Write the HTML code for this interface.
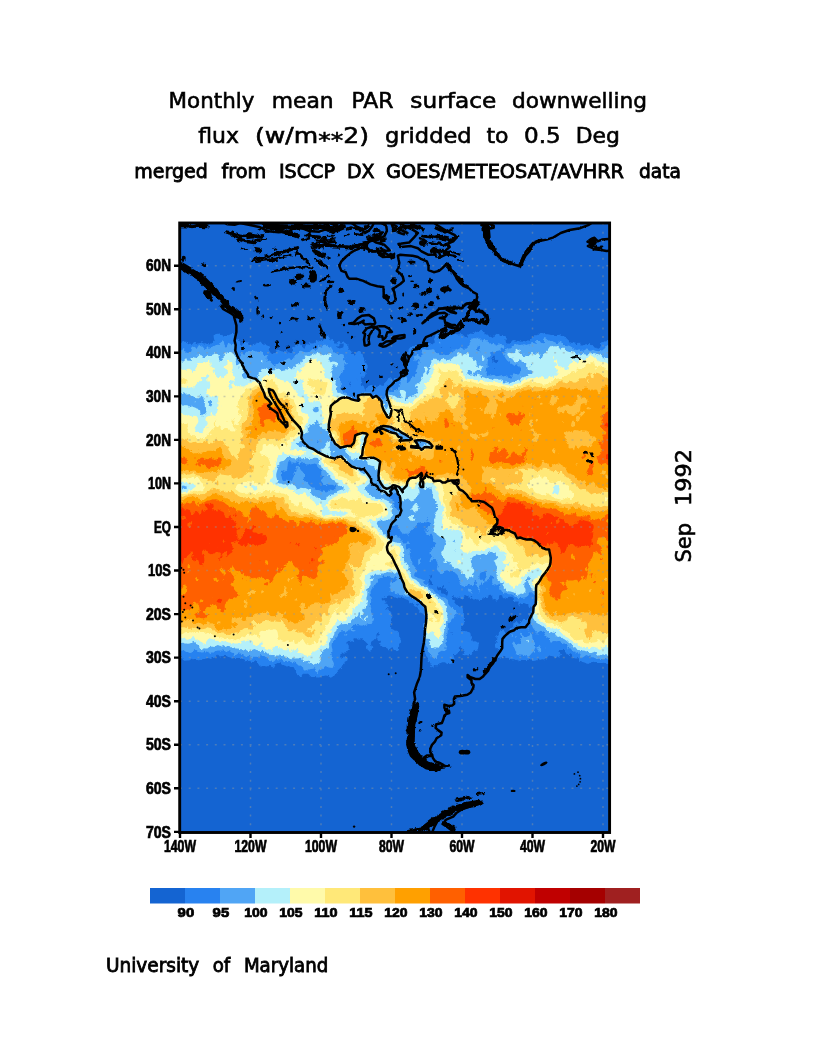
<!DOCTYPE html>
<html><head><meta charset="utf-8"><title>Monthly mean PAR surface downwelling flux</title>
<style>
html,body{margin:0;padding:0;background:#fff}
svg{display:block}
text{font-family:"Liberation Sans",sans-serif;fill:#000}
.t1 text{font-family:"DejaVu Sans","Liberation Sans",sans-serif;stroke:#000;stroke-width:.6px}
.t2 text{font-family:"DejaVu Sans","Liberation Sans",sans-serif;stroke:#000;stroke-width:.85px}
.ax text{font-weight:bold;stroke:#000;stroke-width:.7px}
</style></head><body>
<svg width="816" height="1056" viewBox="0 0 816 1056">
<rect width="816" height="1056" fill="#fff"/>
<g class="t1">
<text x="168.6" y="108.2" font-size="22" textLength="85.8" lengthAdjust="spacingAndGlyphs">Monthly</text>
<text x="271.8" y="108.2" font-size="22" textLength="61.9" lengthAdjust="spacingAndGlyphs">mean</text>
<text x="351.5" y="108.2" font-size="22" textLength="42.0" lengthAdjust="spacingAndGlyphs">PAR</text>
<text x="410.3" y="108.2" font-size="22" textLength="86.0" lengthAdjust="spacingAndGlyphs">surface</text>
<text x="512.0" y="108.2" font-size="22" textLength="135.0" lengthAdjust="spacingAndGlyphs">downwelling</text>
<text x="198.3" y="143.4" font-size="22" textLength="40.7" lengthAdjust="spacingAndGlyphs">flux</text>
<text x="255.0" y="143.4" font-size="22" textLength="114.0" lengthAdjust="spacingAndGlyphs">(w/m<tspan dy="4.5">**</tspan><tspan dy="-4.5">2)</tspan></text>
<text x="385.0" y="143.4" font-size="22" textLength="86.7" lengthAdjust="spacingAndGlyphs">gridded</text>
<text x="486.4" y="143.4" font-size="22" textLength="22.1" lengthAdjust="spacingAndGlyphs">to</text>
<text x="524.0" y="143.4" font-size="22" textLength="36.7" lengthAdjust="spacingAndGlyphs">0.5</text>
<text x="575.7" y="143.4" font-size="22" textLength="44.2" lengthAdjust="spacingAndGlyphs">Deg</text>
<g transform="translate(690.9,562.6) rotate(-90)">
<text x="0.0" y="0.0" font-size="22" textLength="39.6" lengthAdjust="spacingAndGlyphs">Sep</text>
<text x="56.5" y="0.0" font-size="22" textLength="57.0" lengthAdjust="spacingAndGlyphs">1992</text>
</g></g>
<g class="t2">
<text x="134.3" y="177.5" font-size="19.2" textLength="73.5" lengthAdjust="spacingAndGlyphs">merged</text>
<text x="221.5" y="177.5" font-size="19.2" textLength="44.8" lengthAdjust="spacingAndGlyphs">from</text>
<text x="278.9" y="177.5" font-size="19.2" textLength="56.1" lengthAdjust="spacingAndGlyphs">ISCCP</text>
<text x="346.9" y="177.5" font-size="19.2" textLength="27.6" lengthAdjust="spacingAndGlyphs">DX</text>
<text x="386.0" y="177.5" font-size="19.2" textLength="238.0" lengthAdjust="spacingAndGlyphs">GOES/METEOSAT/AVHRR</text>
<text x="639.0" y="177.5" font-size="19.2" textLength="42.0" lengthAdjust="spacingAndGlyphs">data</text>
<text x="105.9" y="972.0" font-size="19.6" textLength="93.4" lengthAdjust="spacingAndGlyphs">University</text>
<text x="212.7" y="972.0" font-size="19.6" textLength="17.5" lengthAdjust="spacingAndGlyphs">of</text>
<text x="243.9" y="972.0" font-size="19.6" textLength="84.5" lengthAdjust="spacingAndGlyphs">Maryland</text>
</g>
<filter id="rough" x="-5%" y="-5%" width="110%" height="110%"><feTurbulence type="fractalNoise" baseFrequency="0.22" numOctaves="2" seed="3" result="n"/><feDisplacementMap in="SourceGraphic" in2="n" scale="4.5" xChannelSelector="R" yChannelSelector="G"/></filter>
<filter id="rough2" x="-5%" y="-5%" width="110%" height="110%"><feTurbulence type="fractalNoise" baseFrequency="0.35" numOctaves="2" seed="8" result="n"/><feDisplacementMap in="SourceGraphic" in2="n" scale="3.5" xChannelSelector="R" yChannelSelector="G"/></filter>
<filter id="rough3" x="-5%" y="-5%" width="110%" height="110%"><feTurbulence type="fractalNoise" baseFrequency="0.45" numOctaves="1" seed="11" result="n"/><feDisplacementMap in="SourceGraphic" in2="n" scale="2.2" xChannelSelector="R" yChannelSelector="G"/></filter>
<clipPath id="c"><rect x="180" y="223" width="429.6" height="609.5"/></clipPath>
<g clip-path="url(#c)">
<rect x="180" y="223" width="430" height="610" fill="#1464d2"/>
<g filter="url(#rough2)"><path fill="#2882f0" d="M440.7 329.9L441.7 329.2L443.5 329.5L444.3 329.9L443.5 330.6L442.9 332.1L441.7 333.1L440.7 334.3L441 336.5L441.7 337.6L443.5 338L444.7 336.5L445.3 335.6L446.7 334.3L447 333.8L448 334.3L448.8 334.8L450.5 334.6L451.3 334.3L452.3 333.9L454.1 333.9L455.8 333.9L456.6 334.3L457.6 334.6L459.4 334.3L459.5 334.3L461.1 333.9L462.2 334.3L462.9 334.6L464.3 336.5L464.6 337.2L466.4 337.7L468 336.5L468.2 335.7L468.6 334.3L469.9 333.5L471.7 333.7L473.5 334.1L475.2 332.8L476.8 332.1L477 332L478.7 331.3L480.5 331L482.3 330.8L484 332.1L484.5 332.1L484.5 334.3L485.8 334.7L487.6 334.4L489.2 336.5L489.3 336.5L491.1 337L492.8 338.1L493.9 336.5L494.6 335.5L496.1 334.3L496.4 333.9L498.1 333.4L499.3 334.3L499.9 335.9L501.7 336L503.4 335L505.2 335.7L505.8 336.5L505.7 338.6L505.6 340.8L506.1 343L506.9 343.6L508.7 343.7L510.2 343L510.5 342.9L512 340.8L512.2 340.4L514 340L515.8 340.5L517.2 340.8L517.5 340.9L519.3 341.1L521 341.4L522.8 341.8L524.6 341.4L526.3 341.3L528 340.8L528.1 340.7L529.9 339.5L530.5 338.6L531.6 337.3L533.4 337L533.9 336.5L535.1 335.3L536.9 335.2L538.7 334.7L539.1 334.3L540.4 333L542.2 333.1L544 333.6L545.7 334.1L547.5 334.2L547.8 334.3L549.2 334.4L551 335.1L552.8 335.3L554.5 335.5L556.3 336.3L558.1 335L559.8 334.5L561.6 335.6L563.3 336.4L563.5 336.5L565.1 336.7L566.9 338.6L566.9 338.7L568.6 340.2L569 340.8L570.4 342.4L572 343L572.2 343.1L572.3 343L573.9 341.8L574.9 343L575.7 344L577.4 344.2L578.5 343L579.2 342.7L579.9 343L581 345.2L581 345.2L582.7 345.6L583.3 345.2L584.5 344.5L586.3 344.3L588 344L589.8 344.2L591.5 345L591.7 345.2L593.3 346L594.5 347.4L595.1 347.7L596.8 348.3L598.6 348.8L600.2 347.4L600.4 346.7L600.8 345.2L601.5 343L602.1 342.2L603.9 341.3L605.6 341.6L607.4 341L609.2 341.1L610.9 341.3L612.7 341.9L612.7 343L612.7 345.2L612.7 347.4L612.7 349.5L612.7 351.7L612.7 353.9L612.7 356.1L612.7 358.2L612.7 360.4L612.7 362.6L612.7 364.8L612.7 367L612.7 369.1L612.7 371.3L612.7 373.5L612.7 375.7L612.7 377.8L612.7 380L612.7 382.2L612.7 384.4L612.7 386.6L612.7 388.7L612.7 390.9L612.7 393.1L612.7 395.3L612.7 397.4L612.7 399.6L612.7 401.8L612.7 404L612.7 406.1L612.7 408.3L612.7 410.5L612.7 412.7L612.7 414.9L612.7 417L612.7 419.2L612.7 421.4L612.7 423.6L612.7 425.7L612.7 427.9L612.7 430.1L612.7 432.3L612.7 434.5L612.7 436.6L612.7 438.8L612.7 441L612.7 443.2L612.7 445.3L612.7 447.5L612.7 449.7L612.7 451.9L612.7 454.1L612.7 456.2L612.7 458.4L612.7 460.6L612.7 462.8L612.7 464.9L612.7 467.1L612.7 469.3L612.7 471.5L612.7 473.7L612.7 475.8L612.7 478L612.7 480.2L612.7 482.4L612.7 484.5L612.7 486.7L612.7 488.9L612.7 491.1L612.7 493.2L612.7 495.4L612.7 497.6L612.7 499.8L612.7 502L612.7 504.1L612.7 506.3L612.7 508.5L612.7 510.7L612.7 512.8L612.7 515L612.7 517.2L612.7 519.4L612.7 521.6L612.7 523.7L612.7 525.9L612.7 528.1L612.7 530.3L612.7 532.4L612.7 534.6L612.7 536.8L612.7 539L612.7 541.2L612.7 543.3L612.7 545.5L612.7 547.7L612.7 549.9L612.7 552L612.7 554.2L612.7 556.4L612.7 558.6L612.7 560.8L612.7 562.9L612.7 565.1L612.7 567.3L612.7 569.5L612.7 571.6L612.7 573.8L612.7 576L612.7 578.2L612.7 580.3L612.7 582.5L612.7 584.7L612.7 586.9L612.7 589.1L612.7 591.2L612.7 593.4L612.7 595.6L612.7 597.8L612.7 599.9L612.7 602.1L612.7 604.3L612.7 606.5L612.7 608.7L612.7 610.8L612.7 613L612.7 615.2L612.7 617.4L612.7 619.5L612.7 621.7L612.7 623.9L612.7 626.1L612.7 628.3L612.7 630.4L612.7 632.6L612.7 634.8L612.7 637L612.7 639.1L612.7 641.3L612.7 643.5L612.7 645.7L612.7 647.9L612.7 650L612.7 652.2L612.7 654.4L612.7 656.6L612.7 658.7L612.7 660.4L611.4 660.9L610.9 661.3L609.7 663.1L609.2 663.8L607.4 664.1L605.6 663.6L604.6 663.1L603.9 662.8L602.2 663.1L602.1 663.1L601.7 663.1L600.4 663L598.6 663L596.8 662.1L595.1 662.2L593.3 661.8L591.5 662L590.7 663.1L589.8 663.7L588 663.7L586.3 663.4L585.8 663.1L584.5 662.5L582.7 662L581 661.5L579.7 660.9L579.2 660.6L578 658.7L577.4 658.1L575.7 658.5L573.9 658.1L572.2 656.6L572 656.6L572 654.4L570.4 653.2L569 654.4L568.6 655L566.9 654.4L566.9 654.4L565.5 652.2L565.1 651.9L563.9 650L563.3 648.9L561.6 648.9L559.8 649.9L559.3 650L558.1 651.5L557.9 652.2L558.1 652.3L559.8 653.1L560.9 654.4L559.8 656.3L559.4 656.6L558.1 657.4L556.3 657.5L554.5 657.3L553.7 656.6L552.8 656.2L551 656.1L549.2 655.6L548 656.6L547.5 656.9L545.7 658.2L545 658.7L544 659.6L542.2 659.2L540.4 659.7L538.7 659.5L536.9 660.1L535.1 660.7L533.4 660.9L531.6 659.2L529.9 659.4L528.1 659.8L526.3 659.9L524.6 660L522.8 659.8L521.3 660.9L521 661.3L520.5 660.9L519.3 660.5L517.5 659.7L515.8 660.1L514 659.2L512.2 659.2L510.5 658.9L509.2 658.7L508.7 658.7L506.9 657.6L505.2 656.6L503.4 656.9L501.7 657.6L499.9 657.4L498.1 657.3L497.8 656.6L497.3 654.4L498.1 653.1L498.9 652.2L498.5 650L498.1 649.7L496.5 647.9L496.4 647.6L495.8 645.7L495.6 643.5L496.4 642.7L497.1 641.3L497.2 639.1L496.4 637.4L496.1 637L496.4 636.6L497.9 634.8L498.1 634.5L499.6 632.6L499.9 631.2L500.2 630.4L501.7 629.5L503.4 630.4L503.4 630.4L505.2 632.3L505.4 632.6L506.9 633.6L508.7 633.4L509.3 632.6L509.1 630.4L510.2 628.3L510.5 628.1L510.8 628.3L512.2 629.4L513.6 628.3L513.3 626.1L513.4 623.9L514 623.3L515.8 622L517.5 622.3L519 623.9L519.3 624.1L519.4 623.9L521 622.2L521.5 621.7L522.8 619.9L524.6 620.1L526.3 619.9L526.6 619.5L528.1 618L528.8 617.4L529.9 616.2L530 615.2L530.6 613L531.6 611.1L531.7 610.8L532.3 608.7L531.7 606.5L531.6 606.1L531.1 606.5L529.9 606.9L528.4 606.5L528.4 604.3L528.1 604.1L526.3 603.9L524.6 603.3L522.8 603.1L521 603.4L520.4 604.3L519.3 606L518.1 604.3L518.7 602.1L517.5 601.6L515.8 601.5L514.2 599.9L514 599.8L512.3 597.8L512.2 597.7L510.5 596.8L508.7 597L506.9 596.9L505.3 597.8L505.2 598L503.4 598.3L502.8 597.8L502.1 595.6L501.7 595.3L499.9 595.1L499.2 595.6L498.9 597.8L498.1 599.7L497.8 599.9L496.4 600.6L494.6 600.1L494.5 599.9L492.8 598.8L492.2 597.8L492.3 595.6L491.1 594.4L489.5 595.6L489.3 595.8L487.6 596.9L485.8 597.1L484 597.3L483.1 597.8L482.3 598.4L480.6 599.9L480.5 600L479.7 599.9L478.7 599.8L477 599.2L475.4 599.9L475.2 600L474.9 599.9L473.5 599.6L471.7 598.2L471.3 597.8L469.9 596.3L468.2 596.6L467.3 595.6L466.4 595.2L464.6 595.3L464.1 595.6L463.7 597.8L462.9 599.7L461.1 598.1L460.8 597.8L459.4 596.5L457.6 597.5L456.8 597.8L455.8 598.2L455.1 597.8L454.1 597L452.5 595.6L452.3 595.4L452.2 595.6L451.7 597.8L452.3 599.2L452.8 599.9L454.1 602L454.1 602.1L455.8 604.3L455.8 604.3L457.6 605.5L458 606.5L459.4 607.2L460.4 606.5L461.1 605.9L462.4 606.5L462.8 608.7L462.9 609.6L463.2 610.8L463.9 613L464.1 615.2L464 617.4L463.8 619.5L464.2 621.7L464 623.9L462.9 625.8L462.4 626.1L461.1 627.6L461 628.3L461.1 628.8L462.1 630.4L462.9 631.2L464.6 630.9L466.4 631.6L468.2 631.9L469.9 632.4L470.2 632.6L470.7 634.8L470.8 637L471.7 638.5L472.1 639.1L472.7 641.3L473.5 641.6L474.9 641.3L475.2 641.2L475.4 641.3L477 642L478.6 643.5L478.6 645.7L478.1 647.9L478 650L477 650.9L475.4 650L475.2 649.6L474.6 650L473.5 650.5L473 652.2L471.7 653.9L470.9 654.4L469.9 655.1L468.2 655.4L466.4 655L464.6 655.2L462.9 655.5L462.6 654.4L462.9 653.2L464.6 653.5L465 652.2L464.6 651.6L462.9 650L462.9 650L461.9 647.9L461.1 646.1L459.4 646.9L458.7 647.9L459.4 649.6L460.3 650L459.4 650.7L458.9 652.2L457.6 653.3L456 654.4L455.8 654.6L455.6 654.4L454.1 653.8L453.5 654.4L453.7 656.6L454.1 657.5L454.5 658.7L454.1 660.9L454.1 661L452.5 663.1L452.3 663.5L450.5 663.7L448.8 664.1L447 664.1L446 663.1L445.3 662.4L443.5 662L441.7 662.6L440.9 663.1L440 663.9L438.2 665.3L438.2 665.3L436.4 665.3L436.3 665.3L434.7 664.9L433.8 665.3L433.6 667.4L432.9 668L432 667.4L431.2 666.5L430.7 665.3L430.1 663.1L429.4 662.2L428.5 660.9L427.6 658.8L427.6 658.7L426.6 656.6L425.9 655L425.7 654.4L425 652.2L424.8 650L424.1 648.3L423.8 647.9L423.5 645.7L423.1 643.5L422.9 641.3L424.1 639.5L424.3 639.1L424.1 637.3L423.9 637L424.1 635.5L424.1 634.8L424.3 632.6L424.3 630.4L424.3 628.3L424.2 626.1L424.3 623.9L424.9 621.7L425.9 620.2L425.9 619.5L426 617.4L425.9 615.7L425.5 615.2L424.1 613.2L422.3 613.5L421.5 613L420.6 611.8L419.9 610.8L418.8 610L418.2 608.7L417.1 606.7L415.3 606.7L415 606.5L413.5 605L412.9 604.3L411.8 603.3L410 602.8L409.4 602.1L408.2 600.1L408.1 599.9L406.5 599.5L404.7 598.7L403.2 597.8L403 597.7L402.3 597.8L401.2 598L399.5 597.8L399.4 597.8L397.7 597.2L395.9 597.6L394.1 597.4L392.4 596.1L390.6 595.7L389.8 595.6L388.9 595.5L388.7 595.6L387.1 596.3L385.3 597.7L385 597.8L383.6 598.4L381.9 597.8L381.8 597.7L381.8 597.8L381.7 599.9L381.8 600L383.6 601L385.3 601.5L385.9 602.1L385.3 603.8L384.9 604.3L385.3 604.6L385.8 604.3L387.1 603.6L387.5 604.3L388.2 606.5L387.1 607.7L386.2 608.7L387.1 609.5L388.8 608.7L388.9 608.6L388.9 608.7L390 610.8L390.6 611.9L391.1 613L391.4 615.2L391.1 617.4L391.6 619.5L391.4 621.7L390.6 623L390 623.9L390.4 626.1L390.6 626.7L391.6 628.3L392.4 629.3L394.1 630.1L395.3 630.4L395.9 630.5L397.7 631.1L398.9 632.6L399.1 634.8L399.3 637L399.4 637.2L400.9 639.1L401.1 641.3L400.6 643.5L399.4 645L398.9 645.7L399.1 647.9L399.1 650L397.7 650.8L395.9 651.2L394.1 650.6L393.8 650L392.9 647.9L392.4 647L391 647.9L390.6 648.2L388.9 649.4L387.1 648.2L386.5 647.9L385.3 646.9L383.6 647L381.8 646.9L380.3 645.7L380.2 643.5L381 641.3L380 640.6L378.3 640.9L377.1 639.1L376.5 637L378.3 635.7L379.2 634.8L378.3 632.8L376.5 634.4L376.4 634.8L376.5 637L375.6 639.1L374.8 639.6L373 640.5L371.7 641.3L371.2 642.1L370.8 643.5L371.2 645L371.5 645.7L372.4 647.9L371.5 650L371.2 650.3L369.5 650.8L367.7 650L367.7 650L367.1 647.9L366.6 645.7L367.3 643.5L365.9 642.2L365 641.3L364.2 640.3L362.4 639.6L360.7 639.2L358.9 639.7L358.2 639.1L357.1 638.6L355.4 637.9L353.6 638.4L353.3 639.1L353.6 640.2L354.2 641.3L353.6 641.9L351.8 641.7L351.5 641.3L350.1 640.5L348.3 640.9L347.6 641.3L347.4 643.5L348.3 645.1L348.6 645.7L348.8 647.9L348.3 649.3L348 650L346.7 652.2L346.6 652.5L344.8 652.4L343.4 652.2L343 652.2L343 652.2L341.3 653.9L341 654.4L339.9 656.6L341.3 658.7L343 657.2L343.7 656.6L344.8 655.5L346.1 656.6L346.6 657L347.9 658.7L346.8 660.9L346.6 661.2L344.8 661.5L344.4 663.1L343 664.3L342.4 665.3L341.3 667.3L341 667.4L339.5 668.8L339.1 669.6L337.7 670.4L337 671.8L336 674L335.8 674L334.2 674.2L333 676.2L332.5 676.8L330.7 677.8L328.9 676.4L328.6 676.2L327.2 675.7L325.4 675.6L323.6 675.9L321.9 676.1L321.6 676.2L320.1 677.2L318.4 677.5L316.6 677.5L314.8 677.1L313.1 677L311.3 677L310.6 676.2L309.5 674.9L308.3 674L307.8 673.5L306 673.7L304.3 673.8L303.4 674L302.5 674.8L300.7 675.8L299.1 676.2L299 676.2L298.9 676.2L297.2 674.7L296.8 674L296.1 671.8L295.4 670.6L294.9 669.6L293.8 667.4L293.7 667.3L291.9 666.1L290.2 666.6L288.4 666.3L286.6 666.6L284.9 665.4L283.1 665.3L283 665.3L281.3 664.2L280.2 663.1L279.6 662.9L277.8 663L277.6 663.1L276.1 663.8L275.2 665.3L274.3 667.4L274.2 667.4L272.5 668.3L271.8 667.4L270.8 665.8L269 665.9L267.2 666.5L265.5 666L263.7 666.1L262 666L260.2 666.4L259.1 665.3L258.4 663.9L258 663.1L256.7 661.5L255.6 660.9L254.9 660.8L254.7 660.9L253.1 661.8L251.4 661.8L249.6 660.9L247.9 661.2L247.3 660.9L246.1 660.6L244.3 659.4L242.9 658.7L242.6 658.6L240.8 657.9L239 658.1L237.3 657.9L235.5 658.1L233.8 658L232 658.6L230.5 658.7L230.2 658.8L230.2 658.7L228.5 657.5L227.5 656.6L226.7 656L224.9 655.7L223.2 656.1L221.4 656.2L219.7 656.4L217.9 654.6L216.1 656.5L216.1 656.6L214.4 657.7L212.6 658L211 658.7L210.8 658.9L210.3 658.7L209.1 658.3L207.3 658L205.6 658.7L205.6 658.7L205.6 658.7L203.8 658.1L203.1 658.7L202 659.4L200.3 660.1L198.5 660.2L196.7 660L195 659.9L193.2 658.9L191.7 658.7L191.5 658.7L191.4 658.7L189.7 660.3L187.9 660.5L186.2 660.4L184.4 660.8L182.6 659.2L182.4 658.7L181.9 656.6L180.9 655.5L179.3 656.6L179.1 656.7L179.1 656.6L179.1 654.4L179.1 652.2L179.1 650L179.1 647.9L179.1 645.7L179.1 643.5L179.1 641.3L179.1 639.1L179.1 637L179.1 634.8L179.1 632.6L179.1 630.4L179.1 628.3L179.1 626.1L179.1 623.9L179.1 621.7L179.1 619.5L179.1 617.4L179.1 615.2L179.1 613L179.1 610.8L179.1 608.7L179.1 606.5L179.1 604.3L179.1 602.1L179.1 599.9L179.1 597.8L179.1 595.6L179.1 593.4L179.1 591.2L179.1 589.1L179.1 586.9L179.1 584.7L179.1 582.5L179.1 580.3L179.1 578.2L179.1 576L179.1 573.8L179.1 571.6L179.1 569.5L179.1 567.3L179.1 565.1L179.1 562.9L179.1 560.8L179.1 558.6L179.1 556.4L179.1 554.2L179.1 552L179.1 549.9L179.1 547.7L179.1 545.5L179.1 543.3L179.1 541.2L179.1 539L179.1 536.8L179.1 534.6L179.1 532.4L179.1 530.3L179.1 528.1L179.1 525.9L179.1 523.7L179.1 521.6L179.1 519.4L179.1 517.2L179.1 515L179.1 512.8L179.1 510.7L179.1 508.5L179.1 506.3L179.1 504.1L179.1 502L179.1 499.8L179.1 497.6L179.1 495.4L179.1 493.2L179.1 491.1L179.1 488.9L179.1 486.7L179.1 484.5L179.1 482.4L179.1 480.2L179.1 478L179.1 475.8L179.1 473.7L179.1 471.5L179.1 469.3L179.1 467.1L179.1 464.9L179.1 462.8L179.1 460.6L179.1 458.4L179.1 456.2L179.1 454.1L179.1 451.9L179.1 449.7L179.1 447.5L179.1 445.3L179.1 443.2L179.1 441L179.1 438.8L179.1 436.6L179.1 434.5L179.1 432.3L179.1 430.1L179.1 427.9L179.1 425.7L179.1 423.6L179.1 421.4L179.1 419.2L179.1 417L179.1 414.9L179.1 412.7L179.1 410.5L179.1 408.3L179.1 406.1L179.1 404L179.1 401.8L179.1 399.6L179.1 397.4L179.1 395.3L179.1 393.1L179.1 390.9L179.1 388.7L179.1 386.6L179.1 384.4L179.1 382.2L179.1 380L179.1 377.8L179.1 375.7L179.1 373.5L179.1 371.3L179.1 369.1L179.1 367L179.1 364.8L179.1 362.6L179.1 360.4L179.1 358.2L179.1 356.1L179.1 353.9L179.1 351.7L179.1 349.5L179.1 347.4L179.1 345.2L179.1 343L179.1 341.7L180.9 342L182.6 341.2L184.4 341.7L186.2 341.7L187.9 342.8L188.3 343L189.7 344.1L191.5 343.5L192.4 343L193.2 342.4L194.5 343L195 343.2L196.7 343.5L198.5 343.4L199.9 343L200.3 342.5L202 342.5L202.4 343L203.8 343.4L205.6 343.2L207.3 344.3L209.1 344.4L210.8 343.2L211.2 343L212.6 342.4L214.4 341.1L215 340.8L214.4 340.2L213.9 338.6L213.6 336.5L214.4 334.9L215.5 334.3L216.1 334L217.9 333.8L219.7 333.6L220.3 334.3L221.4 335L223.2 335.4L224.9 335.7L226.7 335.1L228.5 335.3L230.2 334.4L230.8 334.3L232 334.1L233.8 333.9L235.5 333.8L235.8 334.3L235.5 335L234.7 336.5L235.1 338.6L235.5 340.3L237.3 339L239 340.4L239.5 340.8L240.2 343L239.9 345.2L240.8 346.4L241.8 345.2L242.6 344.5L243.6 343L244.3 341.8L246.1 342.3L247.9 342.6L248.6 343L249.6 344.9L249.9 345.2L251.4 345.6L252.3 345.2L253.1 344.1L254.9 343.7L255.8 343L256.7 342.8L258.1 343L258.4 343.1L258.6 343L260.2 341.4L261.8 343L262 343.2L263.7 345.2L263.7 345.3L263.7 345.2L265.5 344L266.7 345.2L267.2 345.5L269 346.4L269.7 347.4L269 348.8L268.7 349.5L269 350.2L269.9 351.7L270.8 353L272.5 353.6L274.3 353.1L275.4 351.7L276.1 350.3L277.8 350.1L279.6 350.5L281.3 351.2L283.1 351.4L284.9 351.1L286.6 351.4L286.9 351.7L288.4 353.1L290.2 352.3L291.9 351.9L292.2 351.7L292.2 349.5L293.3 347.4L293.7 347L295.2 345.2L295.4 344.3L296.4 343L297.2 342.6L298.1 343L299 343.3L300.7 345.2L300.7 345.2L302.5 347.3L303 347.4L304.3 347.6L304.7 347.4L305.9 345.2L306 345L307.8 344.2L309.5 343.2L311.3 343.3L313.1 343.6L314.1 343L314.8 342.6L316.6 340.9L316.7 340.8L318.4 340.5L319.3 340.8L320.1 341.1L321.9 341.3L323.1 340.8L323.5 338.6L323.6 337.4L323.8 336.5L325.4 334.7L327.2 335.2L328.4 336.5L328.9 337.2L329.9 338.6L330.7 340.7L332.5 340.1L333.4 340.8L334.2 341.4L335.4 343L336 345L336.7 343L337.7 341.5L339.5 341.3L341.3 342.4L343 341.7L344.8 342.7L345 343L346.6 344L348.2 345.2L348.3 347.4L348.3 347.5L349.1 349.5L350.1 350.3L351.5 351.7L351.8 352.9L352.2 353.9L353.6 355.7L354.9 353.9L355.4 353.5L357.1 351.7L357.2 351.7L358.9 350.8L360.7 351.6L360.7 351.7L362.4 353.9L362.4 354.2L362.8 356.1L364 358.2L364.1 360.4L364.2 360.8L365.2 362.6L365.9 363.6L366.6 364.8L367.7 366.8L367.8 367L367.7 367.2L367.1 369.1L365.9 370.9L365.8 371.3L365.5 373.5L364.6 375.7L364.2 375.9L362.4 376.8L360.8 377.8L361.4 380L361.3 382.2L360.7 383.9L360.6 384.4L360.7 384.5L362.4 385.3L364 386.6L364.2 387.4L364.6 388.7L365.8 390.9L365.9 390.9L366.1 390.9L366.8 388.7L367.7 386.6L367.7 386.6L369.5 385.5L371.2 385.1L373 385.5L374.8 386.1L375.5 386.6L376.5 387.2L377.8 386.6L378.3 386.2L380 384.4L380 384.3L380.1 384.4L381.8 385.8L383.6 385.7L385 384.4L385.2 382.2L385.3 381.9L387.1 380.2L387.3 380L388.7 377.8L388.9 377.7L389.4 377.8L390.6 378.4L392.4 379.4L394.1 379.9L395.9 378.4L397.7 378L399.4 378.6L400 377.8L401.2 376.5L402.4 375.7L403 374.6L404.7 374L406.5 374.3L407.6 373.5L407.4 371.3L406.5 369.9L405.9 369.1L405.7 367L405.5 364.8L404.7 363.5L404 362.6L403.8 360.4L403.8 358.2L404.7 357.3L405.5 358.2L405.4 360.4L406.1 362.6L406.5 362.8L406.6 362.6L408.2 361.3L409.3 360.4L409.2 358.2L409.9 356.1L408.2 354.2L408.1 353.9L408.2 352.3L408.4 351.7L408.6 349.5L410 347.6L410.1 347.4L411.8 345.9L413.5 346.2L415.3 345.9L417.1 345.5L418.8 345.8L420.6 345.8L422.3 346.1L424.1 345.5L424.8 345.2L424.1 344.3L423.8 343L424.1 341.1L425.9 341.3L427.1 343L427.6 344L429.4 344.1L431.2 344.4L432.9 344.2L433.7 343L434.7 341.2L435.9 340.8L434.7 339.8L434.2 338.6L434.7 337.7L435.2 336.5L435.1 334.3L436.4 333.5L437.4 332.1L438.2 331.1L440 330.5ZM441.7 346.9L440.2 347.4L441.7 347.9L442.3 347.4ZM448.8 582.2L448.7 582.5L448.8 583L449 582.5ZM450.5 346.7L450.3 347.4L450.5 348.2L450.9 347.4ZM492.8 355.8L492.7 356.1L492.5 358.2L492.3 360.4L492.8 360.9L494.6 362.3L494.9 362.6L496.4 363.3L497.3 362.6L497.1 360.4L496.4 360.1L494.7 358.2L494.9 356.1L494.6 355.7ZM501.7 646.3L501.2 647.9L501.7 648.5L502.2 647.9ZM452.3 632.1L451.5 632.6L452.1 634.8L452.3 635L452.5 634.8L452.5 632.6ZM392.4 631.7L391.8 632.6L392.4 633.1L393.2 632.6ZM341.3 343.6L340 345.2L339.5 345.6L337.7 345.3L337.2 347.4L337.7 348.1L339.5 348.4L341.3 348L343 347.5L343.2 347.4L343.7 345.2L343 343.8ZM350.1 381L349.3 382.2L349.4 384.4L350.1 385.4L351.5 384.4L350.4 382.2ZM357.1 379.7L357 380L357.1 380.4L357.5 380ZM360.7 372.2L359.9 373.5L360.7 374.1L361.1 373.5ZM417.1 603.8L416.5 604.3L417.1 605.9L418.8 604.8L419.2 604.3L418.8 603.9ZM429.4 579.1L428.8 580.3L428.4 582.5L429.4 583.6L430.5 584.7L431.2 585.2L432 584.7L432 582.5L431.2 581L430.2 580.3ZM431.2 574.4L430.3 576L430.5 578.2L431.2 578.7L431.4 578.2L432.1 576ZM441.7 586.4L440.7 586.9L440 587.2L438.2 587.6L438.1 589.1L438.2 589.2L440 590.5L440.7 591.2L441.7 592.6L442.3 593.4L443.5 594.3L445.3 594.9L446.6 595.6L447 595.8L447.2 595.6L447.9 593.4L448 591.2L447 591.2L445.3 589.8L444.7 589.1L444 586.9L443.5 585.9ZM450.5 641.3L450.5 641.3L450.5 641.6L450.6 641.3ZM494.6 367.9L494.2 369.1L494.6 369.6L495.1 369.1ZM487 332.1L487.6 332.1L487.9 332.1L487.6 333.4Z"/>
<path fill="#50a5f5" d="M471.5 338.6L471.7 338.3L473.5 338.3L475.2 338.3L475.8 338.6L477 339.1L478.7 338.7L479.6 338.6L480.5 338.6L480.6 338.6L482.1 340.8L482.3 340.9L482.4 340.8L484 339.4L485.8 340.3L487.6 340.3L488.5 340.8L489 343L489.3 343.9L491.1 343L492.8 343.9L494.6 344.7L495.7 345.2L496.4 345.8L497 345.2L498.1 344.6L499.9 344.3L501.6 345.2L501.7 345.3L502 345.2L503.4 344.9L503.7 345.2L504.5 347.4L503.4 347.7L501.7 348.5L500.7 349.5L499.9 350.2L498.1 350.7L496.4 351L495.6 351.7L494.6 352L492.8 352.3L491.1 352.7L489.8 353.9L489.8 356.1L489.3 357.4L487.9 358.2L487.9 360.4L487.6 362.6L487.6 364.2L487.5 364.8L487.6 365L487.7 367L487.6 367.5L486.6 369.1L485.8 370.5L485.5 371.3L485.8 372L486.4 373.5L487.6 374.2L489.3 375.5L491.1 375.2L492.8 375L494.6 374.9L495.3 375.7L496.4 376.2L498.1 376L499.9 375.7L500.1 375.7L501.7 375.1L502 375.7L503.4 376.6L505.2 375.8L505.9 375.7L506.9 375.5L507.1 375.7L508.3 377.8L508.7 378.3L510.5 378.6L512 377.8L511.2 375.7L512.2 374.4L513.5 373.5L514 373.2L514.3 373.5L515.8 374.6L517.5 374.5L519.3 373.8L519.7 373.5L521 371.3L520.5 369.1L519.7 367L519.3 365.9L518.7 364.8L517.5 364.4L515.8 364.3L514.4 364.8L514 365.7L513.4 364.8L512.2 364.2L510.5 363.1L509.7 362.6L508.7 361.7L507.1 360.4L506.9 360.3L505.5 358.2L505.2 357.6L504.1 356.1L503.4 355L502.9 353.9L503.4 352.7L504.2 351.7L505.2 350.8L506.8 349.5L506.9 349.4L508.7 348.5L510.5 348.5L511.9 347.4L512.2 346.9L514 345.5L514.4 345.2L515.8 344.2L517.5 344.6L519.3 344.9L521 344.6L522.8 344.7L524.6 344.2L526.3 344.9L528.1 344.3L529.9 344.2L531.6 343.2L533.4 343L535.1 343.4L535.4 343L536.6 340.8L536.9 340.4L538.7 339.8L539.7 340.8L540.4 342.2L541.4 343L542.2 343.3L544 343L544 343L544.2 340.8L544 339.9L543.7 338.6L544 338.2L545.7 338.5L545.8 338.6L547.5 340.1L548.9 340.8L549.2 341.1L551 341L552.8 341.5L554.5 342.1L556.2 343L556.3 343.1L557.5 343L558.1 343L559.8 341.8L561.6 342.6L561.9 343L563.3 344.1L564.3 345.2L565.1 346L566.9 346.3L568.6 345.6L570.4 346.2L572 347.4L572.2 347.5L573.9 348.6L575.4 349.5L575.7 349.7L577.4 350L578.6 349.5L579.2 349.3L579.7 349.5L581 350.4L582.7 350.7L584.5 350.2L585.7 349.5L586.3 349.3L586.8 349.5L588 350L589.8 350.8L591.5 350.6L593.3 349.8L595.1 350.8L596.8 351.1L598.6 351.2L600.4 350.4L602.1 350.5L603.3 349.5L603.9 349.3L605.5 347.4L605.6 347L607.3 345.2L607.4 345.1L608.2 345.2L609.2 345.3L609.5 345.2L610.9 344.7L612.7 344.7L612.7 345.2L612.7 347.4L612.7 349.5L612.7 351.7L612.7 353.9L612.7 356.1L612.7 358.2L612.7 360.4L612.7 362.6L612.7 364.8L612.7 367L612.7 369.1L612.7 371.3L612.7 373.5L612.7 375.7L612.7 377.8L612.7 380L612.7 382.2L612.7 384.4L612.7 386.6L612.7 388.7L612.7 390.9L612.7 393.1L612.7 395.3L612.7 397.4L612.7 399.6L612.7 401.8L612.7 404L612.7 406.1L612.7 408.3L612.7 410.5L612.7 412.7L612.7 414.9L612.7 417L612.7 419.2L612.7 421.4L612.7 423.6L612.7 425.7L612.7 427.9L612.7 430.1L612.7 432.3L612.7 434.5L612.7 436.6L612.7 438.8L612.7 441L612.7 443.2L612.7 445.3L612.7 447.5L612.7 449.7L612.7 451.9L612.7 454.1L612.7 456.2L612.7 458.4L612.7 460.6L612.7 462.8L612.7 464.9L612.7 467.1L612.7 469.3L612.7 471.5L612.7 473.7L612.7 475.8L612.7 478L612.7 480.2L612.7 482.4L612.7 484.5L612.7 486.7L612.7 488.9L612.7 491.1L612.7 493.2L612.7 495.4L612.7 497.6L612.7 499.8L612.7 502L612.7 504.1L612.7 506.3L612.7 508.5L612.7 510.7L612.7 512.8L612.7 515L612.7 517.2L612.7 519.4L612.7 521.6L612.7 523.7L612.7 525.9L612.7 528.1L612.7 530.3L612.7 532.4L612.7 534.6L612.7 536.8L612.7 539L612.7 541.2L612.7 543.3L612.7 545.5L612.7 547.7L612.7 549.9L612.7 552L612.7 554.2L612.7 556.4L612.7 558.6L612.7 560.8L612.7 562.9L612.7 565.1L612.7 567.3L612.7 569.5L612.7 571.6L612.7 573.8L612.7 576L612.7 578.2L612.7 580.3L612.7 582.5L612.7 584.7L612.7 586.9L612.7 589.1L612.7 591.2L612.7 593.4L612.7 595.6L612.7 597.8L612.7 599.9L612.7 602.1L612.7 604.3L612.7 606.5L612.7 608.7L612.7 610.8L612.7 613L612.7 615.2L612.7 617.4L612.7 619.5L612.7 621.7L612.7 623.9L612.7 626.1L612.7 628.3L612.7 630.4L612.7 632.6L612.7 634.8L612.7 637L612.7 639.1L612.7 641.3L612.7 643.5L612.7 645.7L612.7 647.9L612.7 650L612.7 652.2L612.7 654.4L612.7 656.6L612.7 657.9L610.9 658.6L610.7 658.7L609.2 659.8L607.4 659.5L606.8 658.7L605.6 658.1L604.6 658.7L603.9 659.3L602.1 659.1L600.4 659L598.6 658.8L598 658.7L596.8 658.6L595.1 658.3L593.3 657.2L591.5 657.2L589.8 656.6L589.7 656.6L588 655.8L586.3 655.1L584.5 656.2L584.2 656.6L582.7 657.4L581 657.5L580.1 656.6L580.6 654.4L579.2 653.1L577.6 652.2L577.4 652.1L577.2 652.2L575.7 653.4L574.1 652.2L573.9 652.1L572.2 650.3L571.8 650L570.4 648.3L568.6 648.2L567.6 647.9L566.9 646.2L566.8 645.7L565.1 644.1L563.5 643.5L563.3 643.4L561.6 642.5L560.2 641.3L559.8 641.1L558.1 641L556.3 641.2L554.5 640.8L552.8 641.3L552.7 641.3L551 643.1L550 641.3L550 639.1L549.2 638.2L547.5 637.2L547 637L545.7 636.1L545.1 634.8L544 632.6L544 632.5L542.2 631.7L540.4 630.7L538.7 632L537.7 632.6L537.3 634.8L536.9 635L536.9 634.8L536.5 632.6L535.1 630.8L535 630.4L533.4 628.5L533.2 628.3L532.1 626.1L532 623.9L531.6 623.1L529.9 622L529.8 621.7L529.5 619.5L529.9 619.1L530.8 617.4L530.9 615.2L531.6 614L532.1 613L532.3 610.8L533.4 609.2L533.8 608.7L533.7 606.5L535.1 604.6L535.4 604.3L535.4 602.1L535.2 599.9L535.2 597.8L535.1 596.7L534.4 595.6L533.4 593.9L532.9 593.4L531.6 592.2L529.9 592.6L529.4 593.4L528.1 595.6L528.1 595.6L526.3 597L524.6 597.4L522.8 597.7L522.5 597.8L521 598.1L519.3 598.1L517.5 597.9L515.8 598L515.6 597.8L514 595.9L513.8 595.6L512.2 594.5L510.5 594.3L508.7 594.2L506.9 593.5L506.7 593.4L505.2 592.9L503.4 592.2L501.7 591.8L500.7 591.2L499.9 590.1L499.1 589.1L499.4 586.9L499.9 586L500.2 584.7L499.9 584.3L498.1 584L496.7 584.7L496.4 585.2L494.6 585.5L493.4 584.7L492.8 584.1L492.1 582.5L492.2 580.3L492.8 579.1L493.1 578.2L492.8 577.6L491.7 576L491.1 574.9L489.6 576L489.3 576.3L488.4 578.2L487.8 580.3L487.6 581.2L485.8 581.3L484.2 582.5L484 583L482.5 584.7L482.3 584.7L482.2 584.7L480.5 583.3L479.7 584.7L479.2 586.9L479.2 589.1L479.5 591.2L478.9 593.4L478.7 593.4L478.7 593.4L478.4 591.2L478.1 589.1L477.3 586.9L477 586.4L476.5 584.7L477 583L477.2 582.5L477 582.4L475.2 580.7L474.2 582.5L474 584.7L473.5 585.3L471.7 584.9L469.9 585.2L468.2 584.9L466.4 585.4L464.6 586.5L462.9 586.2L461.1 585.2L460.9 584.7L459.8 582.5L459.4 581.1L459 580.3L458.9 578.2L458.1 576L457.6 575.3L456.3 573.8L455.8 573.3L454.1 571.9L453.5 571.6L452.3 571.3L450.5 570.5L448.8 570.8L447 570.3L445.3 570.7L444.5 571.6L443.5 573.7L442.8 573.8L441.7 574L441.5 573.8L440 572.7L438.5 571.6L438.2 571.2L436.9 569.5L436.9 567.3L437.8 565.1L437.6 562.9L436.4 560.9L436.3 560.8L435.6 558.6L434.7 557.5L432.9 558.6L432.9 558.6L432.1 560.8L431.2 562.1L429.7 560.8L430.3 558.6L431.2 557.7L432.2 556.4L431.2 555.3L429.7 554.2L429.6 552L431.2 549.9L431.2 549.9L432.9 547.8L433 547.7L434.6 545.5L434.7 545.2L436.4 543.3L434.7 542.2L434 541.2L433.1 539L432.9 538L432.7 536.8L432.2 534.6L431.2 533.5L429.7 534.6L429.4 535L427.6 534.8L427.5 534.6L425.9 533.1L425.4 532.4L425.7 530.3L425.9 528.1L425.9 528L427.6 527.4L428.8 525.9L429.4 524.9L429.9 523.7L429.4 522L427.6 521.7L425.9 522.6L424.1 522L422.3 522.9L420.6 523.3L418.8 522.2L417.4 523.7L417.1 524.3L416 525.9L415.3 527.3L414 528.1L413.5 528.3L411.8 529.4L411.3 530.3L410 531.6L408.7 532.4L408.8 534.6L408.2 536.5L407.4 534.6L406.5 533.5L404.7 533.7L403 534.4L401.8 532.4L401.2 532L399.9 530.3L399.4 529.9L398 528.1L397.7 526.1L397.5 525.9L395.9 524.2L394.3 525.9L394.1 526L392.4 526.3L390.6 527.3L389.4 528.1L388.9 530.3L388.9 530.3L387.1 532.4L387.9 534.6L388.7 536.8L388.9 537L390.6 536.9L392.1 536.8L392.4 536.7L394.1 535.4L395.9 536.1L397.7 536.4L399.4 536.5L399.7 536.8L400.5 539L401.2 539.9L401.8 541.2L403 542.6L404.2 543.3L404.7 543.8L406 543.3L406.5 543.2L408.2 541.2L408.2 540.9L408.4 541.2L409 543.3L408.2 543.9L406.5 543.6L405.8 545.5L406.1 547.7L406.5 548.4L408.2 549.6L410 549.1L411.4 549.9L410 551.6L409.7 552L409.7 554.2L410 555.4L410.1 556.4L410.3 558.6L411.3 560.8L411.8 562.6L412 562.9L413.4 565.1L413.5 565.3L415 567.3L415.3 567.7L417 569.5L417.1 571.1L417.1 571.6L417.1 571.7L415.3 572.2L414.3 573.8L414.2 576L415.3 576.7L417.1 577.6L418.2 578.2L418.8 578.3L420.6 578.8L422.3 579.5L424 580.3L423.2 582.5L424.1 583.7L425.8 584.7L425.9 584.7L427.6 585.3L429.1 586.9L429.4 587.2L431.2 588.6L432.4 589.1L432.9 589.3L434.3 591.2L434.7 591.9L436.4 593.2L436.8 593.4L438.2 594.1L439.4 595.6L440 596.1L441.7 597.2L443.5 597.3L445.2 597.8L445.3 597.8L447 599.4L447.9 599.9L448.1 602.1L448.5 604.3L448.8 604.8L450.3 606.5L450.5 606.8L452.3 608.6L452.5 608.7L454.1 609.1L455.8 610.8L455.8 610.8L456.8 613L455.8 615L455.2 615.2L454.1 617L454 617.4L452.3 618.6L451.5 619.5L450.7 621.7L450.5 621.9L448.8 622.4L447.7 623.9L447.6 626.1L447.7 628.3L447.6 630.4L447.5 632.6L447.3 634.8L447 636.5L446.9 637L446.6 639.1L446.8 641.3L445.3 643.4L445.2 643.5L445.3 643.8L446.5 645.7L445.3 647.9L445.5 650L445.3 650.7L443.5 651L441.7 650.8L440 651.6L438.9 652.2L438.2 652.8L437.3 654.4L437.5 656.6L436.9 658.7L436.4 659.1L434.7 658.8L434.7 658.7L432.9 657.7L431.2 657.1L430.5 656.6L430.2 654.4L429.4 653.3L428.5 652.2L427.6 650.7L427.3 650L427.6 647.9L427.6 647.9L427.6 647.8L425.9 645.7L425.8 645.7L424.8 643.5L424.1 641.8L424 641.3L424.1 641.2L425.1 639.1L424.8 637L424.7 634.8L424.9 632.6L424.9 630.4L424.8 628.3L424.7 626.1L424.8 623.9L425.9 622.3L426.2 621.7L426.4 619.5L426.5 617.4L426.3 615.2L426.2 613L426 610.8L425.9 610.7L424.2 608.7L424.1 607.7L423.6 606.5L422.4 604.3L422.3 604.3L420.6 602.1L420.6 602.1L418.8 601.7L417.1 600.8L415.3 600.3L415 599.9L413.5 599.1L411.8 598.6L410.8 597.8L410 597.3L408.2 596.7L406.5 596.7L404.7 595.7L404.5 595.6L403 595L401.2 595.3L399.4 594.7L397.7 594.4L395.9 593.8L394.8 593.4L394.7 591.2L394.1 590.7L393.7 591.2L392.4 592.3L390.6 591.4L390.5 591.2L390.6 589.1L389.2 586.9L389.5 584.7L390.4 582.5L390.6 581.4L392.4 582.3L394.1 582.2L395.9 580.8L396.7 580.3L397.6 578.2L395.9 576.8L394.1 577.3L392.4 577.8L390.6 578.2L388.9 576.4L387.7 576L387.1 575.9L386.9 576L385.3 577.1L383.6 576.3L381.8 576.6L380.6 578.2L380 579.6L379 578.2L378.3 577.9L377.8 578.2L377.9 580.3L378 582.5L376.5 582.8L375.2 584.7L374.8 586.9L374.8 586.9L373 587.8L371.6 589.1L371.2 590.2L370.6 591.2L370.7 593.4L370.9 595.6L370.5 597.8L371.1 599.9L371 602.1L371 604.3L370.6 606.5L371.2 608.5L371.4 608.7L371.2 608.9L370.8 610.8L371.2 612.5L371.7 613L372 615.2L372.5 617.4L373 618.4L374.1 619.5L373 621.3L372.8 621.7L371.5 623.9L371.2 624.1L369.5 624.1L367.7 624.6L365.9 624.8L364.2 625.8L362.4 625.5L360.7 625.4L358.9 625L357.1 625.4L355.4 624.7L353.6 624.7L352 626.1L352.3 628.3L353.6 630.2L355.4 630.3L355.5 630.4L355.4 630.8L353.6 631.5L351.8 631.1L350.9 630.4L350.2 628.3L350.1 628.1L349.9 628.3L348.3 630.3L348.3 630.4L346.6 631.8L344.8 631.3L343.5 630.4L343 630.2L341.3 630.3L341.2 630.4L339.5 632.4L339.3 632.6L337.9 634.8L337.7 635L337.3 637L336 638.1L334.9 639.1L334.2 639.8L333.2 641.3L332.5 642.5L331.8 643.5L331.6 645.7L332 647.9L332.5 650L332.5 650L332.5 650.1L331.9 652.2L331.3 654.4L331.9 656.6L331.6 658.7L332.5 660.2L332.7 660.9L333.8 663.1L333.8 665.3L332.8 667.4L332.5 667.9L330.7 667.7L328.9 667.5L328.7 667.4L327.2 666.7L325.4 666.1L323.8 667.4L323.6 667.7L321.9 669.5L320.1 669.1L319.4 669.6L318.4 671.8L318.4 671.9L316.6 672.9L315.8 671.8L315.7 669.6L314.8 668.2L313.1 668.8L311.3 669L309.5 669.1L308.3 669.6L307.8 669.8L306 670.2L304.3 670.4L303.4 669.6L303.1 667.4L302.5 667L300.7 665.5L299 665.7L298.2 665.3L297.2 664.3L295.8 663.1L295.4 662.9L293.7 662L291.9 662.2L290.2 661.7L288.4 661L287.5 660.9L286.6 660.9L286.2 660.9L284.9 661.2L284.3 660.9L283.1 660.3L281.3 659.2L279.6 659.5L277.8 659.3L276.1 658.7L276.1 658.7L276.1 658.7L274.6 660.9L274.3 661.3L272.5 662.2L270.8 661.3L270.1 660.9L269 658.9L268.8 658.7L267.2 657.6L265.5 657L265.1 656.6L263.7 655.7L262 654.9L260.2 656.2L260 656.6L258.4 657.7L256.7 656.8L254.9 656.7L253.1 656.8L251.4 658.7L251.4 658.7L251.4 658.7L250.4 656.6L249.6 655.7L247.9 656.1L247.1 656.6L246.1 657.1L245.3 656.6L244.3 655.9L242.6 654.6L242.3 654.4L240.8 653.5L239 653.5L237.3 654.1L236.9 654.4L235.5 654.9L234.6 654.4L233.8 652.9L232 652.7L231.2 652.2L230.2 651.6L228.5 650.9L226.7 651.8L224.9 651.5L223.2 650.4L221.4 650.6L219.7 650.4L217.9 650.5L216.1 651L214.4 651L212.9 652.2L212.6 652.4L210.8 652.9L209.4 652.2L209.1 652L207.3 651.6L205.6 651.2L203.9 652.2L203.8 652.3L202 652.6L200.6 652.2L200.3 652.1L198.5 651.7L196.7 650.1L195 650L193.2 650.9L191.8 652.2L191.5 652.7L189.7 652.9L188.2 652.2L187.9 651.9L186.2 652L184.4 650.8L182.6 650.5L180.9 650.7L180.3 650L179.1 648.8L179.1 647.9L179.1 645.7L179.1 643.5L179.1 641.3L179.1 639.1L179.1 637L179.1 634.8L179.1 632.6L179.1 630.4L179.1 628.3L179.1 626.1L179.1 623.9L179.1 621.7L179.1 619.5L179.1 617.4L179.1 615.2L179.1 613L179.1 610.8L179.1 608.7L179.1 606.5L179.1 604.3L179.1 602.1L179.1 599.9L179.1 597.8L179.1 595.6L179.1 593.4L179.1 591.2L179.1 589.1L179.1 586.9L179.1 584.7L179.1 582.5L179.1 580.3L179.1 578.2L179.1 576L179.1 573.8L179.1 571.6L179.1 569.5L179.1 567.3L179.1 565.1L179.1 562.9L179.1 560.8L179.1 558.6L179.1 556.4L179.1 554.2L179.1 552L179.1 549.9L179.1 547.7L179.1 545.5L179.1 543.3L179.1 541.2L179.1 539L179.1 536.8L179.1 534.6L179.1 532.4L179.1 530.3L179.1 528.1L179.1 525.9L179.1 523.7L179.1 521.6L179.1 519.4L179.1 517.2L179.1 515L179.1 512.8L179.1 510.7L179.1 508.5L179.1 506.3L179.1 504.1L179.1 502L179.1 499.8L179.1 497.6L179.1 495.4L179.1 493.2L179.1 491.1L179.1 488.9L179.1 486.7L179.1 484.5L179.1 482.4L179.1 480.2L179.1 478L179.1 475.8L179.1 473.7L179.1 471.5L179.1 469.3L179.1 467.1L179.1 464.9L179.1 462.8L179.1 460.6L179.1 458.4L179.1 456.2L179.1 454.1L179.1 451.9L179.1 449.7L179.1 447.5L179.1 445.3L179.1 443.2L179.1 441L179.1 438.8L179.1 436.6L179.1 434.5L179.1 432.3L179.1 430.1L179.1 427.9L179.1 425.7L179.1 423.6L179.1 421.4L179.1 419.2L179.1 417L179.1 414.9L179.1 412.7L179.1 410.5L179.1 408.3L179.1 406.1L179.1 404L179.1 401.8L179.1 399.6L179.1 397.4L179.1 395.3L179.1 393.1L179.1 390.9L179.1 388.7L179.1 386.6L179.1 384.4L179.1 382.2L179.1 380L179.1 377.8L179.1 375.7L179.1 373.5L179.1 371.3L179.1 369.1L179.1 367L179.1 364.8L179.1 362.6L179.1 360.4L179.1 358.2L179.1 356.1L179.1 353.9L179.1 351.7L179.1 350.7L180.9 350.7L181.7 349.5L182.6 349L183.9 349.5L184.4 349.7L185.6 351.7L186.2 352.4L187.9 353L189.7 352.6L191 351.7L191.5 350.8L191.8 349.5L191.5 348.2L191.2 347.4L191.5 347.2L193.2 346.4L195 347.1L195.4 347.4L196.7 348.9L197.4 347.4L198.5 345.8L199.3 345.2L200.3 344.9L201 345.2L202 346L203.4 347.4L203.8 348.5L205.6 349.3L207.3 347.9L208.8 347.4L209.1 347.3L209.2 347.4L210.8 348.2L212.5 347.4L212.6 347.3L214.4 346.1L215.6 345.2L216.1 344.9L217.9 344.7L219.7 344.9L220.6 343L221.1 340.8L221.4 340L223 340.8L223.2 340.9L223.9 343L224.3 345.2L224.9 346.6L226.7 346.2L227.2 345.2L228.3 343L228.5 342.7L228.8 343L230.2 343.7L232 344.2L233.8 343.4L235.5 344.4L236.1 345.2L236.1 347.4L235.5 348.1L234.4 349.5L235.5 351.1L235.9 351.7L236.5 353.9L237.3 354.8L238.7 356.1L238.9 358.2L239 358.5L239.5 358.2L240.5 356.1L240.5 353.9L240.8 353.6L242.6 353.6L244.3 353.8L246.1 352.3L246.6 351.7L247.9 350.9L249.6 351.4L251.4 351L253.1 350.7L254.9 350.5L256.7 351.4L257.1 351.7L258.4 351.9L258.8 351.7L260.2 351L262 351.7L262 351.7L263.6 353.9L263.7 354.8L265.5 355.4L267.2 354.9L268.4 356.1L267.2 357.6L265.5 357.9L265.4 358.2L265.5 358.3L267.2 359.7L267.5 360.4L269 361.5L270.8 362.3L271 362.6L272.5 364.3L273.2 364.8L274.3 365.4L275.3 364.8L276.1 364.1L277.8 363.9L279.3 362.6L279.6 362.3L281.3 361L283.1 361.7L284.9 360.6L285 360.4L286.6 359.4L288.4 358.3L290.2 359.6L291.9 360.2L293.1 358.2L293.7 357.4L294.6 356.1L295.4 355.6L297.2 354.5L297.6 353.9L298.4 351.7L299 351.3L300.7 350.8L302.5 351.3L303.4 351.7L304.3 352.2L306 352.2L307.8 352.1L309.5 352.1L309.9 351.7L311.3 350L312.2 349.5L313.1 349.1L314 349.5L314.8 349.8L316.6 349.7L317.3 349.5L318.3 347.4L318.4 345.5L320.1 346.8L321 347.4L321.9 347.8L322.2 347.4L323 345.2L323.6 344.7L325.4 344.8L327.2 345.1L327.4 345.2L328.9 346.5L330.7 347.1L330.9 347.4L331.7 349.5L332.5 350.7L333.6 351.7L334.2 352.2L336 353.3L337.4 353.9L337.7 354.1L339.5 354.6L341.3 354.3L343 353.9L344.1 356.1L344.1 358.2L343.4 360.4L344.8 361.3L346.6 361.9L346.7 362.6L346.6 364.6L344.8 364.1L344.2 364.8L344.5 367L343.5 369.1L343 370.5L342.7 371.3L342.1 373.5L341.3 374.9L339.9 375.7L339.5 376.1L338.3 377.8L339.5 378.3L340.7 380L340.7 382.2L340.7 384.4L341 386.6L340.3 388.7L341.3 389.7L342.2 390.9L343 391.8L344.8 392.7L345.3 393.1L346.6 393.7L348.3 394L349.8 395.3L350.1 395.9L350.8 397.4L351.8 397.6L353.6 399.5L353.7 399.6L355.4 399.8L357.1 399.7L357.9 399.6L357.3 397.4L358.4 395.3L358.9 394.3L360.7 393.3L362.4 393.4L364.2 393.4L365.9 393.4L367.7 393.5L369.5 393.5L371.2 395.1L371.4 395.3L373 396.3L374.7 395.3L374.8 395.2L374.9 395.3L376.5 395.3L378.3 396.5L380 396.9L380.6 397.4L381.8 399L383.6 399.3L384.9 397.4L385.3 397.2L385.9 395.3L386.4 393.1L387.1 391.3L388.9 391.9L390.6 392.3L392.4 391.6L394.1 391.1L395.8 390.9L395.9 390.9L397.5 388.7L397.7 388.3L399 386.6L399.4 386.2L400.4 384.4L400.7 382.2L401.2 380.7L401.8 380L402.7 377.8L403 377.7L404.7 376.1L406.5 377.3L407 377.8L407 380L406.6 382.2L408.2 382.4L408.7 382.2L410 381L410.4 380L411.2 377.8L411.8 377.1L413.5 376.6L415.3 375.7L415.5 375.7L416.6 373.5L415.6 371.3L416.7 369.1L417.1 368.4L417.5 367L417.5 364.8L418.7 362.6L418.8 362.5L419.8 360.4L418.8 358.8L417.1 360L416.5 360.4L415.3 361.3L414.4 360.4L414.3 358.2L413.5 356.1L413.5 356.1L413.5 355.9L415.3 355.5L417.1 354.4L418.8 355.7L419.1 356.1L420.6 357.2L421.6 356.1L422.3 354.4L423.6 353.9L422.3 353.7L421.4 351.7L422.3 349.5L422.4 349.5L424.1 349.4L425.9 349.5L426 349.5L427.6 350L429.4 349.7L431.2 349.8L431.8 349.5L432.9 349.3L434 349.5L434.7 350.6L434.9 351.7L436.4 352.5L438.2 353.8L438.3 353.9L440 354.9L441.7 354.7L443.5 355.7L445.2 353.9L445.3 353.8L445.3 353.9L447 354.7L448.8 354.9L449.8 353.9L450.5 353.4L452.3 352.6L453.3 351.7L454.1 349.8L454.6 349.5L455.8 348.4L457.1 349.5L457.6 349.6L457.7 349.5L459.4 348.5L461.1 348.4L462.9 348.5L464.6 348.8L466.4 348.7L467.7 347.4L468.2 346.7L469.1 345.2L469.8 343L469.9 342.8L470.9 340.8ZM478.7 345.1L478.6 345.2L477.3 347.4L477 349.5L478.1 351.7L478.7 352L479.1 351.7L479.7 349.5L479.9 347.4L479 345.2ZM487.6 346.6L487.5 347.4L487.6 347.5L487.7 347.4ZM485.8 570.6L484.2 571.6L484 571.8L482.3 572L480.5 572.8L479.9 573.8L479.5 576L479.5 578.2L480.5 580.2L482.3 579.6L484 580.2L485.5 578.2L485.8 577.8L486.7 576L486.5 573.8L487 571.6ZM514 377.4L512.9 377.8L514 378.2L514.2 377.8ZM522.8 366.9L522.7 367L522.8 367.1L522.9 367ZM427.6 529.2L426.3 530.3L427.6 532.4L428.7 530.3ZM290.2 459.8L289.2 460.6L288.4 461.8L287.9 462.8L287.7 464.9L287.3 467.1L287.2 469.3L286.6 470L285 471.5L284.9 471.8L283.9 471.5L283.1 471.1L281.3 470.2L280.7 471.5L280.9 473.7L281.3 475.7L281.4 475.8L281.9 478L282.4 480.2L283.1 480.7L284.9 481L286.6 480.8L288.4 480.9L290.2 481.2L291.9 480.4L292.2 480.2L292.9 478L293.7 476.6L294.1 475.8L293.7 474.7L293.4 473.7L293.7 473.1L295.4 472.4L296.3 471.5L296.9 469.3L295.5 467.1L297.2 465.9L299 466.2L299.8 467.1L300.4 469.3L300.7 470.1L302.2 471.5L302.5 471.6L303.8 473.7L304.3 474.6L304.6 475.8L304.3 476.6L303.5 478L304.3 479.9L304.5 480.2L306 481.7L307.5 482.4L307.8 482.9L308.7 484.5L309.5 485.3L310.9 486.7L311.3 486.9L313.1 487.1L314.2 488.9L314.8 489.6L316.6 490.1L318.4 490L320.1 490.5L321 491.1L321.9 491.9L323.6 491.3L325.4 492.2L327.2 492.5L328.3 491.1L328.9 490.1L330.7 489.6L332.5 490.3L334.2 490.4L335.6 488.9L335.3 486.7L334.2 485.4L332.5 484.8L330.7 484.7L328.9 484.8L328.5 484.5L327.2 483.9L326.2 484.5L325.4 485.4L324 484.5L323.6 484.3L322.2 482.4L321.9 482L320.4 480.2L321.9 479.3L323 478L323.3 475.8L321.9 474.6L321.3 473.7L321.3 471.5L320.5 469.3L320.1 468.9L318.4 468L317.9 467.1L317.2 464.9L316.6 464.2L314.8 463.6L313.1 463.9L311.3 464.5L309.5 464.3L307.8 464.6L306 464.1L304.3 463.9L303.2 462.8L302.5 462.1L301.6 462.8L300.7 464.9L299 463.1L298.8 462.8L299 461.3L300.7 460.7L300.8 460.6L300.7 460.5L299 460.6L298.9 460.6L297.2 461.6L296.1 462.8L295.4 464.5L294.5 462.8L293.7 462.4L293 462.8L291.9 464.6L291.5 462.8L290.8 460.6ZM316.6 440.6L316.2 441L316.6 442L318.4 442.3L319.6 441L318.4 440.5ZM325.4 436.6L325.4 436.6L325.4 436.7L325.4 436.6ZM388.9 429L388.4 430.1L388.9 430.2L390.6 430.1ZM392.4 429.8L390.7 430.1L392.4 431.2L393.5 430.1ZM395.9 492.3L394.5 493.2L394.1 493.6L392.4 494.4L390.6 495.4L390.5 495.4L390 497.6L390.6 498.1L392.4 499.3L392.6 499.8L394.1 501.6L394.6 502L394.1 503.5L394 504.1L394.1 504.7L394.6 506.3L395.9 508L396.4 508.5L397.7 510L399.4 510.1L400.4 508.5L400.2 506.3L399.9 504.1L399.9 502L400 499.8L400.2 497.6L399.4 496.4L398.5 495.4L398 493.2L397.7 492.9ZM404.7 384.3L404.7 384.4L404.7 384.4L404.7 384.4ZM424.1 362.1L423.6 362.6L424.1 362.8L424.3 362.6ZM427.6 516.7L427.4 517.2L427.3 519.4L427.6 521L428.1 519.4L427.9 517.2ZM431.2 506.2L430.9 506.3L431.2 506.5L431.3 506.3ZM300.7 475.8L300.5 475.8L300.7 475.9L300.8 475.8ZM438.1 343L438.2 342.7L440 341.6L440.3 343L440 343.3L438.2 343.3ZM346.2 358.2L346.6 357.6L346.8 358.2L346.6 358.9ZM420 558.6L420.6 557.9L421 558.6L420.6 560.5L420.4 560.8L420.6 562.2L420.6 562.9L420.6 563L419.2 565.1L418.8 565.4L418.5 565.1L418.2 562.9L418.2 560.8L418.8 559.9ZM467.8 589.1L468.2 588.8L469.9 588.4L470.6 589.1L471.7 591.1L471.7 591.2L471.8 593.4L471.7 593.5L471.6 593.4L469.9 591.7L468.4 591.2L468.2 590.7ZM487.1 589.1L487.6 588.4L487.8 589.1L487.6 589.3ZM522.7 626.1L522.8 625.8L522.9 626.1L522.8 627ZM517.3 628.3L517.5 628L517.8 628.3L517.5 628.8ZM527.7 628.3L528.1 627.8L528.7 628.3L528.6 630.4L528.1 630.5L527.9 630.4ZM519.9 632.6L521 631.6L522.1 632.6L521.4 634.8L522.8 635.6L524.6 636.9L525.2 637L526.3 637L526.5 637L528.1 636L529 634.8L529.6 632.6L529.9 631.4L530.1 632.6L531.6 634.1L532 634.8L532.5 637L532.4 639.1L533.4 640.6L534.2 641.3L535 643.5L535 645.7L535 647.9L534.3 650L533.9 652.2L533.4 652.8L531.6 653.3L530.7 654.4L529.9 655.4L528.5 656.6L528.1 656.7L527.6 656.6L526.3 656L524.6 655.3L522.8 654.7L521.1 654.4L521 654.3L521 654.4L519.3 654.6L518.9 654.4L517.5 653.9L515.9 654.4L515.8 654.5L515.5 654.4L515.8 654.3L516.3 652.2L515.8 650.2L515.7 650L514.2 647.9L514 647.2L513.4 645.7L512.2 643.6L512.1 643.5L512.2 643.3L514 641.3L515.1 643.5L515.8 644.2L517.5 643.8L519.3 644.1L520.8 643.5L520.6 641.3L521 639.5L521.1 639.1L521 637.2L521 637L520.9 634.8ZM344.2 634.8L344.8 633.9L346.6 633.9L347.4 634.8L346.6 635.6L344.8 635.2ZM512 634.8L512.2 634.3L512.8 634.8L512.6 637L512.2 637.2L511.8 637ZM514.9 637L515.8 636L517.1 637L515.8 637.8ZM538.2 637L538.7 635.7L539.1 637L538.7 637.1ZM538.2 645.7L538.7 645.4L540.4 645.4L540.6 645.7L540.7 647.9L541.2 650L540.8 652.2L540.4 652.3L540.3 652.2L538.7 650.8L537.6 650L536.9 648.5L536 647.9L536.9 647.2ZM545.6 647.9L545.7 647.6L545.9 647.9L545.7 648Z"/>
<path fill="#b4f0fa" d="M549.2 347.4L549.2 347.3L551 345.8L552.8 346.5L554.5 346.3L556.3 346.2L558.1 346.7L559 347.4L559.8 348.8L561.6 347.9L563.3 347.5L565.1 349.5L565.1 349.6L566.9 351.2L568.4 351.7L568.6 351.8L570.4 352.6L571.5 351.7L572.2 351.6L573.9 351.4L574.4 351.7L575.2 353.9L575.7 354.5L577.4 354.9L579.2 354.5L581 354.3L582.7 354L584.5 354.4L586.3 354.7L588 354.3L588.8 353.9L589.8 353.4L591.5 353.2L593.3 353.2L595.1 353.3L596.6 353.9L596.8 354L598.6 354.5L600.4 354.7L601.7 356.1L602.1 356.9L603.7 358.2L603.9 358.3L605.6 358.3L607.4 358.5L609.2 358.6L610.9 358.6L612.7 359.3L612.7 360.4L612.7 362.6L612.7 364.8L612.7 367L612.7 369.1L612.7 371.3L612.7 373.5L612.7 375.7L612.7 377.8L612.7 380L612.7 382.2L612.7 384.4L612.7 386.6L612.7 388.7L612.7 390.9L612.7 393.1L612.7 395.3L612.7 397.4L612.7 399.6L612.7 401.8L612.7 404L612.7 406.1L612.7 408.3L612.7 410.5L612.7 412.7L612.7 414.9L612.7 417L612.7 419.2L612.7 421.4L612.7 423.6L612.7 425.7L612.7 427.9L612.7 430.1L612.7 432.3L612.7 434.5L612.7 436.6L612.7 438.8L612.7 441L612.7 443.2L612.7 445.3L612.7 447.5L612.7 449.7L612.7 451.9L612.7 454.1L612.7 456.2L612.7 458.4L612.7 460.6L612.7 462.8L612.7 464.9L612.7 467.1L612.7 469.3L612.7 471.5L612.7 473.7L612.7 475.8L612.7 478L612.7 480.2L612.7 482.4L612.7 484.5L612.7 486.7L612.7 488.9L612.7 491.1L612.7 493.2L612.7 495.4L612.7 497.6L612.7 499.8L612.7 502L612.7 504.1L612.7 506.3L612.7 508.5L612.7 510.7L612.7 512.8L612.7 515L612.7 517.2L612.7 519.4L612.7 521.6L612.7 523.7L612.7 525.9L612.7 528.1L612.7 530.3L612.7 532.4L612.7 534.6L612.7 536.8L612.7 539L612.7 541.2L612.7 543.3L612.7 545.5L612.7 547.7L612.7 549.9L612.7 552L612.7 554.2L612.7 556.4L612.7 558.6L612.7 560.8L612.7 562.9L612.7 565.1L612.7 567.3L612.7 569.5L612.7 571.6L612.7 573.8L612.7 576L612.7 578.2L612.7 580.3L612.7 582.5L612.7 584.7L612.7 586.9L612.7 589.1L612.7 591.2L612.7 593.4L612.7 595.6L612.7 597.8L612.7 599.9L612.7 602.1L612.7 604.3L612.7 606.5L612.7 608.7L612.7 610.8L612.7 613L612.7 615.2L612.7 617.4L612.7 619.5L612.7 621.7L612.7 623.9L612.7 626.1L612.7 628.3L612.7 630.4L612.7 632.6L612.7 634.8L612.7 637L612.7 639.1L612.7 641.3L612.7 643.5L612.7 645.7L612.7 647.9L612.7 650L612.7 652.2L612.7 654.4L612.7 655.8L610.9 655.9L610.1 656.6L609.2 656.9L608.7 656.6L607.4 655.4L605.6 655.2L603.9 654.9L602.5 654.4L602.1 654.2L601.6 654.4L600.4 655.1L598.6 655.8L597.2 654.4L596.8 653.3L596.4 652.2L595.1 651.5L593.4 652.2L593.3 652.3L591.5 652.9L589.8 653L588.2 652.2L588 652.1L586.3 651.2L584.5 651L582.7 650.4L581 650.9L579.5 650L579.2 649.9L577.4 648.7L575.7 648.4L573.9 647.9L573.9 647.9L572.4 645.7L572.2 645.5L570.4 643.7L570 643.5L568.6 642.7L567.2 641.3L566.9 640.9L565.1 639.8L564 639.1L563.3 638.8L561.6 637.3L560.9 637L559.8 636.5L558.1 636.9L556.3 635.9L555.4 634.8L555.3 632.6L554.5 632L552.8 631.4L551 632.2L549.4 632.6L549.2 632.7L549.2 632.6L547.5 630.7L547.3 630.4L545.7 628.3L545.7 628.3L544 626.8L542.2 626.3L541.9 626.1L540.4 624.7L538.7 623.9L538.6 623.9L536.9 623.1L535.3 621.7L535.1 621.6L534 619.5L533.4 618.7L532.7 617.4L532.1 615.2L532.9 613L533 610.8L533.4 610.2L534.4 608.7L534.3 606.5L535.1 605.4L536.1 604.3L536.1 602.1L535.8 599.9L535.8 597.8L535.6 595.6L535.4 593.4L535.1 592L534.4 591.2L533.4 590.2L532.2 589.1L531.6 588.4L530.4 586.9L529.9 584.7L529.9 584.7L528.2 582.5L528.2 580.3L529.9 579.2L531 578.2L529.9 576.2L528.1 576.6L526.7 578.2L526.3 580.1L526.3 580.3L525.2 582.5L524.6 584L524.2 584.7L524.1 586.9L524.6 587.5L525.5 589.1L525.5 591.2L524.6 592.4L523.5 593.4L522.8 593.9L521 593.4L521 593.4L521 593.4L519.3 594.4L517.5 594.7L515.8 594.3L514.9 593.4L514 592.4L512.2 591.9L510.5 591.5L508.7 591.3L508.6 591.2L506.9 590.3L505.2 589.5L504.3 589.1L503.7 586.9L503.8 584.7L503.4 584.1L501.7 583L501.3 582.5L499.9 581.3L498.5 580.3L498.1 579.6L496.9 578.2L496.7 576L496.4 574.4L496.2 573.8L496.1 571.6L496.4 571.2L497.2 569.5L497.4 567.3L496.4 565.8L495.8 565.1L495.3 562.9L494.6 561.7L493.6 560.8L494.6 560.2L496.4 559.3L498.1 558.7L498.2 558.6L498.1 557.4L497.3 556.4L496.4 556.2L494.8 554.2L494.6 553.8L493.3 552L492.8 551.8L491.2 552L491.1 552.1L489.3 552.4L487.6 553.7L487.1 554.2L485.8 555L484.6 554.2L484 553.7L482.3 554L481.2 554.2L480.5 555.5L478.7 555.9L477 555.4L475.2 555.1L473.5 556.4L473.4 556.4L471.7 558.3L471.5 558.6L470.8 560.8L471.1 562.9L471.7 564.3L471.7 565.1L471.7 565.6L471.4 567.3L471.7 567.7L473.5 568.9L474.3 569.5L474.2 571.6L473.5 572.5L472.5 573.8L473.5 575.6L473.7 576L473.5 576.3L471.7 576.6L469.9 577.6L469.2 578.2L468.2 579.1L466.4 578.2L466.4 578.2L465 576L464.6 575.5L462.9 573.8L462.9 573.8L461.1 572.7L460.7 571.6L459.5 569.5L459.4 569.2L457.6 568.2L455.8 568.3L454.1 568.7L452.8 567.3L452.3 566.4L451.7 565.1L450.5 563.1L450.5 562.9L448.8 561.3L447 562.1L445.6 562.9L445.3 563.1L444.6 562.9L444.6 560.8L444.9 558.6L443.5 556.9L442.9 556.4L441.7 554.5L441.6 554.2L441.1 552L441.7 551.4L443.5 549.9L443.5 549.7L444 547.7L444.7 545.5L445.3 543.4L445.3 543.3L446 541.2L445.3 540L444.8 539L443.5 538.1L441.7 537.2L440 537L439.8 536.8L438.2 535.5L436.8 534.6L436.4 533.7L435.7 532.4L434.7 531.8L433.6 530.3L433.8 528.1L434.3 525.9L434.6 523.7L434.1 521.6L434 519.4L434.7 518.2L435.4 517.2L435.5 515L435.6 512.8L436.4 511.6L437.3 510.7L437 508.5L437 506.3L438 504.1L436.4 502.4L435.8 502L434.7 500.2L434.4 499.8L432.9 497.7L432.9 497.6L432 495.4L432.3 493.2L432.4 491.1L431.5 488.9L431.2 487.8L429.4 487.4L427.6 487.9L425.9 488.9L425.8 488.9L424.1 489.7L423.8 488.9L422.3 487.2L421.5 486.7L420.6 486.4L419.7 486.7L419.1 488.9L419.5 491.1L419.6 493.2L418.8 494.3L417.5 495.4L417.5 497.6L417.1 497.8L415.3 498.6L413.7 499.8L413.5 499.9L411.8 501.4L410 500.5L409.4 499.8L408.2 498.5L406.5 498.8L405.5 499.8L404.7 500.1L403 501.8L401.2 501.9L401 499.8L401.2 497.8L401.3 497.6L401.2 497.3L400.8 495.4L399.4 493.5L399.4 493.2L397.7 491.5L397.2 491.1L395.9 489.6L394.8 488.9L394.1 488.1L392.4 487.4L390.7 488.9L390.6 489L389.4 488.9L388.9 488.7L387.1 487.9L386.1 488.9L387.1 489.7L388.9 489.1L389.1 491.1L390.6 492.8L390.9 493.2L390.6 493.5L388.9 493.6L387.1 494.2L385.3 493.3L383.6 493.7L381.8 493.5L381.7 493.2L381.2 491.1L381.8 489.4L382.1 488.9L381.9 486.7L381.8 486.6L380.5 484.5L380.6 482.4L380 481.7L378.7 480.2L378.9 478L378.8 475.8L378.5 473.7L378.3 471.5L378.3 471L376.5 470.2L375.3 469.3L374.8 468.5L374.1 467.1L373 465.9L371.2 465.8L369.5 464.9L369.5 464.9L367.7 464.2L367.3 462.8L365.9 460.9L364.2 461L362.4 461L361.6 460.6L360.7 460L358.9 459.8L357.1 458.9L355.4 458.5L353.6 459.6L351.8 459.9L350.9 458.4L350.5 456.2L350.1 456.1L348.5 454.1L348.3 453.9L347 454.1L346.6 454.8L346.4 454.1L345.6 451.9L344.8 449.7L344.8 449.7L343.2 447.5L343 447.5L341.3 447.3L339.5 447.4L337.7 447.4L336 446.3L335.2 445.3L334.3 443.2L334.2 443L332.7 441L332.5 440.5L331.2 438.8L331.1 436.6L330.7 436.2L329.1 434.5L328.9 433.3L328.2 432.3L327.2 431L326 430.1L325.4 429.3L323.6 429.2L321.9 428.4L321.5 427.9L320.1 426.7L319.4 425.7L318.6 423.6L318.4 421.8L318.2 421.4L316.6 419.8L314.8 421.4L314.8 421.4L313.9 423.6L313.1 425.3L311.3 424.9L309.5 424.2L308.4 425.7L307.8 427.4L307.5 427.9L307.8 429.1L307.9 430.1L307.8 431L307.4 432.3L306 433.1L304.3 433.4L302.5 434.3L302.5 434.5L302.4 436.6L302 438.8L302.5 440.2L303.2 441L302.5 441.6L300.7 441.4L299 441.8L297.2 442.3L296.6 443.2L297.1 445.3L297.2 445.5L299 446.9L300.7 447.2L302.5 447.3L304.2 447.5L304.3 447.5L306 447.5L306 447.5L307.8 445.5L308.7 447.5L309.5 448.4L311.3 449.4L313.1 449L313.6 449.7L314.8 450.5L316.6 450.6L317.9 451.9L318.4 452.3L320.1 452.2L321.3 451.9L321.7 449.7L321.9 449L323.6 448.4L324.6 447.5L325.4 446.1L325.9 445.3L326.7 443.2L327.2 442.6L328.7 441L328.9 440.5L329.1 441L330.2 443.2L329.2 445.3L328.9 445.8L328.2 447.5L328.9 448.5L329.7 449.7L330.1 451.9L330.7 454L330.7 454.1L331.2 456.2L332.5 456.3L334.2 457.6L336 456.3L337.7 456.2L337.9 456.2L339.5 455.4L341.3 455.6L342.5 456.2L343 456.6L344.8 456.7L346.4 458.4L346.6 458.5L347.9 460.6L348.3 461.3L349.2 462.8L350.1 463.7L351.8 464.9L351.8 465L353.5 467.1L353.6 467.3L355.4 467.5L357.1 467.8L358.9 468.9L359.1 469.3L360 471.5L360.7 472.3L362.4 473.3L364.2 473L365.9 473L367.1 473.7L367.7 474L369.3 475.8L369.5 476.1L370.6 478L370.4 480.2L370.5 482.4L369.5 483.2L368.6 484.5L367.7 485.1L365.9 486.7L365.8 486.7L364.2 488.9L364.2 488.9L364.2 488.9L365.9 489.9L367.6 491.1L367.7 491.2L369.1 493.2L369.5 494L371.1 495.4L371.2 495.5L373 496.5L374.4 497.6L374.8 497.9L376.5 498.9L378.3 498.9L380 498.6L381.8 498.3L383.6 499.2L385.3 499.8L385.3 499.8L387.1 500.5L388.4 502L388.9 502.4L390.6 503.6L391 504.1L391.5 506.3L391.6 508.5L392.2 510.7L392.4 511.6L393 512.8L393.1 515L392.4 516L391.5 517.2L390.6 517.9L388.9 519L388.4 519.4L387.1 520.4L385.3 520.4L383.6 520.9L381.8 520.6L380 520.6L378.3 521L377.4 521.6L376.8 523.7L378.2 525.9L378.3 526L379.6 528.1L380 528.4L381.4 530.3L381.8 530.8L383 532.4L383.6 533.2L384.5 534.6L385.3 535.3L387.1 536.3L387.3 536.8L388.9 538.2L390.6 538.2L391.5 539L392.2 541.2L392.4 541.5L394.1 542.1L395.9 542.4L397.7 542.6L399.2 543.3L399.4 543.4L401.2 544.8L401.6 545.5L403 547L403.4 547.7L404.1 549.9L404 552L403.4 554.2L403 555.5L402.8 556.4L403 557L403.4 558.6L404.6 560.8L404.7 561.1L405.6 562.9L406.5 563.8L408.2 564.8L408.5 565.1L408.6 567.3L408.4 569.5L409.5 571.6L410 572.9L410.4 573.8L411.1 576L411.8 577.8L412.1 578.2L413.5 578.8L415.3 579.4L416.5 580.3L417.1 580.9L418.8 582.3L419 582.5L420.1 584.7L420.6 585.1L422.3 585.7L424.1 586.9L424.1 586.9L425.9 587.2L427.6 588.5L428.1 589.1L429.4 590.9L429.7 591.2L431.2 592.6L432.2 593.4L432.9 593.8L434.7 595L435.9 595.6L436.4 595.9L438.2 597.6L438.4 597.8L440 598.8L441.3 599.9L441.7 600.6L443.5 601.2L444 602.1L445 604.3L445.3 604.9L446 606.5L446.4 608.7L446.3 610.8L445.9 613L446.7 615.2L447 615.7L447.8 617.4L447.6 619.5L447 620.8L446.6 621.7L445.6 623.9L445.3 625.1L444.9 626.1L445.3 628.3L444.4 630.4L444 632.6L443.5 634.8L443.5 635.8L443.4 637L443.5 638L443.5 639.1L443.5 639.4L442.9 641.3L442.5 643.5L441.7 645.1L441 645.7L440 646.1L438.2 647.8L436.4 647.5L434.7 647.3L433 647.9L432.9 647.9L431.2 648.1L431.1 647.9L430.8 645.7L430.4 643.5L429.4 642.1L428.9 641.3L429.4 639.7L429.5 639.1L429.4 639L427.6 638.7L425.9 638.7L425.5 637L425.4 634.8L425.4 632.6L425.4 630.4L425.3 628.3L425.3 626.1L425.4 623.9L425.9 623.1L426.7 621.7L426.9 619.5L427 617.4L426.9 615.2L426.8 613L426.5 610.8L425.9 610L424.8 608.7L424.6 606.5L424.1 605.9L422.9 604.3L422.3 603.6L421.2 602.1L420.6 601.5L418.8 601.2L417.4 599.9L417.1 599.6L415.3 599.4L413.7 597.8L413.5 597.6L411.8 597.3L410.2 595.6L410 595.4L408.2 594.6L406.5 594.2L405.4 593.4L404.8 591.2L404.8 589.1L404.7 588.9L403 586.9L403 585.9L402.9 584.7L402.9 582.5L401.5 580.3L401.4 578.2L401.2 577.9L399.7 576L399.4 574.3L399.1 573.8L397.7 572.8L395.9 572.3L394.1 572.8L392.4 573L390.6 572.5L388.9 572.2L387.1 572.1L385.3 573.1L383.6 573.4L381.8 573.4L380 573.8L380 573.8L378.3 574.7L376.5 574.8L374.8 574.4L373 575L371.2 575.8L371 576L369.5 578.1L369.4 578.2L369.5 578.3L371.2 579.1L373 578.3L373.3 580.3L373 580.6L371.2 581.5L370.5 582.5L370.7 584.7L369.5 586.3L369.1 586.9L367.7 588.3L367.3 589.1L367.3 591.2L367.4 593.4L367.2 595.6L366.4 597.8L366.5 599.9L367.5 602.1L367.5 604.3L366.9 606.5L366 608.7L365.9 608.7L365.9 608.7L364.2 607.5L362.8 608.7L362.4 609.8L362.2 610.8L362.4 611.3L364 613L362.8 615.2L362.4 615.5L361.1 617.4L360.7 618.9L359.6 617.4L359.9 615.2L360.7 613.9L361.3 613L360.7 612.5L358.9 612.2L358.5 613L358.3 615.2L357.1 616.8L356.1 617.4L355.4 617.5L353.6 619.1L353 619.5L351.8 620.9L351.2 621.7L350.1 622.7L348.3 623.3L346.6 623.8L345.6 623.9L344.8 624.1L343 624.2L341.4 623.9L341.3 623.9L341.2 623.9L339.5 625.1L338.3 626.1L337.7 626.8L336.9 628.3L336.4 630.4L336 630.9L334.6 632.6L334.2 634.6L334.2 634.8L332.8 637L332.5 637.3L330.9 639.1L330.7 639.8L330.2 641.3L328.9 643.3L328.8 643.5L328.9 644.1L329.1 645.7L329.2 647.9L328.9 648.5L327.2 648.6L325.4 649.4L324.4 650L323.6 651.2L321.9 651.7L321.4 652.2L320.7 654.4L321.3 656.6L320.6 658.7L320.7 660.9L320.1 661.8L319.3 663.1L318.4 663.9L316.6 663.7L314.8 664.1L313.1 664.9L311.5 663.1L311.3 663L310.2 663.1L309.5 663.5L308.2 663.1L309.2 660.9L307.8 660.4L306.3 660.9L306 661.2L304.3 661.3L304 660.9L302.5 659.6L301.6 658.7L300.7 657.7L299 657.9L297.2 658.5L295.4 658.5L293.7 657.6L293 658.7L291.9 659.3L290.2 659.1L289.4 658.7L288.4 657.3L286.6 656.8L284.9 656.8L284.5 656.6L283.1 655.7L281.3 655.2L279.6 654.6L277.8 655.6L276.1 655.5L274.3 655.3L272.5 654.7L270.8 655.3L270 654.4L269 653.6L267.2 653.4L265.5 652.8L265 652.2L263.7 651.3L262 650.7L260.2 651.3L258.4 651L257.4 650L256.7 649.4L254.9 649L253.1 649.5L252.1 650L251.4 650.3L249.6 651L247.9 650.9L246.1 650.1L245.9 650L244.3 649.4L242.6 649.3L240.8 649.2L239 648.9L237.3 648.5L235.5 648.4L234.5 647.9L233.8 647.4L232 647.8L230.2 645.7L230.2 645.7L230.1 645.7L228.5 645.9L226.7 647.1L224.9 646.2L224.4 645.7L223.2 645.1L221.9 645.7L221.4 646.1L219.7 645.7L219.6 645.7L217.9 645L216.2 645.7L216.1 645.7L214.4 646.9L212.6 646.8L210.8 645.7L209.1 646.9L208.2 647.9L207.3 648.5L205.6 648.6L203.8 648.2L202 649.7L200.3 648.6L199.5 647.9L198.6 645.7L198.5 645.6L196.7 644.3L196.2 643.5L195 642.5L193.2 642.1L191.5 643.2L190 643.5L189.7 643.6L187.9 643.8L186.2 643.6L185.8 643.5L184.4 642.9L182.6 642.7L180.9 643.2L179.1 643.4L179.1 641.3L179.1 639.1L179.1 637L179.1 634.8L179.1 632.6L179.1 630.4L179.1 628.3L179.1 626.1L179.1 623.9L179.1 621.7L179.1 619.5L179.1 617.4L179.1 615.2L179.1 613L179.1 610.8L179.1 608.7L179.1 606.5L179.1 604.3L179.1 602.1L179.1 599.9L179.1 597.8L179.1 595.6L179.1 593.4L179.1 591.2L179.1 589.1L179.1 586.9L179.1 584.7L179.1 582.5L179.1 580.3L179.1 578.2L179.1 576L179.1 573.8L179.1 571.6L179.1 569.5L179.1 567.3L179.1 565.1L179.1 562.9L179.1 560.8L179.1 558.6L179.1 556.4L179.1 554.2L179.1 552L179.1 549.9L179.1 547.7L179.1 545.5L179.1 543.3L179.1 541.2L179.1 539L179.1 536.8L179.1 534.6L179.1 532.4L179.1 530.3L179.1 528.1L179.1 525.9L179.1 523.7L179.1 521.6L179.1 519.4L179.1 517.2L179.1 515L179.1 512.8L179.1 510.7L179.1 508.5L179.1 506.3L179.1 504.1L179.1 502L179.1 499.8L179.1 497.6L179.1 495.4L179.1 493.2L179.1 491.1L179.1 488.9L179.1 486.7L179.1 484.5L179.1 482.4L179.1 480.2L179.1 478L179.1 475.8L179.1 473.7L179.1 471.5L179.1 469.3L179.1 467.1L179.1 464.9L179.1 462.8L179.1 460.6L179.1 458.4L179.1 456.2L179.1 454.1L179.1 451.9L179.1 449.7L179.1 447.5L179.1 445.3L179.1 443.2L179.1 441L179.1 438.8L179.1 436.6L179.1 434.5L179.1 432.3L179.1 430.1L179.1 427.9L179.1 425.7L179.1 423.6L179.1 421.4L179.1 419.2L179.1 417L179.1 414.9L179.1 412.7L179.1 410.5L179.1 408.3L179.1 406.1L179.1 404.8L180.4 404L180.9 402.7L181.1 404L182.6 405.7L184.4 405.6L186.2 405L187.9 405.4L188.3 406.1L189.7 407.4L191 406.1L191.5 405.6L191.7 406.1L193.2 407.1L195 407.6L196.3 408.3L196.7 408.5L198.5 408.9L200.1 410.5L200.2 412.7L200.3 412.9L200.8 414.9L202 416.4L203.8 415L203.9 414.9L205.6 413L206 412.7L206.7 410.5L206.3 408.3L205.6 406.9L204.4 406.1L205 404L204.9 401.8L203.8 399.7L203.8 399.6L203.1 397.4L202 396L200.3 395.3L199.2 397.4L198.5 398.6L196.7 398L195 397.6L194.9 397.4L193.2 396.3L191.5 396.1L190.3 395.3L189.7 394L187.9 394.4L186.2 394.4L184.8 393.1L184.4 392.6L183.8 393.1L182.6 394.2L180.9 393.5L179.1 393.2L179.1 393.1L179.1 390.9L179.1 388.7L179.1 386.6L179.1 384.4L179.1 382.2L179.1 380L179.1 377.8L179.1 375.7L179.1 373.5L179.1 371.3L179.1 369.1L179.1 367L179.1 364.8L179.1 362.6L179.1 360.4L179.1 359.1L180.2 358.2L180.9 358.1L181 358.2L181.4 360.4L182.2 362.6L182.6 362.8L182.9 362.6L183.9 360.4L184.4 359.7L185.9 358.2L186.2 358L186.3 358.2L187.3 360.4L187.9 360.7L189.7 360.6L191.5 361L191.9 360.4L191.5 359.3L190 358.2L191.5 357.5L193.2 357L195 357.7L196.7 357.7L198.5 356.1L198.6 356.1L200.3 354.3L202 355.7L202.3 356.1L203.8 357.8L205.6 356.7L206.3 356.1L207.3 355.2L209.1 355.1L210.8 355L212.6 354.7L214 353.9L214.4 353.6L216.1 353.4L216.6 353.9L217.9 355.5L218.8 356.1L218.3 358.2L219.5 360.4L219.7 360.7L221.4 361L222 360.4L223.2 359L223.5 358.2L223.7 356.1L223.8 353.9L224.9 352.5L226.7 352.7L228.5 352L230.2 352L232 352.6L233.4 353.9L233.8 354.2L234.9 356.1L235.5 357.4L235.9 358.2L236 360.4L235.7 362.6L236.1 364.8L237.3 365.8L238 364.8L239 364L240.8 362.6L241.7 364.8L242.6 366.1L243.1 367L242.9 369.1L243.3 371.3L243 373.5L242.6 374.3L242.2 375.7L242.6 377.8L242.6 377.8L244.3 378.8L246.1 378.1L247.2 377.8L247.9 377.7L249.6 377.4L250.9 377.8L251.4 378.1L253.1 378.6L254.9 378.7L256.1 380L256.7 380.4L258.4 380.2L258.7 380L258.4 378.9L257.6 377.8L258.3 375.7L258.4 374.3L258.7 373.5L260.2 372L260.5 371.3L261.7 369.1L262 369.1L263.7 368.7L265.5 368.7L266.4 369.1L267.2 369.8L269 370.7L270.8 370.7L272.5 370.2L274.3 370.2L275.9 369.1L276.1 368.9L277.8 368.8L279.6 369L279.7 369.1L281.3 371.2L283.1 370.7L284.9 370.4L286.6 369.3L286.9 369.1L288.4 368.1L290.2 368.5L291.5 369.1L291.9 369.7L292.3 369.1L293.7 368.3L294.4 367L295.4 364.8L295.4 364.7L297.2 363.8L299 364.5L300.7 362.9L301.3 362.6L302.3 360.4L302.5 359.8L303.3 358.2L304.3 357.4L305.3 356.1L306 355.5L307.8 356L308.2 356.1L309.5 356.2L309.9 356.1L311.3 355.3L313.1 354.7L314.8 353.9L314.9 353.9L316.6 353.3L318.4 352.7L320.1 353.1L321.1 353.9L321.9 354.7L323.6 355.2L325.4 354.9L327.2 354.3L327.7 353.9L328.9 353.3L330.7 353.2L331.4 353.9L332.1 356.1L330.7 357.1L328.9 358.2L328.9 358.2L328.3 360.4L328.9 361.7L330.7 362.3L332.5 361.5L334.2 361.7L336 362L337 362.6L337.7 364L338.4 364.8L337.7 365.3L336 366.1L334.8 364.8L334.2 363.9L333.5 364.8L332.5 366.1L331.9 367L331.7 369.1L331.2 371.3L332 373.5L332.2 375.7L332.2 377.8L332.5 378.2L334.2 379.9L334.8 380L335.8 382.2L335.4 384.4L336 385.9L336.3 386.6L337 388.7L336.9 390.9L337.7 393L339.5 392.7L340 393.1L341.3 393.7L343 394.5L344.8 395L345.4 395.3L346.6 395.4L348.2 397.4L348.3 397.5L350.1 398.1L351.8 398.3L353 399.6L353.6 400.3L355.4 400.4L357.1 400.4L358.9 400.2L359.3 399.6L358.9 399L357.9 397.4L358.9 395.9L359.4 395.3L360.7 393.9L362.4 394L364.2 394L365.9 393.9L367.7 394L369.5 394L370.7 395.3L371.2 395.8L372.7 397.4L373 397.7L373.2 397.4L374.8 395.8L376.5 395.8L378 397.4L378.3 397.8L380 397.9L381.4 399.6L381.5 401.8L381.8 402.1L383.6 403.8L383.9 404L384.1 406.1L385.3 408.3L385.3 408.4L387.1 408.5L387.2 408.3L388 406.1L387.8 404L387.5 401.8L387.3 399.6L387.7 397.4L387.1 395.3L387.1 395.3L387.1 395.2L388.9 394.8L390.6 394.9L392.4 395.2L392.7 395.3L394.1 395.6L395.9 396.7L397 397.4L397.7 398.1L399.4 398L401.2 398.3L401.5 397.4L401.3 395.3L401.2 395.1L400.2 393.1L399.6 390.9L401.2 390.1L403 390L404.7 390.8L405.3 390.9L405.9 393.1L405.8 395.3L405.6 397.4L404.7 398.7L403.9 399.6L404.7 400L406.5 399.9L406.8 399.6L408.2 398.2L408.8 397.4L410 395.7L411.8 397.2L413.5 396.5L414.6 395.3L415.3 394.5L416.9 393.1L417.1 392.7L417.7 390.9L417.5 388.7L417.1 387.6L415.3 386.7L415.1 386.6L415.3 384.8L415.5 384.4L417.1 384.2L418.8 382.9L419.8 382.2L420.6 381.2L421.9 380L422.3 378.6L422.6 377.8L423 375.7L423.8 373.5L424.1 373L425.4 371.3L424.7 369.1L425.1 367L425.9 366.6L426.8 367L427.6 368.5L428.3 369.1L427.6 370.1L427.1 371.3L426.2 373.5L427.6 374.9L428.3 373.5L429.4 371.3L429.4 371.3L429.6 369.1L429.4 368.3L428.5 367L429.4 365.6L430.5 364.8L431.2 364.1L431.4 362.6L431.2 360.4L432.9 358.6L434.7 358.7L436.4 358.7L437.9 360.4L438.2 360.7L439.2 360.4L440 359.8L441.7 358.6L443.5 358.9L445.3 359.2L447 359.8L448.8 360.1L450.5 359.7L452.3 358.3L452.3 358.2L454.1 356.6L455.8 356.6L457.2 356.1L457.3 353.9L457.6 353.7L459.3 351.7L459.4 351.7L459.4 351.7L461.1 353L461.7 353.9L462.7 356.1L462.9 356.3L463.1 356.1L464.6 354.6L465.9 353.9L466.4 353.6L468.2 352L468.9 353.9L469.4 356.1L469.9 356.9L471.7 357.4L472.4 358.2L473.2 360.4L473.5 360.9L475 360.4L475.2 360.4L475.3 360.4L476.5 362.6L476.8 364.8L476.8 367L477 367.3L477.3 367L478.7 365.5L480.5 365.6L482.3 366.7L482.4 367L482.3 367.2L481.5 369.1L480.5 370L478.7 370L477 370.3L475.5 371.3L475.2 371.5L474 373.5L473.5 374.5L472.6 375.7L473.5 376.1L475.2 376.5L477 375.9L477.1 375.7L478.7 373.5L478.7 373.5L478.8 373.5L480.5 375.3L480.9 375.7L482.3 377L484 377.4L485 377.8L485.8 378.2L487.6 378.3L489.3 378.9L491.1 379.2L492.8 379.4L494.6 378.8L496.4 378.9L498.1 379.4L499.9 379.7L501.7 379.4L502.3 380L503.4 381.1L504.4 382.2L505.2 382.7L506.9 382.4L508.7 382.3L510.5 383.1L512.1 382.2L512.2 382.1L514 381.7L515.8 381.1L517.5 380.8L519.3 380.7L519.9 380L521 378.3L521.5 377.8L522.8 376.9L524.6 376.8L526.3 376.5L527.2 375.7L528.1 374.1L529.9 374.1L531.6 373.9L532 373.5L532.5 371.3L531.6 370.4L529.9 369.9L528.1 369.3L528 369.1L527.3 367L526.4 364.8L526.3 364.4L524.6 362.7L524.5 362.6L522.8 361.4L521.3 360.4L521 360.3L519.3 359.2L518.4 360.4L517.5 361.1L515.8 361.4L514 360.8L513.3 360.4L512.2 358.4L510.5 358.5L510.2 358.2L508.7 356.7L507.9 356.1L507.1 353.9L508.7 352.7L510.5 353.1L512.2 353L514 353.3L515.8 352L515.9 351.7L515.8 350.9L515.5 349.5L515.8 349.2L517.5 348.4L519.3 349.5L519.6 349.5L519.6 351.7L520.2 353.9L521 354.5L522.8 356.1L522.8 356.1L524.6 356.7L525.6 356.1L526.3 354.7L527.7 356.1L528.1 356.2L528.3 356.1L529.9 354.7L530.6 353.9L531.6 352.9L532.8 353.9L533.4 354.1L535.1 354.7L536.5 353.9L536.9 353.2L538.7 353.2L539 353.9L540.1 356.1L539.8 358.2L540.4 359.3L541.5 358.2L542.2 357.4L542.7 356.1L543.8 353.9L544 353.5L545.7 352.8L546.7 351.7L547.5 350.1L547.8 349.5ZM327.2 453.3L326.8 454.1L327.2 454.5L327.8 454.1ZM182.6 485.6L181.6 486.7L182.2 488.9L182.6 489.1L184.4 489.4L185.7 488.9L186.2 488.1L187.3 486.7L186.2 486.4L184.4 485.7ZM207.3 401.4L206.8 401.8L207.3 402.2L208.4 404L209.1 404.8L210.3 406.1L210.8 406.7L211.5 406.1L212.2 404L212 401.8L210.8 401.1L209.1 400.7ZM239 366.3L238.5 367L239 368L239.4 367ZM240.8 371L240.7 371.3L240.8 371.5L241 371.3ZM286.6 456.7L285.5 458.4L284.9 460.2L284.4 460.6L283.1 461.1L281.3 461.2L279.6 461.9L279.3 462.8L279.3 464.9L278.1 467.1L277.8 468.4L277.6 469.3L276.9 471.5L276.3 473.7L276.1 475.8L276.6 478L277.5 480.2L277.3 482.4L277.8 482.8L279.6 483.4L281.3 483.6L283.1 484.4L284.9 484.3L286.6 483.9L287.5 484.5L288.4 485L289.3 484.5L290.2 484.2L291.9 483.6L293.3 484.5L293.7 485.2L295.4 485.6L295.8 486.7L297 488.9L297.2 489.3L299 489.1L299.1 488.9L300.7 487.8L302.5 487.9L304.3 488.1L306 488.7L306.5 488.9L307.8 489.6L309.5 489.6L311.1 491.1L311.1 493.2L311.3 493.8L312.5 495.4L313.1 495.9L314.8 495.8L316.6 496.8L317.5 497.6L318.4 498.1L320.1 498.8L321.4 499.8L321.9 500.2L323.6 500.8L325.4 500.3L325.9 499.8L326.9 497.6L327.2 497.1L328.9 495.4L328.9 495.4L330.7 494.6L332.5 494.8L334.2 494.2L335.2 493.2L336 492.5L337.7 491.1L337.9 491.1L339.5 490.3L341.3 489.8L343 489.2L343.4 488.9L343.7 486.7L343 486.1L341.3 486.3L339.5 486.1L338.6 484.5L337.7 483.5L336 482.5L335.8 482.4L334.2 480.7L332.9 480.2L332.5 479.7L330.7 478.1L330.5 478L330 475.8L328.9 475.2L328 473.7L327.2 472.7L326.3 471.5L325.4 470.3L323.6 469.7L323.3 469.3L322 467.1L321.9 467L320.3 464.9L320.1 464.6L319 462.8L319 460.6L318.4 458.9L318 458.4L316.6 457.8L314.8 457.8L313.2 458.4L313.1 458.5L311.3 459.1L309.5 458.7L308.9 458.4L307.8 458.2L306 458.2L304.3 458.3L302.5 457.7L300.7 457.3L299 457.4L297.2 457.7L295.6 458.4L295.4 458.5L294.8 458.4L293.7 458.2L291.9 457.8L290.2 457L288.4 457.2ZM314.8 407.6L313.7 408.3L313.1 409.4L312.6 410.5L313.1 411L314.8 412.3L316.6 412.3L318.4 411.5L318.8 410.5L318.4 408.4L318.3 408.3L316.6 406.3ZM378.3 427.9L378.2 427.9L378.3 428.9L379.6 427.9ZM387.1 427.6L385.6 427.9L386.8 430.1L387.1 430.5L388.9 430.7L390.6 430.8L391.9 432.3L392.4 432.8L394.1 432.9L395.9 432.5L397.3 432.3L396 430.1L395.9 430L394.1 429.4L392.5 427.9L392.4 427.8L390.6 427.5L388.9 427.4ZM397.7 433.1L397.6 434.5L397.7 434.6L399.4 436.6L399.4 436.6L401.2 438.4L402 438.8L403 438.9L404.7 438.9L406.5 439L408.2 439.1L409.6 438.8L408.2 437.4L407.4 436.6L406.5 436.4L404.7 435.1L403 435.2L402.1 434.5L401.2 433.6L399.4 432.7ZM415.3 447.5L415.3 447.5L415.3 447.6L415.9 447.5ZM417.1 440.7L415.9 441L416.8 443.2L417.1 443.6L418.4 445.3L418.7 447.5L418.8 447.5L420.6 447.5L420.8 447.5L422.3 447L424 445.3L424.1 445.2L425.9 445.2L427.3 443.2L425.9 443.1L424.2 441L424.1 440.8L422.3 440.8L420.6 440.9L418.8 440.7ZM429.4 443.1L428.3 443.2L428.4 445.3L429.4 445.4L429.8 445.3L429.4 443.2ZM448.8 541L448.5 541.2L448.8 541.3L449.4 541.2ZM454.1 539.5L453.7 541.2L454.1 541.9L455.4 541.2ZM455.8 549.7L454.3 549.9L455.8 550.2L456 549.9ZM468.2 369.9L467.3 371.3L467.4 373.5L468.2 375.5L469.9 374.5L471.7 374.5L472.6 373.5L472.2 371.3L471.7 371.2L469.9 370.3ZM529.9 366.5L529.6 367L529.9 367.6L530.8 367ZM531.6 363.8L530.9 364.8L531.6 366.5L532.2 364.8ZM401.2 488.2L400.8 488.9L401.2 490.4L403 490.2L403.9 488.9L403 487.8ZM524.4 353.9L524.6 353.7L525 353.9L524.6 354.2ZM608.9 353.9L609.2 352.3L609.5 353.9L609.2 355ZM481.8 356.1L482.3 355.3L484 355.8L484.3 356.1L484.5 358.2L484.1 360.4L484 360.8L482.6 360.4L482.3 360.1L482 358.2ZM261.1 360.4L262 359.7L262.4 360.4L262.3 362.6L262 363L261 362.6ZM478.3 362.6L478.7 361.9L478.9 362.6L478.7 363.4ZM194.5 401.8L195 401.1L195.6 401.8L195 402.4ZM305.7 443.2L306 442.5L307.2 443.2L306 443.4ZM332.2 451.9L332.5 451.8L334.2 450.7L335.1 451.9L334.2 452.6L332.5 452.3ZM414.6 504.1L415.3 502.9L416.2 504.1L417.1 505.2L418.7 506.3L418.6 508.5L417.1 510.2L416.8 510.7L415.3 512.7L413.5 511.2L413.3 510.7L411.8 509L411.4 508.5L411.7 506.3L411.8 506.1L413.5 505.4ZM419.5 508.5L420.6 507.8L420.7 508.5L420.6 508.6ZM408.1 510.7L408.2 510.6L408.3 510.7L408.2 511ZM413.2 515L413.5 514.6L414.2 515L413.8 517.2L414.5 519.4L413.5 520.7L411.8 520.9L410.3 519.4L410 518.6L408.2 517.3L408.1 517.2L408.2 516.5L410 516.1L411.8 516.2ZM480.2 558.6L480.5 557.4L480.7 558.6L480.5 559.2ZM367.7 615.2L367.7 615.2L367.7 615.2L367.8 617.4L367.7 617.5L365.9 618.6L365.4 619.5L364.2 620.6L362.4 619.7L361.9 619.5L362.4 619.4L364.2 618.4L365.2 617.4L365.9 616.7ZM526.8 641.3L528.1 639.7L529.2 641.3L528.1 642.5Z"/>
<path fill="#fffaaa" d="M552.6 356.1L552.8 355.7L553.4 356.1L554 358.2L552.8 358.9L552.3 358.2ZM589.3 356.1L589.8 355.7L591.5 355.7L592.3 356.1L593.3 356.9L595 358.2L595.1 358.3L596.8 359L598.4 360.4L598.6 360.8L600.4 361.7L602.1 361.9L603.9 362L605.6 362.4L606.2 362.6L607.4 363.4L609.2 364.2L610.9 362.6L612.7 363.1L612.7 364.8L612.7 367L612.7 369.1L612.7 371.3L612.7 373.5L612.7 375.7L612.7 377.8L612.7 380L612.7 382.2L612.7 384.4L612.7 386.6L612.7 388.7L612.7 390.9L612.7 393.1L612.7 395.3L612.7 397.4L612.7 399.6L612.7 401.8L612.7 404L612.7 406.1L612.7 408.3L612.7 410.5L612.7 412.7L612.7 414.9L612.7 417L612.7 419.2L612.7 421.4L612.7 423.6L612.7 425.7L612.7 427.9L612.7 430.1L612.7 432.3L612.7 434.5L612.7 436.6L612.7 438.8L612.7 441L612.7 443.2L612.7 445.3L612.7 447.5L612.7 449.7L612.7 451.9L612.7 454.1L612.7 456.2L612.7 458.4L612.7 460.6L612.7 462.8L612.7 464.9L612.7 467.1L612.7 469.3L612.7 471.5L612.7 473.7L612.7 475.8L612.7 478L612.7 480.2L612.7 482.4L612.7 484.5L612.7 486.7L612.7 488.9L612.7 491.1L612.7 493.2L612.7 495.4L612.7 497.6L612.7 499.8L612.7 502L612.7 504.1L612.7 506.3L612.7 508.5L612.7 510.7L612.7 512.8L612.7 515L612.7 517.2L612.7 519.4L612.7 521.6L612.7 523.7L612.7 525.9L612.7 528.1L612.7 530.3L612.7 532.4L612.7 534.6L612.7 536.8L612.7 539L612.7 541.2L612.7 543.3L612.7 545.5L612.7 547.7L612.7 549.9L612.7 552L612.7 554.2L612.7 556.4L612.7 558.6L612.7 560.8L612.7 562.9L612.7 565.1L612.7 567.3L612.7 569.5L612.7 571.6L612.7 573.8L612.7 576L612.7 578.2L612.7 580.3L612.7 582.5L612.7 584.7L612.7 586.9L612.7 589.1L612.7 591.2L612.7 593.4L612.7 595.6L612.7 597.8L612.7 599.9L612.7 602.1L612.7 604.3L612.7 606.5L612.7 608.7L612.7 610.8L612.7 613L612.7 615.2L612.7 617.4L612.7 619.5L612.7 621.7L612.7 623.9L612.7 626.1L612.7 628.3L612.7 630.4L612.7 632.6L612.7 634.8L612.7 637L612.7 639.1L612.7 641.3L612.7 643.5L612.7 645.7L612.7 647.7L610.9 647.6L609.2 647.7L607.4 646.3L607 645.7L605.6 645L605.1 645.7L603.9 646.9L602.4 647.9L602.1 648.3L600.4 649.9L598.6 649.2L596.9 647.9L596.8 647.8L595.1 647.3L593.3 646.8L591.5 647.1L590 647.9L589.8 647.9L588 647.9L588 647.9L586.3 647.3L584.5 646.8L582.7 646.8L581 646.7L579.2 645.7L579.1 645.7L577.4 644.3L575.7 644.1L574.6 643.5L573.9 643.1L572.7 641.3L572.2 640.6L570.4 639.7L569.4 639.1L568.6 638.3L566.9 637.3L566.2 637L565.1 636.3L563.3 635.2L562.8 634.8L561.6 633.7L560.5 632.6L559.8 631.2L559.2 630.4L558.1 629.7L556.6 628.3L556.3 628.1L555.9 628.3L554.5 628.8L552.8 628.6L551 628.4L550.8 628.3L549.2 627.2L547.5 626.4L546.8 626.1L545.7 624.8L545.1 623.9L544 623.3L542.2 622L541.7 621.7L540.4 620.7L539.1 619.5L538.7 618.8L538.1 617.4L537.2 615.2L536.9 614.3L535.1 613.3L535.1 613L534.6 610.8L535 608.7L534.9 606.5L535.1 606.2L536.8 604.3L536.7 602.1L536.4 599.9L536.3 597.8L536.2 595.6L536 593.4L535.7 591.2L535.4 589.1L535.1 588L534 586.9L533.4 586L533 584.7L532.6 582.5L533.2 580.3L533.4 580L535.1 578.5L535.9 578.2L536.9 577.6L538.3 576L538.7 575.6L539.4 576L540.4 576.4L540.8 576L542.2 574L542.3 573.8L542.2 573.4L541.1 571.6L540.4 570.5L540.1 569.5L538.7 567.7L536.9 568.3L535.1 569.3L534.3 569.5L533.4 569.8L531.6 570.4L529.9 571.5L529.7 571.6L528.1 572.8L526.9 573.8L526.3 574.2L524.6 576L524.6 576.1L524 576L522.8 575.8L522.6 576L521.7 578.2L522.5 580.3L521 581.8L520.5 582.5L519.3 584L518.2 584.7L517.5 585.9L515.8 584.9L515.6 586.9L514 588.9L512.2 587.4L511.8 586.9L510.5 585.3L509.9 584.7L508.7 584.1L506.9 583.5L505.5 582.5L505.2 581.8L503.8 580.3L503.4 580.2L501.7 578.9L501.4 578.2L500.7 576L500.6 573.8L501 571.6L501.7 571L503.4 570.4L504.4 569.5L505 567.3L505.2 566.7L506.9 565.4L508.7 565.7L509.4 565.1L508.7 563.1L506.9 564.2L505.2 564.2L503.4 563.4L503 562.9L503.4 561.7L503.9 560.8L505.2 559.8L506.4 558.6L506.9 556.9L507.1 556.4L506.9 556.2L505.4 554.2L505.2 553.6L504.4 552L503.4 551.5L501.7 551.6L499.9 551L499 549.9L498.3 547.7L498.1 547.2L496.4 545.6L495.7 545.5L494.6 545.3L494.2 545.5L492.8 547L492.3 547.7L491.1 548.1L490 547.7L489.3 547.4L488.1 547.7L487.6 547.9L485.8 549L484 549.5L483.7 549.9L482.3 551.1L480.5 551.3L478.7 550.9L477 550.7L475.2 550.9L473.5 551L471.7 550.9L470.2 552L469.9 552.3L468.2 552.7L466.4 552.8L464.6 552.4L463.5 552L462.9 551.2L461.9 549.9L461.1 549L460.6 547.7L461.1 545.5L461.1 545.4L462.3 543.3L462 541.2L462.6 539L462.2 536.8L462.9 535.9L463 534.6L462.9 534.3L461.7 532.4L461.1 531.6L459.4 530.5L458.9 530.3L457.6 529.6L455.8 530.2L454.1 529.9L452.3 529.3L450.5 529.3L448.8 529.2L447.3 528.1L447 527.9L445.8 528.1L445.3 528.4L444.4 530.3L443.5 531.3L442.9 530.3L443 528.1L443 525.9L442.2 523.7L442 521.6L442.3 519.4L442.8 517.2L442.4 515L442.1 512.8L443.3 510.7L443.5 510.2L444 508.5L443.5 506.7L443.4 506.3L441.7 504.6L441.3 504.1L440.2 502L440 501.4L439.4 499.8L438.9 497.6L438.4 495.4L438.9 493.2L438.2 492.3L436.4 491.3L436.2 491.1L436.4 489.7L436.5 488.9L436.4 487.8L436.3 486.7L434.7 485.6L433.6 484.5L432.9 483.9L431.2 482.5L430.5 482.4L429.4 482.1L429 482.4L427.6 483.5L425.9 483.7L424.1 482.6L423.8 482.4L422.3 482L420.6 482.3L418.8 481.9L418.2 482.4L417.1 483.6L416.3 484.5L415.3 485.7L414.4 486.7L413.5 488.8L413 488.9L411.8 488.9L411.7 488.9L410.8 486.7L410 485.8L409.6 484.5L408.2 484L407.9 484.5L406.5 485.9L404.7 486.1L403 485.6L401.2 485.8L399.4 486.4L397.7 485.7L395.9 485.4L394.1 485.4L392.4 485.2L390.6 484.7L390.3 484.5L388.9 483.7L387.1 483.4L385.3 484L383.6 482.4L383.5 482.4L381.8 480.2L381.8 480.2L380 478.2L380 478L379.6 475.8L379.2 473.7L378.9 471.5L378.7 469.3L378.6 467.1L378.4 464.9L378.5 462.8L378.4 460.6L378.3 460.5L376.5 460.4L374.8 458.8L374.3 458.4L373 458.2L371.2 458.3L370.6 458.4L369.5 459.2L367.7 458.5L367.2 458.4L365.9 458.3L364.2 458.4L362.4 458.3L360.7 456.2L360.7 455.1L360.2 454.1L358.9 452.9L357.1 452.4L355.4 452.7L353.6 453.1L351.8 452.6L350.1 452L349.8 451.9L348.3 450.6L347.8 449.7L346.6 448.9L345.4 447.5L344.8 447.4L343 447L341.3 446.8L339.5 446.8L337.7 446.7L336.5 445.3L336 444.4L335.1 443.2L334.2 441.6L333.8 441L332.7 438.8L332.5 438.3L332.2 436.6L330.7 435L330.2 434.5L329.7 432.3L328.9 431.6L327.7 430.1L327.6 427.9L327.4 425.7L327.7 423.6L327.2 423.2L325.4 423.3L325.2 423.6L323.6 424.5L321.9 424L321.6 423.6L321.9 423.1L323.3 421.4L323.3 419.2L322.5 417L321.9 415.1L321.8 414.9L321.9 414.7L322.6 412.7L322 410.5L321.9 409.7L321.6 408.3L321.4 406.1L321.3 404L320.3 401.8L320.1 401.6L318.4 401.2L316.6 401L315.1 401.8L314.8 402.3L314.3 401.8L313.1 401.3L312.1 401.8L311.3 402.3L309.5 402.7L308.8 401.8L308.2 399.6L308.3 397.4L307.8 396.3L307.1 395.3L306 394L304.3 394.4L303.8 393.1L304.3 391.7L304.6 390.9L304.3 390.5L303.6 388.7L302.6 386.6L302.7 384.4L302.9 382.2L303.2 380L302.5 379.4L301.3 380L300.7 380.2L299 380.4L297.7 380L297.2 379.6L295.4 378.4L295 377.8L295.4 376.5L296.1 375.7L296.3 373.5L297.2 371.3L299 372.4L300.7 372.2L300.9 371.3L300.8 369.1L302.5 367L304.3 367.3L304.7 367L305.3 364.8L306 363.4L307.2 362.6L307.8 362.3L309.5 361.3L310.4 360.4L311.3 358.9L313.1 359.4L314.8 358.7L316.1 358.2L316.6 358.2L317.1 358.2L316.6 358.6L316.1 360.4L316.6 360.8L318.4 361L320.1 360.8L321.6 362.6L321.8 364.8L321.9 365.2L322.7 367L323.6 368.1L324.8 369.1L324.1 371.3L324.4 373.5L324 375.7L324.9 377.8L325.4 378.2L327.2 378.3L328.9 379.1L330.2 380L330.7 380.5L331.8 382.2L332.3 384.4L332 386.6L331.7 388.7L331.7 390.9L332.3 393.1L332 395.3L332.5 395.7L334.2 396.5L336 397.3L337.7 397.1L339.5 396.4L341.3 397.3L343 397.1L344.8 396.1L346.6 396.3L347.5 397.4L348.3 398.4L350.1 398.8L351.8 399L352.4 399.6L353.6 401L355.4 401L357.1 401L358.9 400.9L359.9 399.6L358.9 398.1L358.4 397.4L358.9 396.8L360 395.3L360.7 394.6L362.4 394.6L364.2 394.5L365.9 394.5L367.7 394.5L369.5 394.5L370.2 395.3L371.2 396.4L372.2 397.4L373 398.4L373.8 397.4L374.8 396.4L376.5 396.4L377.5 397.4L378.3 398.4L380 398.5L380.9 399.6L381 401.8L381.8 402.7L383 404L383 406.1L383.2 408.3L383.6 408.8L384.9 410.5L385.2 412.7L385.3 412.9L387.1 414L388.2 414.9L388.9 415.8L390.3 414.9L390.6 414.7L390.8 412.7L391 410.5L390.8 408.3L390.6 408.1L389.5 406.1L389.5 404L389.3 401.8L388.9 401.1L388 399.6L388.6 397.4L388.9 396.9L390.6 396.8L391.9 397.4L392.4 397.9L394.1 399.6L394.2 399.6L395.9 400.9L397.3 401.8L397.7 402L399.4 402.6L401.2 403.1L403 403.1L404.7 403.6L406.5 404L408.2 403.3L410 402.9L411.8 403.1L413.5 401.9L413.6 401.8L415.1 399.6L415.3 399.3L416.5 397.4L417.1 397L418.8 396.1L419.8 395.3L420.6 394.3L422.3 393.4L422.7 393.1L423.1 390.9L424.1 389.8L424.8 388.7L425.9 386.8L426.1 386.6L425.9 386.2L424.4 384.4L425.9 383.6L427.5 382.2L427.6 382.1L429.4 380.2L429.7 380L431.2 377.9L431.2 377.8L432 375.7L432.8 373.5L432.9 373.2L433.5 371.3L433.4 369.1L433.6 367L433.8 364.8L434.7 363.7L436.4 363.4L438.2 363.8L440 363.3L441.1 362.6L441.7 362.3L443.3 362.6L443.5 362.6L445.3 364L447 363.3L448.8 363.2L450.5 363.3L452.3 362.9L454.1 363.8L455.8 364.1L457.6 364.3L458.5 364.8L459.4 365.5L460.3 367L461.1 368.8L462.9 369.1L462.9 369.1L462.9 369.2L461.6 371.3L462.9 372.7L463 373.5L463.6 375.7L464.6 377.3L465.9 377.8L466.4 378L468.2 378.9L469.9 378.9L471.7 378.8L473.5 379.5L475.2 380L477 380L477 380L478.7 381L480.5 380.8L482.3 381L484 381.6L485.8 381.8L487.6 381.4L489.3 381.7L491.1 382.1L492.2 382.2L492.8 382.2L493.4 382.2L494.6 382.1L496.4 381.9L497.3 382.2L498.1 382.7L499.9 382.9L501.7 382.9L503.4 383.7L504.6 384.4L505.2 384.7L506.9 384.9L508.7 385.2L510.5 386.1L512.2 385.6L513.7 384.4L514 384.2L515.8 383.7L517.5 383.5L519.3 383.5L520.7 382.2L521 381.8L522.8 380.3L523.3 380L524.6 379.5L526.3 379.5L528.1 378.6L529.8 377.8L529.9 377.8L529.9 377.8L531.6 378.6L533.4 378.4L534.7 377.8L535.1 377.5L536.1 377.8L536.9 378.1L537.8 377.8L538.7 377.6L540.4 376.7L542.2 376.1L544 377.3L544.4 377.8L545.7 378.9L547.5 378.8L548 377.8L549.2 375.7L549.2 375.6L549.3 375.7L551 376.9L552.3 377.8L552.8 378L553 377.8L554.5 376.2L555.3 375.7L556.3 375.2L557.6 373.5L557.3 371.3L556.4 369.1L556.3 368.9L555.6 367L556.3 365.6L558.1 364.8L559.8 366.7L561.6 366.9L561.6 367L563.3 368.2L565 369.1L565.1 369.2L566.9 369.4L568.6 369.4L568.9 369.1L568.8 367L569.1 364.8L570.4 363.4L572.2 362.8L572.4 362.6L572.2 361.3L572 360.4L572.2 360.2L572.9 360.4L573.9 360.7L575.7 361.5L576.7 362.6L577.4 363.8L578.4 362.6L578.7 360.4L579.2 359.9L581 359.7L582.7 359.8L583.6 360.4L584.5 360.6L584.6 360.4L586.3 359.2L586.9 358.2L588 357.4ZM462.9 547.6L462.8 547.7L462.9 547.8L462.9 547.7ZM300.7 375.5L300.6 375.7L300.7 375.7L300.7 375.7ZM325.4 414.5L324.3 414.9L325.4 415.2L325.7 414.9ZM364.2 434.3L362.8 434.5L362.4 435.3L361.5 436.6L360.7 438.6L360.6 438.8L360.7 438.9L361.5 441L361.1 443.2L360.7 443.8L360 445.3L359.8 447.5L360.7 449.2L362.4 449.6L362.5 447.5L362.4 445.3L363.1 443.2L364.2 441.7L364.3 441L364.3 438.8L365.9 436.6L365.9 436.6L366.1 434.5L365.9 434.3ZM378.3 427.3L377.7 427.9L376.5 429.5L376.1 430.1L376.5 430.5L378.3 430.6L378.7 430.1L380 428.5L381.8 428.4L383.6 428.2L385.3 428.6L386.3 430.1L387.1 431L388.9 431.2L390.6 431.4L391.3 432.3L392.4 433.5L394.1 433.7L395.9 433.6L396.7 434.5L397.7 435.7L398.5 436.6L399.4 437.4L400.6 438.8L401.2 439.4L403 439.5L404.7 439.4L406.5 439.6L408.2 439.7L410 439.5L410.5 438.8L410 438.2L408.7 436.6L408.2 436.1L406.5 435.7L405.3 434.5L404.7 433.8L403 433.7L401.8 432.3L401.2 431.6L399.4 431.5L397.7 431.4L396.7 430.1L395.9 429.2L394.1 428.7L393.3 427.9L392.4 427.1L390.6 426.9L388.9 426.8L387.1 427.1L385.3 427.4L383.6 427.6L381.8 427.4L380 427.4ZM415.3 440.5L414.8 441L415.3 441.8L416.1 443.2L417.1 444.7L417.6 445.3L417.1 446.3L415.3 446.5L414.6 447.5L415.3 448.3L417.1 448.1L418.8 448.2L420.6 448.3L422.3 448.3L423.1 447.5L424.1 446.3L425.9 446.2L427.6 446.1L429.4 446.2L430.7 447.5L431.2 447.9L431.5 447.5L431.5 445.3L431.2 444.9L430 443.2L429.4 442.5L427.6 442.5L425.9 442.3L424.9 441L424.1 440.2L422.3 440.1L420.6 440.2L418.8 440L417.1 440.1ZM554.5 485.7L553.8 486.7L553.9 488.9L553.3 491.1L552.8 492.1L552.1 493.2L552.8 493.9L554.5 494.1L556.3 494.9L558.1 494.5L558.6 493.2L559.2 491.1L559.5 488.9L559.4 486.7L558.1 485.2L556.3 485ZM208.5 360.4L209.1 359.9L210.4 360.4L210.2 362.6L210.7 364.8L210.8 365.4L211.8 367L212.6 368.1L214.4 367.8L214.7 369.1L214.4 369.9L213.1 371.3L214.3 373.5L214.4 373.6L216.1 375.5L216.2 375.7L216.4 377.8L217.9 378.6L218.9 377.8L219.7 376.8L221.2 375.7L221.4 375.4L221.8 375.7L222.5 377.8L223.2 378.7L223.9 377.8L224.9 375.9L225 375.7L226.7 374.1L228 373.5L227.7 371.3L226.7 370.4L225.4 369.1L224.9 368.1L224.5 367L224.9 366.3L226.7 365.1L226.9 364.8L227.6 362.6L226.9 360.4L228.5 359.8L229.2 360.4L230.2 361.6L232 362.1L232.2 362.6L232.2 364.8L232.9 367L232.2 369.1L232 370.2L231.7 371.3L232 372.6L232.2 373.5L233.8 375.4L234.1 375.7L235.3 377.8L234 380L233.8 382.2L234.9 384.4L235.5 385.1L237.3 386.3L237.9 386.6L239 387.2L240 386.6L240.8 386.3L242.6 386.5L244.3 386.3L246.1 385.3L247.9 384.5L248 384.4L249.6 383.3L251.4 383.2L252.4 382.2L253.1 381.5L254.9 381.2L256.7 381.8L258.4 382.1L259 382.2L260.2 382.4L260.9 382.2L262 380.4L262 380L263 377.8L263.7 377.1L265.1 375.7L265.5 374.9L267.2 375.5L267.6 375.7L269 376.1L269.5 375.7L270.8 374.5L272.5 373.7L274.3 374.1L274.9 375.7L275.9 377.8L276.1 378L277.8 378.7L279.6 379.1L280.6 380L281.3 380.7L283.1 380.1L284.5 382.2L284.9 382.6L285.4 382.2L286.6 380.5L288.4 381.8L288.9 382.2L290.2 383.4L290.4 384.4L291.9 386.3L292.2 386.6L293.2 388.7L293.7 388.9L295.3 390.9L295.4 391.3L297.2 391.9L297.9 393.1L297.2 395.3L299 396.4L300.7 397L301.9 397.4L302.5 398L304.2 399.6L304.3 399.7L305.1 401.8L304.3 403.1L302.5 403L300.7 403.6L300.5 404L300.7 404.4L301.5 406.1L301.3 408.3L300.7 410.2L300.6 410.5L300.7 410.8L302.3 412.7L302.5 412.7L304.3 413L306 414L306.6 414.9L307.8 416.1L309.5 417L308.3 419.2L307.8 420.4L307.4 421.4L306.4 423.6L306 424.3L304.9 425.7L304.3 427.1L304.1 427.9L303.8 430.1L302.5 430.9L301.5 432.3L301 434.5L300.8 436.6L300.7 436.7L300.5 436.6L299 436L298.1 436.6L297.2 437.4L295.4 438.8L295.4 438.8L293.8 441L293.7 441.1L291.9 442.3L291.5 443.2L291.3 445.3L290.7 447.5L291.2 449.7L291.9 450.8L292.8 449.7L293.7 449L295.4 448.8L296.6 449.7L297.2 450.2L299 449.9L300.7 450.1L302.5 451L304.3 451.3L306 451.9L306.1 451.9L306 452.2L305.2 454.1L304.3 454.2L302.5 454.5L300.7 454.9L299 454.9L297.2 455.5L295.4 455.7L293.7 455L291.9 454.5L290.2 454.4L288.4 454.8L286.6 454.1L284.9 454.1L284.8 454.1L283.8 451.9L283.1 451.5L282.7 451.9L281.9 454.1L281.3 454.6L279.6 455.7L278.4 456.2L277.8 456.9L277.3 458.4L276.9 460.6L276.1 462.8L276.1 463L275.7 464.9L275.2 467.1L274.3 468.8L273.8 469.3L272.5 471.3L272.4 471.5L272.5 471.8L273 473.7L273 475.8L272.5 476.6L271.2 478L270.8 478.8L269.9 480.2L270.8 481.5L271.9 482.4L272.5 483.3L274.3 483.9L274.8 484.5L276.1 485.6L277.8 486.1L279.6 486.6L279.9 486.7L281.3 487.4L283.1 487.7L284.9 487.9L286.6 488.2L288.4 488.6L289.1 488.9L290.2 489.8L291.9 489.8L293.7 490L294.2 491.1L294.8 493.2L295.4 494.1L297.2 494.2L299 494.5L300.7 494.9L302.5 494.6L303 493.2L304.3 492.1L306 493.2L306 493.2L307.4 495.4L307.8 496L309.5 497.2L309.9 497.6L311.3 499.6L311.5 499.8L313.1 500.9L314.5 502L314.8 502.7L315.6 504.1L316.6 506L318.4 504.3L318.4 504.1L320.1 502.8L321.2 504.1L321.8 506.3L321.9 506.7L323 508.5L321.9 510.7L321.9 512.8L321.9 512.8L321.9 512.8L322.1 515L323.6 515.8L325.4 516.3L327.2 516.3L328.9 515.5L330.7 515.2L332.5 515.4L334.2 515.6L336 515.4L337.7 515.6L339.5 516L341.3 515.8L343 515.7L344.8 515.2L345.1 515L346.6 513.4L348.2 512.8L346.6 512.2L344.8 511.6L343 511.4L341.3 511.5L339.5 511.2L337.7 511.7L336 511L334.2 511.1L332.5 511.2L330.7 511.3L329.8 510.7L328.9 509.8L328 508.5L327.2 506.4L325.4 506.5L325.1 506.3L325.4 505.9L326.2 504.1L327.2 503.5L328.1 502L328.9 500.7L330.3 499.8L330.7 499.5L332.5 498.6L333.7 497.6L334.2 497.3L336 496.6L337.7 495.5L337.8 495.4L339.5 493.9L341.1 493.2L341.3 493.2L341.7 493.2L343 493.4L344 493.2L344.8 493.1L346.6 493L348.3 491.4L350.1 491.5L350.5 491.1L350.1 490L349.4 488.9L348.5 486.7L348.3 486.5L346.7 484.5L346.6 484.4L344.8 484.2L343.2 482.4L343 482L341.3 480.7L340.8 480.2L339.5 479.9L337.7 480L336 478.3L335.9 478L334.3 475.8L334.2 475.7L333.2 473.7L332.5 472.7L331 471.5L330.7 471L328.9 470.5L328.4 469.3L327.2 467.9L325.6 467.1L325.4 467.1L323.6 466.1L323 464.9L321.9 463L321.8 462.8L321.2 460.6L321.1 458.4L320.1 457L318.9 456.2L318.4 455.3L316.6 454.8L314.8 455.4L313.1 454.5L312.6 454.1L313.1 452.9L314.4 451.9L314.8 451.8L315.2 451.9L316.6 452.8L318.4 453.9L320.1 453.7L321.1 454.1L321.9 454.6L323.6 455.2L325.4 455.2L326.3 456.2L327.2 457L328.9 456.9L330.7 457L332.5 457L333.7 458.4L334.2 458.9L334.7 458.4L336 457L337.7 456.8L339.5 456.7L341.3 456.7L342.8 458.4L343 458.8L344.8 458.9L346.3 460.6L346.6 460.9L347.9 462.8L348.3 463.3L349.7 464.9L350.1 465.3L351.8 465.6L353 467.1L353.6 468.1L355.4 468.4L357.1 469.1L357.3 469.3L358 471.5L358.9 473.5L359.1 473.7L360.7 474.9L362.4 475.8L363.1 475.8L364.2 476L365.9 476.5L367.7 477.8L367.8 478L367.7 479L367.3 480.2L365.9 481.9L365.5 482.4L364.2 483.6L362.4 483L360.7 483.9L360 484.5L358.9 485.8L357.1 486.5L356.9 486.7L357.1 487L358 488.9L357.6 491.1L358.9 491.6L360.7 492.4L361.1 493.2L362.4 494.5L364.2 493.9L364.9 495.4L365.9 497.2L366.7 497.6L367.7 498L369.5 498.3L371.2 499.8L371.2 499.8L373 500.2L374.8 500.8L376.5 501.1L378.3 501.1L380 501.1L381.8 501.7L382.5 502L383.6 502.9L384.9 504.1L385.3 504.8L385.9 506.3L387.1 507.8L387.6 508.5L388.2 510.7L388.1 512.8L387.6 515L387.1 516L385.3 516.5L383.6 516.7L381.8 516.7L380 517.2L380 517.2L378.3 518.1L376.5 518.9L375.8 519.4L374.8 520.5L373 521L371.6 519.4L371.2 519.1L369.5 519.3L369.1 519.4L368.4 521.6L369.5 522.1L371.1 523.7L371.2 523.9L372.3 525.9L373 526.8L374.8 527.8L375.2 528.1L376.5 529.3L377 530.3L378.3 532L378.7 532.4L380 534.6L380 534.6L381.8 535.6L383.6 536.6L383.8 536.8L385.3 537.9L386.8 539L387.1 539.4L388.9 540.5L390.6 541L390.7 541.2L390.6 541.4L388.9 542.3L388.5 543.3L388.9 543.9L390.6 544.1L392.4 544.6L394.1 545.5L394.1 545.5L395.9 545.7L396.8 545.5L397.7 545.3L397.9 545.5L399.4 547L400.1 547.7L400.7 549.9L400.8 552L399.4 554.2L399.4 554.2L399.4 554.2L400.2 556.4L400.6 558.6L401.2 560.8L401.2 560.8L401.9 562.9L402.3 565.1L403 566.2L403.7 567.3L404.7 568.4L405.5 569.5L406.5 571.3L406.6 571.6L407.6 573.8L408.2 575.4L408.4 576L409.6 578.2L410 578.6L411.2 580.3L411.8 580.9L413.5 581.8L414.9 582.5L415.3 582.7L417.1 584L417.6 584.7L418.8 586.2L420 586.9L420.6 587.1L422.3 587.5L424.1 588.7L424.8 589.1L425.9 589.9L427.3 591.2L427.6 591.6L428.8 593.4L429.4 594.2L431.2 595.2L431.7 595.6L432.9 596.7L434.7 597.4L435.4 597.8L436.4 599L437.2 599.9L438.2 602.1L438.3 602.1L440 604.2L440 604.3L441.4 606.5L441.7 606.9L443 608.7L443.5 610.8L443.2 613L443.5 615.2L443.5 616.1L443.6 617.4L444.8 619.5L443.7 621.7L443.5 622.1L442.6 623.9L441.7 625.6L441.5 626.1L440 627.8L439.4 628.3L440 629.2L440.4 630.4L440.7 632.6L440.1 634.8L440.1 637L440 637.1L438.2 638L436.5 637L436.4 636.9L434.7 635.4L434.5 634.8L433.4 632.6L432.9 631.3L431.2 631.8L429.8 632.6L429.4 632.9L427.6 634.5L427 632.6L426.8 630.4L425.9 628.3L425.9 628.2L425.8 626.1L425.9 624.2L425.9 623.9L427.3 621.7L427.3 619.5L427.4 617.4L427.4 615.2L427.3 613L427.1 610.8L425.9 609.3L425.4 608.7L425.2 606.5L424.1 605.1L423.5 604.3L422.3 602.9L421.7 602.1L420.6 600.9L418.8 600.6L418.1 599.9L417.1 599L415.3 598.9L414.3 597.8L413.5 597L411.8 596.6L410.8 595.6L410 594.7L408.5 593.4L408.2 593.1L406.7 591.2L406.5 590.8L405.6 589.1L404.7 587.9L403.9 586.9L403.7 584.7L403.6 582.5L403 581.6L402.1 580.3L402 578.2L401.2 577L400.4 576L400.2 573.8L399.4 572.9L398.2 571.6L397.7 570.6L395.9 570.2L394.1 569.8L392.4 570.1L390.6 569.8L389.7 569.5L388.9 569L387.1 569.2L386.8 569.5L385.3 570.4L383.6 571.2L381.8 571.3L380 570.7L378.3 570L376.5 570.5L374.8 570.8L373 571.5L372.5 571.6L371.2 572L369.5 572.8L367.9 573.8L367.7 573.9L365.9 574.7L364.7 576L365.1 578.2L364.2 580L364.1 580.3L364.2 580.6L365.1 582.5L365.6 584.7L365.1 586.9L364.2 588.2L363.4 589.1L362.4 590.4L362.1 591.2L362.4 592.6L363.6 593.4L362.4 594.8L362.2 595.6L362 597.8L362.4 599.8L362.4 599.9L362.4 600.5L361.4 602.1L360.7 602.4L359.3 604.3L358.9 605.2L357.1 605.8L355.7 606.5L355.4 606.6L353.6 608.7L353.6 608.7L352.7 610.8L352.3 613L351.8 613.9L350.9 615.2L350.1 615.6L348.3 616.3L347.3 617.4L347 619.5L346.6 620.3L344.8 621.2L343 621L341.3 620.6L339.5 621L337.7 619.9L336 621.7L336 621.7L335.2 623.9L334.2 625.4L333.4 626.1L332.5 627.3L332 628.3L331.5 630.4L330.7 632L329.8 632.6L328.9 633.4L327.2 633.8L325.8 634.8L327.2 636.1L327.6 637L327.7 639.1L327.2 641L327.1 641.3L325.8 643.5L325.4 644.5L323.9 645.7L323.6 645.8L321.9 645.7L320.1 646.1L318.7 647.9L318.4 648.6L317.3 650L316.6 650.6L314.8 651L313.1 651.8L312.7 652.2L311.5 654.4L311.3 654.6L309.5 655.3L307.8 656L306 655.5L304.3 655L303.6 654.4L302.5 653.6L300.7 653.3L299 653.1L297.2 652.6L296.8 652.2L297.2 650.8L299 650.5L299.2 650L299 648.7L297.2 649.7L296.8 650L295.4 650.8L294.5 650L293.7 649.4L291.9 648.9L291.3 650L290.2 652.1L288.8 650L288.4 648.5L286.6 649.8L286.1 650L284.9 650.5L284.5 650L283.1 648.9L281.3 648.5L279.6 648.1L279.4 647.9L277.8 646.6L276.1 646.9L274.3 647.1L272.5 647.7L271.4 647.9L272.5 648.9L272.7 650L272.5 650.1L270.8 650.5L269 650L269 650L267.2 649.6L265.5 648.6L263.7 647.9L263.7 647.9L262 645.8L261.8 645.7L262 645.6L262.9 643.5L262 642L260.2 643.3L260 643.5L258.4 644.8L257.3 645.7L256.7 646L255.3 645.7L254.9 645.1L253.1 643.7L252.9 643.5L252 641.3L251.4 641L249.6 640.3L247.9 639.6L246.1 640.4L244.3 640.5L242.6 640.8L242.2 641.3L241 643.5L240.8 643.5L239 643.8L237.3 643.6L236.5 643.5L235.5 643.4L233.8 643.5L233.5 643.5L232 643.5L232 643.5L230.2 642.7L228.5 642.6L226.7 641.8L224.9 641.4L224.2 641.3L223.2 641.2L223 641.3L221.4 642.2L219.7 642.2L217.9 641.4L217.8 641.3L216.1 640.7L214.4 640.1L212.6 639.3L212.3 639.1L210.8 638.8L209.1 638.3L208.3 639.1L207.3 640.3L206.5 641.3L205.6 643.3L205.1 643.5L203.8 643.8L203.5 643.5L202 642.2L201.3 641.3L200.3 640.4L198.5 641.2L196.7 639.9L196 639.1L195 638.3L194.2 637L193.2 635.7L192.2 637L191.5 637.8L189.7 639.1L189.4 639.1L187.9 639.8L186.2 639.4L185.8 639.1L184.4 637.6L182.6 637.8L180.9 638.8L179.1 638.9L179.1 637L179.1 634.8L179.1 632.6L179.1 630.4L179.1 628.3L179.1 626.1L179.1 623.9L179.1 621.7L179.1 619.5L179.1 617.4L179.1 615.2L179.1 613L179.1 610.8L179.1 608.7L179.1 606.5L179.1 604.3L179.1 602.1L179.1 599.9L179.1 597.8L179.1 595.6L179.1 593.4L179.1 591.2L179.1 589.1L179.1 586.9L179.1 584.7L179.1 582.5L179.1 580.3L179.1 578.2L179.1 576L179.1 573.8L179.1 571.6L179.1 569.5L179.1 567.3L179.1 565.1L179.1 562.9L179.1 560.8L179.1 558.6L179.1 556.4L179.1 554.2L179.1 552L179.1 549.9L179.1 547.7L179.1 545.5L179.1 543.3L179.1 541.2L179.1 539L179.1 536.8L179.1 534.6L179.1 532.4L179.1 530.3L179.1 528.1L179.1 525.9L179.1 523.7L179.1 521.6L179.1 519.4L179.1 517.2L179.1 515L179.1 512.8L179.1 510.7L179.1 508.5L179.1 506.3L179.1 504.1L179.1 502L179.1 499.8L179.1 497.6L179.1 495.4L179.1 493.2L179.1 491.2L180.9 491.2L182.6 491.7L184.4 492.1L186.2 491.6L187.1 491.1L187.9 490.6L189.7 490.4L191.5 489.8L192.7 488.9L193.2 488.5L195 487.3L195.9 486.7L195.2 484.5L195 484.2L193.2 483L191.5 484.1L189.7 484.4L187.9 483.8L186.2 482.6L185.6 482.4L184.4 482.1L182.6 481.8L180.9 481.4L179.1 481.1L179.1 480.2L179.1 478L179.1 475.8L179.1 473.7L179.1 471.5L179.1 469.3L179.1 467.1L179.1 464.9L179.1 462.8L179.1 460.6L179.1 458.4L179.1 456.2L179.1 454.1L179.1 451.9L179.1 449.7L179.1 447.5L179.1 445.3L179.1 443.2L179.1 441L179.1 438.8L179.1 436.6L179.1 434.5L179.1 432.3L179.1 430.1L179.1 427.9L179.1 425.7L179.1 423.6L179.1 421.4L179.1 419.2L179.1 417L179.1 414.9L179.1 413.1L180.9 413.3L182.6 413.8L184.4 413.8L185 414.9L186.2 415.7L187.9 415.5L189.7 414.9L191.5 416.2L193.2 416.1L195 415.8L196.7 416.3L197.4 417L198.1 419.2L198.4 421.4L197.6 423.6L196.7 424.4L196 425.7L195 427.4L194.5 427.9L195 429L195.6 430.1L195 432.1L194.9 432.3L195 432.3L195.7 432.3L196.7 432.1L198.5 431.6L199.4 432.3L200.3 433L202 433.6L203 432.3L203.4 430.1L203.8 428.1L203.9 427.9L205.6 426.3L206.5 425.7L207.3 424.8L207.7 423.6L207.3 421.7L207.1 421.4L205.6 420.4L205.3 419.2L205.6 418.5L206.6 417L207.3 416.5L209.1 415.8L210.4 414.9L210.7 412.7L210.8 412.4L212.6 412L212.9 412.7L212.6 413.4L211.5 414.9L212.6 415.5L214.4 415.8L215.2 414.9L216.1 413.6L216.8 412.7L217.6 410.5L216.8 408.3L217.9 406.5L218.4 406.1L218.5 404L218.4 401.8L217.9 399.9L217.8 399.6L217.9 399.1L218.2 397.4L218.3 395.3L217.9 395L217.1 395.3L216.1 395.8L214.4 396.2L212.6 397.1L210.8 396.8L209.3 395.3L209.1 394.9L207.3 393.7L206.9 393.1L206.3 390.9L207.2 388.7L207.3 388.6L209.1 388.2L210 386.6L210.2 384.4L209.6 382.2L209.1 381.9L207.3 380.4L207.1 380L207.3 379.3L208 377.8L209.1 376.5L209.2 375.7L209.1 374.9L207.3 373.9L207 375.7L205.6 377.3L203.8 376.7L202.1 377.8L202.1 380L202 380.1L200.3 380.2L198.5 382.1L198.5 382.2L196.7 383.8L196 384.4L195.4 386.6L195 387L193.2 388.4L191.5 386.6L191.5 386.5L189.7 386.5L189.6 386.6L187.9 387L186.2 388L184.4 387.5L182.6 387.2L180.9 387.4L179.5 388.7L179.1 389.2L179.1 388.7L179.1 386.6L179.1 384.4L179.1 382.2L179.1 380L179.1 377.8L179.1 375.7L179.1 373.9L179.8 373.5L180.6 371.3L180.2 369.1L180.9 368.6L181.8 369.1L182.6 369.9L184.4 369.8L186.2 369.7L187.3 369.1L187.9 368.8L189.7 369L190.1 369.1L191.5 370.3L192.3 371.3L193.2 372.1L193.9 371.3L195 369.8L195.4 369.1L196.5 367L196.7 366.8L197.7 364.8L198.5 362.8L200.3 363.1L202 363.1L203.8 363.3L205.4 362.6L205.6 362.5L207.3 361.4ZM209.1 371.2L208.7 371.3L209.1 371.8L209.9 371.3ZM221.4 405.9L221 406.1L221.4 406.3L221.7 406.1ZM232 379.2L230.7 380L230.2 380.8L229.9 382.2L230.1 384.4L229.7 386.6L229.1 388.7L230.2 389.5L231.5 388.7L231.5 386.6L231.3 384.4L232 384.2L233.7 382.2L233.2 380ZM244.3 486L243.2 486.7L244.3 487.7L246.1 487.8L247.4 486.7L246.1 485.7ZM251.4 486L250.7 486.7L251.4 487.1L252.9 488.9L253.1 489.3L254.9 490.7L256.7 489.8L257.5 488.9L256.7 487.1L256.4 486.7L254.9 485.9L253.1 485.2ZM207.3 427L207 427.9L207.3 428.3L207.7 427.9ZM555.3 360.4L556.3 359.3L556.9 360.4L557.4 362.6L556.3 364.2L554.6 362.6ZM223.1 364.8L223.2 364.7L223.4 364.8L223.2 364.9ZM462 558.6L462.9 558.1L463.3 558.6L462.9 559.7ZM456.1 560.8L457.6 560.1L459.4 560.3L460.9 560.8L460.8 562.9L459.4 563.9L458 562.9L457.6 562.4ZM612 650L612.7 648.4L612.7 650L612.7 651.8Z"/>
<path fill="#ffe878" d="M590.4 362.6L591.5 362.3L593.3 362.3L594.1 362.6L594.8 364.8L595.1 366.4L596.8 365.9L598.6 365.7L600.4 365.7L602.1 366.8L603.9 366.9L604 367L605 369.1L605.6 370L607.4 370.5L609.2 369.3L609.3 369.1L610.9 367.1L611.1 367L612.7 366.5L612.7 367L612.7 369.1L612.7 371.3L612.7 373.5L612.7 375.7L612.7 377.8L612.7 380L612.7 382.2L612.7 384.4L612.7 386.6L612.7 388.7L612.7 390.9L612.7 393.1L612.7 395.3L612.7 397.4L612.7 399.6L612.7 401.8L612.7 404L612.7 406.1L612.7 408.3L612.7 410.5L612.7 412.7L612.7 414.9L612.7 417L612.7 419.2L612.7 421.4L612.7 423.6L612.7 425.7L612.7 427.9L612.7 430.1L612.7 432.3L612.7 434.5L612.7 436.6L612.7 438.8L612.7 441L612.7 443.2L612.7 445.3L612.7 447.5L612.7 449.7L612.7 451.9L612.7 454.1L612.7 456.2L612.7 458.4L612.7 460.6L612.7 462.8L612.7 464.9L612.7 467.1L612.7 469.3L612.7 471.5L612.7 473.7L612.7 475.8L612.7 478L612.7 480.2L612.7 482.4L612.7 484.5L612.7 486.7L612.7 488.9L612.7 491.1L612.7 493.2L612.7 495.4L612.7 495.9L611 495.4L610.9 495.4L610.8 495.4L609.2 497.3L607.4 496.3L605.6 497L604.6 497.6L605 499.8L605.6 500.4L606.6 499.8L607.4 499.2L609.2 497.7L610.9 498.8L611.5 499.8L612.7 500.7L612.7 502L612.7 504.1L612.7 506.3L612.7 508.5L612.7 510.7L612.7 512.8L612.7 515L612.7 517.2L612.7 519.4L612.7 521.6L612.7 523.7L612.7 525.9L612.7 528.1L612.7 530.3L612.7 532.4L612.7 534.6L612.7 536.8L612.7 539L612.7 541.2L612.7 543.3L612.7 545.5L612.7 547.7L612.7 549.9L612.7 552L612.7 554.2L612.7 556.4L612.7 558.6L612.7 560.8L612.7 562.9L612.7 565.1L612.7 567.3L612.7 569.5L612.7 571.6L612.7 573.8L612.7 576L612.7 578.2L612.7 580.3L612.7 582.5L612.7 584.7L612.7 586.9L612.7 589.1L612.7 591.2L612.7 593.4L612.7 595.6L612.7 597.8L612.7 599.9L612.7 602.1L612.7 604.3L612.7 606.5L612.7 608.7L612.7 610.8L612.7 613L612.7 615.2L612.7 617.4L612.7 619.5L612.7 621.7L612.7 623.9L612.7 626.1L612.7 628.3L612.7 630.4L612.7 632.6L612.7 634.8L612.7 637L612.7 639L610.9 637.7L609.2 637.4L607.4 638.5L605.6 638.7L605.6 639.1L605.1 641.3L604.2 643.5L603.9 643.9L603.2 643.5L602.1 642.5L600.9 641.3L600.4 640.5L598.8 639.1L598.6 639L598.5 639.1L597.3 641.3L596.8 641.7L595.1 642.3L593.3 642.6L591.5 642.6L589.8 642.3L588 643.3L586.3 643.4L584.5 643.3L583.6 641.3L582.7 639.5L581 639.7L579.2 640.1L577.4 640.2L575.7 640.5L573.9 639.7L573.5 639.1L572.2 637.4L571.5 637L571 634.8L570.4 633.7L568.6 633.1L567.3 632.6L566.9 632.2L565.1 631.1L564.7 630.4L563.3 629.3L562 628.3L561.6 628L559.8 627.1L558.1 626.3L557.8 626.1L556.3 624.5L554.5 624.7L552.8 624.4L552.4 623.9L551 622.9L549.2 623.5L547.5 622.9L546.1 621.7L545.7 621.4L544 620.7L542.9 619.5L542.2 617.8L541.9 617.4L540.4 615.7L540.1 615.2L539.6 613L539.3 610.8L538.7 608.7L538.8 606.5L538.9 604.3L538.7 602.8L538.6 602.1L536.9 599.9L536.9 599.7L536.8 597.8L536.7 595.6L536.6 593.4L536.5 591.2L536.6 589.1L536.3 586.9L535.9 584.7L535.8 582.5L536.9 580.8L537.9 580.3L538.7 580.1L540.4 578.7L540.8 578.2L542.2 576.5L542.5 576L544 574.2L544.2 573.8L545.7 572L546 571.6L547.5 569.6L547.6 569.5L547.6 567.3L548.5 565.1L547.6 562.9L547.5 562.8L545.7 562.8L545.5 562.9L544 564.1L542.2 565.1L542.2 565.1L542.2 565.1L540.4 563.6L538.7 563.1L538.1 562.9L536.9 562L536.5 562.9L535.3 565.1L535.1 565.3L534.9 565.1L533.4 563.9L531.6 564.9L531.5 565.1L530.6 567.3L529.9 567.8L528.1 568.5L526.3 568.8L524.9 569.5L524.6 569.9L522.8 570.2L521.7 569.5L521 569.4L520.9 569.5L520.9 571.6L520 573.8L519.3 575.4L518.7 576L517.5 577.5L515.8 577.5L514.5 576L514 575.3L513.6 576L512.2 577.7L510.5 577.6L510.1 576L510.2 573.8L510.5 573.5L512.2 573L514 571.8L514.1 571.6L515.8 570.1L517.5 570.4L518.1 569.5L518 567.3L517.5 566.5L516.8 565.1L517.1 562.9L517.5 560.9L517.5 560.8L517.5 560.7L517.4 560.8L515.8 561.2L514 562.3L512.5 560.8L512.2 560.2L511.6 558.6L512.2 557.9L513.8 556.4L512.9 554.2L512.2 553.4L510.5 553.7L508.9 552L508.7 551.6L507.6 549.9L506.9 549L506.3 547.7L505.9 545.5L505.2 544.5L503.4 544.3L503.1 543.3L501.7 542.6L499.9 541.8L498.6 541.2L498.1 540.9L497 541.2L496.4 541.2L494.6 541.5L493.7 541.2L492.8 540.3L491.1 540.4L490.8 541.2L489.5 543.3L489.3 543.4L487.6 543.7L486.9 543.3L485.8 542.6L484 542.2L482.8 541.2L482.3 540.3L480.5 539.4L479.5 541.2L479.4 543.3L478.7 544.1L477.7 545.5L477 546.8L476.4 545.5L475.2 543.7L474.4 543.3L473.5 542.5L472.9 541.2L472.3 539L471.7 538.4L469.9 537.6L468.9 539L468.2 539.6L466.4 539.6L466 539L465.5 536.8L465.3 534.6L464.6 533.1L464.4 532.4L463.4 530.3L462.9 529.7L461.6 528.1L461.1 527.7L459.8 525.9L459.4 525.4L457.6 523.8L455.8 525L454.1 524.5L452.9 523.7L452.3 523.4L450.5 522.1L450.1 521.6L448.8 519.4L448.8 519.3L447.6 517.2L447 516.4L446.1 515L445.3 512.8L446.5 510.7L446 508.5L445.5 506.3L445.3 505.5L444.7 504.1L443.5 502.4L443.1 502L442.9 499.8L443.2 497.6L443.5 496.6L443.9 495.4L444.5 493.2L443.8 491.1L443.5 490.1L443.1 488.9L442.9 486.7L442.1 484.5L442.3 482.4L441.7 481.3L440 481.3L438.2 481.8L436.4 482.3L434.7 482.1L433.3 480.2L432.9 479.8L431.4 478L431.2 477.8L429.4 477.9L427.6 478L427.3 478L425.9 478.8L424.1 480.1L422.3 480L420.6 479.9L418.9 478L418.8 476.3L417.1 477.8L415.3 477.9L413.5 478L411.8 478L411.8 478L410 480.2L410 480.2L408.2 482.1L407.8 482.4L406.5 484.5L404.7 484.3L403 483.6L401.2 483.6L399.4 483.7L397.7 483.4L395.9 483.3L394.1 483.3L392.4 482.8L391.8 482.4L390.6 481.3L388.9 480.7L387.1 480.8L385.3 480.9L384.5 480.2L383.6 478.6L383.2 478L381.8 476.4L381.3 475.8L380 474.3L379.9 473.7L379.6 471.5L379.2 469.3L379.2 467.1L379 464.9L379.1 462.8L379 460.6L378.3 459.8L376.5 459.7L375.3 458.4L374.8 457.7L373 457.6L371.2 457.7L369.5 457.8L367.7 457.8L365.9 457.6L364.2 457.6L362.4 457.3L361.5 456.2L361.4 454.1L362.4 452.8L363 451.9L363 449.7L363 447.5L363 445.3L364.2 443.6L364.5 443.2L364.7 441L364.8 438.8L365.9 437.3L366.5 436.6L366.6 434.5L365.9 433.7L364.2 433.7L362.4 433.9L360.7 434L358.9 434.4L358.9 434.5L358.3 436.6L358.1 438.8L358.6 441L358.3 443.2L357.1 445.3L357.1 445.3L355.4 447.4L355.2 447.5L353.6 449.1L351.8 449.7L350.1 448.9L348.3 447.7L348.1 447.5L346.6 447.3L344.8 446.9L343 446.5L341.3 446.3L339.5 446.3L337.7 446L337.2 445.3L336 443.3L335.9 443.2L335.3 441L335.4 438.8L334.7 436.6L334.2 434.5L334.2 434.5L332.5 433.3L330.7 432.8L330.5 432.3L328.9 430.7L328.5 430.1L328.2 427.9L328.2 425.7L328.9 424.6L329.6 423.6L329.5 421.4L329.6 419.2L329.7 417L330.4 414.9L329.8 412.7L329.8 410.5L329.5 408.3L330.7 406.5L331.2 406.1L331.6 404L331.2 401.8L332.2 399.6L332.5 399.5L334.2 399.2L335.2 399.6L336 400.3L337.7 399.9L338 399.6L339.5 399.2L341.3 399.2L343 399.1L344.3 397.4L344.8 397.1L346.6 397.2L346.8 397.4L348.3 399.4L350.1 399.5L351.3 399.6L351.8 400.1L353.6 401.7L355.4 401.6L357.1 401.6L358.9 401.7L360.5 399.6L359.4 397.4L360.6 395.3L360.7 395.2L362.4 395.1L364.2 395.1L365.9 395L367.7 395L369.5 395L369.7 395.3L371.2 396.9L371.7 397.4L373 399L374.3 397.4L374.8 396.9L376.5 396.9L377 397.4L378.3 398.9L380 399.1L380.5 399.6L380.5 401.8L381.8 403.4L382.4 404L382.4 406.1L382.5 408.3L383.6 409.6L384.3 410.5L384.6 412.7L385.3 413.6L386.5 414.9L387.1 415.5L388.3 417L388.9 417.7L389.6 417L390.6 415.9L391.5 414.9L391.6 412.7L391.8 410.5L391.7 408.3L390.6 406.8L390.2 406.1L390.2 404L390.1 401.8L388.9 399.9L388.7 399.6L388.9 399.1L390.6 398.8L391.4 399.6L392.4 401.8L392.4 401.8L392.4 404L394.1 404.7L395.9 405.5L396.9 406.1L397.7 406.5L399.4 407.3L401.2 406.2L401.9 406.1L403 406.1L403.2 406.1L404.7 406.9L406.5 406.7L408.2 406.6L410 407.2L411.8 406.5L412.1 406.1L413.5 405.3L415 404L415.3 403.6L417 401.8L417.1 401.7L418.8 400.3L420.6 399.8L421.2 399.6L422.3 399L424.1 397.6L424.3 397.4L425.9 395.4L425.9 395.3L427.6 394.2L429.4 394.4L431.2 394.4L432.8 393.1L432.9 392.9L434.1 390.9L434.3 388.7L434.7 386.7L434.8 386.6L436.4 385.4L438.2 384.8L438.6 384.4L438.4 382.2L438.2 381.3L437.9 380L438.2 379.6L439.6 377.8L440 377L440.5 375.7L440.3 373.5L440 373L438.2 372.4L437.6 371.3L437.9 369.1L438.2 368.8L440 368.5L441.2 369.1L441.3 371.3L441.7 371.8L443.5 372.3L445.3 372.3L446.9 371.3L447 371.2L448.8 369.5L450.5 371.1L450.9 371.3L452.3 371.9L453.1 371.3L454.1 370.8L455.8 370.2L457.5 371.3L457.6 371.7L457.7 373.5L459.4 375.2L460.4 375.7L461.1 376.7L461.6 377.8L462 380L462.9 381.2L464.4 382.2L464.6 382.3L465 382.2L466.4 381.5L468.2 381.7L469.9 382L471.7 381.4L473.5 382.2L473.5 382.2L475.2 383.1L477 383.5L478.7 384.1L480.5 383.4L482.3 383.9L483.6 384.4L484 384.6L485.8 385.3L487.6 385.5L489.3 385.2L491.1 385.5L492.8 385.1L494.6 385.9L496.4 385.9L497.6 386.6L498.1 386.8L499.9 386.9L500.9 386.6L501.7 386.2L503.4 386.2L504.5 386.6L505.2 386.8L506.9 387.8L508.7 388L510.5 388.2L512.2 388.1L514 387.5L515.8 386.6L515.8 386.6L517.5 386.1L519.3 385.9L521 385.7L522.3 384.4L522.8 383.9L524.6 382.8L526.1 382.2L526.3 382.1L528.1 381.6L529.9 380.7L531.6 381.3L533.4 381.7L534.8 382.2L535.1 382.3L536.9 383.1L538.7 383.2L540.4 383.5L542.2 383.8L543.6 384.4L544 384.5L545.7 384.6L547.5 384.8L548.2 384.4L549.2 383.6L551 382.7L551.6 382.2L552.8 381.1L553.8 380L554.5 379.7L556.3 379.1L558.1 378.6L559.8 378.4L561.6 377.9L561.7 377.8L563.3 376.6L565.1 375.7L565.5 375.7L566.9 375.5L568.6 374L569.3 373.5L570.4 372.5L571.9 371.3L572.2 371.2L573.9 370.9L574.4 371.3L575.7 373.3L576.7 371.3L576.6 369.1L577.4 368.6L579.2 369.1L581 369L582.7 368.1L583.8 367L584.5 366.5L586 364.8L586.3 364.5L588 363.7L589.8 363ZM596.8 368.1L595.5 369.1L596.8 369.4L597.2 369.1ZM378.3 426.8L377.2 427.9L376.5 428.9L375.7 430.1L376.5 431.1L378.3 431.1L379.1 430.1L380 429L381.8 429L383.6 428.8L385.3 429.3L385.9 430.1L387.1 431.5L388.9 431.7L390.6 432.1L390.8 432.3L392.4 434.1L394.1 434.4L394.6 434.5L395.9 436.6L395.9 436.6L397.7 437L399.4 438.3L399.9 438.8L401.2 440.1L403 440.1L404.7 440L406.5 440.2L408.2 440.3L410 440.2L411 438.8L410 437.6L409.2 436.6L408.2 435.5L406.5 435L405.9 434.5L404.7 433L403 432.7L402.6 432.3L401.2 430.7L399.4 430.6L397.7 430.4L397.5 430.1L395.9 428.4L394.1 428L394 427.9L392.4 426.4L390.6 426.2L388.9 426.3L387.1 426.6L385.3 426.8L383.6 427L381.8 426.8L380 426.8ZM415.3 439.8L414.2 441L415.3 442.9L415.4 443.2L415.9 445.3L415.3 445.5L413.9 447.5L415.3 449L417.1 448.7L418.8 448.8L420.6 449.1L422.3 449.2L423.9 447.5L424.1 447.3L425.9 447.1L427.6 446.9L429.4 447L430 447.5L431.2 448.7L432.1 447.5L432 445.3L431.2 444.1L430.5 443.2L429.4 441.8L427.6 441.8L425.9 441.4L425.5 441L424.1 439.6L422.3 439.4L420.6 439.4L418.8 439.4L417.1 439.5ZM445.3 499.3L444.6 499.8L445.3 500.7L447 499.9L447.1 499.8L447 499.4ZM538.7 475.5L538.3 475.8L536.9 477.3L536 478L535.1 478.6L533.4 478.1L531.6 479L530.3 480.2L529.9 481.3L529.5 482.4L528.1 483.4L526.3 484.5L526.3 484.5L526.3 484.6L527.6 486.7L528.1 487.8L529.9 488.6L531.6 487.8L532.9 488.9L533.4 489.8L533.9 491.1L535.1 492.6L536.9 493.2L537.3 493.2L538.7 493.5L540.4 494.3L542.2 495.2L544 495L545.2 495.4L545.7 495.5L545.9 495.4L547.1 493.2L547.5 492.8L548 493.2L549.2 494.1L550.1 495.4L551 496.1L552.8 497L554.5 497.4L554.9 497.6L556.3 498.5L558.1 499L559.8 499.3L561 499.8L561.6 500L562.6 499.8L563.3 499.6L565.1 498.4L566.2 497.6L566.9 497.1L567.8 497.6L568.6 498.2L570.1 499.8L570.4 500L571.6 499.8L572.2 499.4L573.6 497.6L573.9 495.4L573.9 495L574 493.2L573.9 493L572.2 491.6L571 491.1L570.4 489.7L568.6 489.1L567.8 488.9L568.6 488.6L569.2 486.7L568.6 485.6L566.9 486L566.7 484.5L565.1 483L564.3 482.4L563.3 481.6L561.6 482.3L559.8 481L558.1 480.9L556.3 482L555.8 482.4L554.5 482.9L552.8 482.8L551 482.9L549.6 482.4L549.2 482.1L548 480.2L547.5 479L546.8 478L545.7 476.4L544 476.7L542.9 478L542.2 478.9L541.5 478L541.1 475.8L540.4 474.7ZM582.7 371.2L582.3 371.3L582.7 371.4L582.9 371.3ZM182.4 377.8L182.6 377.6L183.1 377.8L184.4 378.4L186.2 379.1L187.2 380L187.6 382.2L186.2 383.5L184.4 383.4L182.6 383.6L180.9 384L179.1 382.5L179.1 382.2L179.1 381.4L179.4 380L180.9 378.7ZM308.7 377.8L309.5 377.4L309.9 377.8L311.3 378.9L313.1 379.6L314.8 379.5L316.6 379.9L318.4 378.7L319 380L320.1 380.5L321.9 380.9L323.6 381.7L325.2 382.2L325.4 382.3L325.8 382.2L327.2 381.9L327.4 382.2L327.4 384.4L327.2 384.8L326.6 386.6L326 388.7L325.9 390.9L325.4 392.6L325.2 393.1L323.9 395.3L323.6 395.7L321.9 395.3L321.9 395.2L320.1 394.1L318.4 393.4L316.6 393.7L314.8 394.3L313.1 394.2L311.3 393.3L311.2 393.1L311.3 392.9L313.1 392.6L314.8 392.2L315.6 390.9L315 388.7L314.8 388L313.1 387.2L311.3 387.8L310 386.6L309.5 385.9L307.9 384.4L307.8 383.8L307.3 382.2L307.8 381.4L308.1 380ZM265.4 380L265.5 380L267.2 380L269 379.8L270.8 379.1L272.5 378.9L273.3 380L274.3 381.4L275 382.2L276.1 383.9L276.2 384.4L277.5 386.6L277.8 387.8L278.9 388.7L277.8 390.3L277.7 390.9L277.8 393L277.9 393.1L279.6 393.6L281.3 393.1L281.4 393.1L283.1 392.3L284.9 392.7L285.8 393.1L286.6 393.9L287.4 395.3L288.4 396L289.6 397.4L290.2 398.2L291.9 399.1L293.7 399.5L293.9 399.6L294.1 401.8L295.3 404L295.4 404.4L296.4 406.1L296.4 408.3L296.3 410.5L297.1 412.7L297.2 412.9L298.3 414.9L299 415.6L300.7 416.1L302.5 417L302.5 417L303.4 419.2L303.3 421.4L302.5 423.1L301.9 423.6L300.7 425.6L300.7 425.7L300.7 426L301.1 427.9L301.1 430.1L300.7 430.6L299 431.3L297.7 432.3L297.2 432.9L296.2 434.5L295.4 435.4L294.4 436.6L293.7 437.5L291.9 436.8L290.3 438.8L290.2 439L288.4 440.8L286.6 440.6L286.4 441L286.6 441.9L287.1 443.2L288 445.3L286.6 445.7L286.1 445.3L284.9 443.4L284.3 443.2L283.1 442.9L281.3 442.6L280.9 443.2L279.6 445.3L279.4 445.3L279.6 445.4L281.3 447.1L281.9 447.5L281.3 448.1L279.7 449.7L279.6 450L279.5 449.7L278.1 447.5L277.8 446.8L276.7 445.3L276.1 445.1L275 445.3L274.3 445.5L274 445.3L272.5 444.7L270.8 444L269 444.2L267.9 445.3L267.2 446.1L266.8 445.3L265.5 444.1L263.7 443.9L262.7 445.3L262.7 447.5L262.4 449.7L262 450L260.7 451.9L260.9 454.1L262 455.1L263.7 455.2L265.5 454.8L267.2 456.2L267.3 456.2L268.4 458.4L269 460L269.4 460.6L269.6 462.8L270.8 464.2L270.9 464.9L270.8 465.6L269 466.4L268.5 467.1L268.6 469.3L267.8 471.5L267.2 473.2L266.7 473.7L267.2 475L267.4 475.8L267.2 475.9L266.3 475.8L265.5 475.5L265.4 475.8L265.4 478L265.5 479.7L265.5 480.2L265.5 480.6L265.3 482.4L263.7 484.4L263.6 484.5L262 486.1L260.6 484.5L260.2 484.2L258.4 483.4L256.7 483L255.8 482.4L254.9 482L253.1 481.6L251.4 481.9L249.6 481.3L247.9 481.3L246.1 481.4L244.3 481.9L243.9 482.4L242.6 483.6L240.8 484.3L239 484L237.3 484.4L237.2 484.5L236.1 486.7L235.5 487.8L235.2 488.9L235.5 489.2L237.3 490.6L237.7 491.1L239 491.9L240.8 492.7L242.6 493L244.3 492.7L244.8 493.2L246.1 494.2L247.9 493.8L248.4 493.2L249.6 492.3L251.4 492.9L251.9 493.2L253.1 494L254.9 493.9L256.7 493.4L257.5 493.2L258.4 493.1L258.7 493.2L260.2 493.7L261.1 493.2L262 492.3L263.7 491.5L264 491.1L265.1 488.9L265.5 488.8L265.6 488.9L267.2 490.4L268.9 491.1L269 491.1L270.8 492.1L271.9 491.1L272.5 490.5L274.3 491.1L274.3 491.1L276.1 492.3L277.8 492.9L279.6 492.5L281.1 493.2L281.3 493.6L283.1 493.5L284.9 494L286.6 495.3L288.4 495.3L289 495.4L288.9 497.6L288.8 499.8L290.2 500.2L291.5 502L291.9 502.5L293.7 503.8L293.9 504.1L295.4 505.6L296.7 506.3L297.2 506.7L297.7 506.3L298.5 504.1L299 502.4L300.6 502L300.7 501.9L300.7 502L302.5 504.1L301.6 506.3L302.5 507.4L304.1 508.5L304.3 508.6L304.4 508.5L306 507.8L307.7 508.5L307.8 508.5L309.5 509.8L311.3 510.4L311.7 510.7L313.1 511.5L314.8 511.2L316.4 512.8L316.6 513L318.4 514.9L318.5 515L320.1 515.6L321.9 516.9L322.7 517.2L323.6 517.4L325.4 517.9L327.2 518L328.9 517.5L330.7 517.2L330.8 517.2L332.5 517.1L334.2 517L336 517.1L336.5 517.2L337.7 517.4L339.5 517.6L341.3 517.4L343 517.4L343.8 517.2L344.8 516.9L346.6 516.6L348.3 516.8L350.1 516.5L351.8 516.9L352.4 517.2L353.6 517.7L355.4 518.1L356 517.2L357.1 515.2L357.3 515L357.1 514.6L355.4 514.5L353.6 514L352.9 512.8L351.8 510.9L351.6 510.7L350.1 509.2L348.3 508.7L346.6 508.7L344.8 508.6L343 508.8L341.3 508.8L340.3 508.5L339.5 508.2L337.7 508.1L336.7 508.5L336 508.7L334.2 509.1L332.5 509.2L331.2 508.5L330.7 507.8L329.8 506.3L329.4 504.1L330.7 502.2L330.9 502L332.5 501.2L334.2 500.4L336 499.9L337.1 499.8L337.7 499.7L339.5 499.1L340.9 497.6L341.3 497L343 496.8L344.8 496.9L345.8 497.6L346.6 498.5L347.5 499.8L348.3 501.6L350.1 500L351.8 500L352.6 499.8L353.6 499.6L354.6 499.8L355.4 499.9L357.1 500.3L357.7 499.8L358.9 497.9L360.7 499L361.1 499.8L362.2 502L362.4 502.2L364.2 503.6L365.9 504L367.7 503.5L369.5 503.2L371.2 503.6L373 503.2L374.8 503L376.5 503L378.3 503.1L380 503.8L380.3 504.1L381.8 505.9L382.3 506.3L383 508.5L383.4 510.7L382.4 512.8L381.8 513.2L380 513.5L378.3 513.7L377 515L376.5 515.5L374.8 516.1L373 517.1L371.2 515.6L369.5 515.4L367.7 516L365.9 516.1L364.9 517.2L364.2 517.9L362.6 517.2L362.4 517.1L361.9 517.2L360.7 517.4L358.9 518.1L358.2 519.4L358.9 520.7L359.4 521.6L360.7 522.3L362.4 523.4L362.9 523.7L364.2 525.2L365.9 524.9L367.2 525.9L367.7 526.5L369.3 528.1L369.5 528.2L371.2 529.8L371.6 530.3L373 531.8L374.4 532.4L374.8 532.6L376.5 534.1L377.4 534.6L378.3 535.7L378.9 536.8L380 538.5L381.4 539L381.1 541.2L381.8 541.6L383.3 543.3L383.3 545.5L383.2 547.7L382 549.9L381.8 550.1L380 550.8L379.6 552L378.3 553.6L376.5 554.1L374.8 553.5L373 553.5L372.2 554.2L371.2 555.1L370.4 556.4L371.1 558.6L369.5 560.8L369.5 560.8L367.7 561.3L365.9 562.7L365.6 562.9L365.9 563.4L366.8 565.1L366.3 567.3L365.9 567.6L364.9 569.5L364.2 570.9L363.6 571.6L362.4 572.7L361.7 573.8L361 576L360.7 577.4L360.2 578.2L360.7 579.1L360.9 580.3L362.2 582.5L362.4 583.5L362.7 584.7L362.4 585.3L361.8 586.9L360.7 588.8L360.4 589.1L359.7 591.2L359.7 593.4L359 595.6L358.9 595.9L357.1 596.1L355.5 597.8L355.4 598L354.2 599.9L354.7 602.1L353.6 603.2L351.8 602.7L350.4 602.1L350.1 602L349.9 602.1L349.2 604.3L348.8 606.5L348.3 608.6L348.1 608.7L346.6 608.9L346 610.8L344.8 612.5L343 611.4L341.3 611.5L340.2 613L339.5 614.5L337.7 614.2L336.3 613L336 611.3L334.2 611.3L333.5 613L332.5 614.7L332.2 615.2L331 617.4L330.7 618L329 619.5L329.9 621.7L328.9 623.3L328.4 623.9L327.2 625.1L325.4 625L324 626.1L325.4 627.9L325.7 628.3L325.4 629.6L325.1 630.4L323.6 631.3L322.2 632.6L321.9 633.9L321.7 634.8L320.5 637L320.1 637.7L318.6 639.1L318.6 641.3L318.4 641.6L316.7 643.5L316.6 643.7L316.5 643.5L314.8 641.6L313.1 643.5L313.1 643.6L311.3 644.8L309.5 645.2L307.8 644.4L306 644.1L305.4 643.5L304.3 641.7L303.9 641.3L303.4 639.1L302.5 638.9L302.2 639.1L300.7 640.8L299 641.3L298.9 641.3L297.7 643.5L297.2 643.8L295.4 643.9L294.7 643.5L294.1 641.3L293.7 640.8L292.7 641.3L291.9 641.6L290.2 642.1L289.4 641.3L288.4 640.2L286.6 640.4L285.8 641.3L284.9 641.8L283.1 641.7L281.9 641.3L281.3 641.1L279.6 640.1L278.7 639.1L278.4 637L278 634.8L277.8 633.3L277.7 632.6L276.9 630.4L276.1 629.6L274.3 629.3L272.5 629.7L270.8 629.9L269 629.3L267.2 630.2L266.9 630.4L265.5 631.1L263.7 630.9L262 630.8L260.2 631.6L259.3 632.6L259.5 634.8L260.2 635.5L260.6 637L260.2 637.8L258.4 637.6L257.3 637L256.9 634.8L256.7 634.7L255.1 634.8L254.9 634.8L253.1 635.4L251.4 635.6L250 634.8L249.6 634.6L247.9 633.5L246.9 634.8L246.1 635.7L245 637L244.3 637.3L243.5 637L242.6 636.4L240.8 636.9L240.6 637L239.7 639.1L239 640.2L237.5 639.1L237.3 639L237.1 639.1L235.5 640.2L233.8 639.4L232.6 639.1L232 639L231.5 639.1L230.2 639.4L228.9 639.1L228.5 639.1L226.7 638.5L224.9 638.4L223.2 638.1L221.4 637.2L219.7 637.3L218.5 637L217.9 636.8L216.4 637L216.1 637L214.4 637.1L214.2 637L212.8 634.8L212.6 634.5L210.8 632.9L209.1 632.8L207.3 633.1L205.6 634.1L204.8 632.6L203.8 631.9L202 632.1L200.3 632L198.5 632.4L198 632.6L196.7 633.1L195 632.8L194.7 632.6L193.2 631.8L191.5 632.5L189.7 632.3L187.9 632.1L186.2 632.1L184.6 632.6L184.4 632.7L182.6 633.9L180.9 634.5L180.5 634.8L179.1 635.4L179.1 634.8L179.1 632.6L179.1 630.4L179.1 628.3L179.1 626.1L179.1 623.9L179.1 621.7L179.1 619.5L179.1 617.4L179.1 615.2L179.1 613L179.1 610.8L179.1 608.7L179.1 606.5L179.1 604.3L179.1 602.1L179.1 599.9L179.1 597.8L179.1 595.6L179.1 593.4L179.1 591.2L179.1 589.1L179.1 586.9L179.1 584.7L179.1 582.5L179.1 580.3L179.1 578.2L179.1 576L179.1 573.8L179.1 571.6L179.1 569.5L179.1 567.3L179.1 565.1L179.1 562.9L179.1 560.8L179.1 558.6L179.1 556.4L179.1 554.2L179.1 552L179.1 549.9L179.1 547.7L179.1 545.5L179.1 543.3L179.1 541.2L179.1 539L179.1 536.8L179.1 534.6L179.1 532.4L179.1 530.3L179.1 528.1L179.1 525.9L179.1 523.7L179.1 521.6L179.1 519.4L179.1 517.2L179.1 515L179.1 512.8L179.1 510.7L179.1 508.5L179.1 506.3L179.1 504.1L179.1 502L179.1 499.8L179.1 497.6L179.1 495.4L179.1 493.3L180.9 493.7L182.6 494.1L184.4 494L186.2 493.8L187.6 493.2L187.9 493L189.7 492.4L191.5 492.2L193.2 491.1L193.7 491.1L195 490.8L195.4 491.1L196.7 491.7L198.5 491.1L198.8 491.1L200.3 490.7L200.9 491.1L202 491.6L202.8 491.1L203.8 489.9L204.4 488.9L204.8 486.7L204.2 484.5L203.8 484L202 482.9L201.5 482.4L200.3 480.9L200 480.2L198.5 478L198.3 478L196.7 477.9L195 477.9L193.2 476.8L191.5 478L191.4 478L189.7 479L187.9 479.3L186.8 478L186.2 477.7L184.4 477.8L183.8 478L182.6 478.5L180.9 478.1L180.3 478L179.1 477.9L179.1 475.8L179.1 473.7L179.1 471.5L179.1 469.3L179.1 467.1L179.1 464.9L179.1 462.8L179.1 460.6L179.1 458.4L179.1 456.2L179.1 454.1L179.1 451.9L179.1 449.7L179.1 447.5L179.1 445.3L179.1 443.2L179.1 441L179.1 438.8L179.1 436.6L179.1 434.5L179.1 432.3L179.1 430.1L179.1 427.9L179.1 425.7L179.1 423.6L179.1 421.4L179.1 420.6L179.4 421.4L180.9 422.7L182.6 423L184.4 423.1L186.2 423L187.9 423.6L187.8 425.7L187.4 427.9L187.6 430.1L187.9 431.6L188.5 432.3L189.7 433.8L190 434.5L191.5 435.9L193.2 436.3L195 436.3L195.5 436.6L196.7 437.7L198.5 438.8L198.7 438.8L200.3 439L201 438.8L202 438.6L203.8 438.1L205.6 437.2L206.6 436.6L207.3 435L207.9 434.5L209.1 432.7L209.4 432.3L210.8 430.8L211.4 430.1L212.6 429L214.4 427.9L214.4 427.9L214.4 427.9L214 425.7L213.8 423.6L214.1 421.4L214.4 421L214.5 421.4L214.8 423.6L215.3 425.7L216.1 426.4L217.9 427.2L219.3 425.7L219.7 425.3L220.7 425.7L220.6 427.9L221.4 428.9L223.2 428.9L224.9 427.9L224.9 427.9L225 427.9L226.7 428L228.5 428.5L229.7 430.1L230.2 430.9L232 431.6L233.8 431.3L235.5 431.8L235.9 430.1L235.5 429.5L233.9 427.9L233.8 427.3L232.7 425.7L233.2 423.6L232 422.6L231.1 421.4L231.8 419.2L232 419L233.4 419.2L233.8 419.4L234.5 421.4L234 423.6L235.5 424.9L237.3 424L237.8 423.6L239 421.9L239.3 421.4L240.4 419.2L240.8 418.7L241.6 417L240.8 416.5L239.3 414.9L239 413.9L238.7 412.7L239 410.5L237.7 408.3L237.3 406.1L238 404L237.9 401.8L239 399.8L239.3 399.6L240.8 398.2L241.2 397.4L241.5 395.3L242.6 393.9L243.5 393.1L244.3 391L244.4 390.9L246.1 389.6L247.4 388.7L247.9 388.5L249.6 388.6L251.4 388.5L253.1 387.5L254.6 386.6L254.9 386.1L256.7 385.4L258.4 385.3L259.8 384.4L260.2 384.2L260.8 384.4L261.7 386.6L262 386.7L263.6 388.7L263.5 390.9L263.7 391.2L265.4 393.1L265.5 393.3L266 393.1L267.2 391.6L268.2 390.9L267.2 389.9L266.1 388.7L265.5 387.6L265.2 386.6L265.5 385.7L266.3 384.4L265.8 382.2L265.5 380.5ZM336 608.4L335.5 608.7L336 610.3L337.7 609.7L338 608.7L337.7 608.5ZM210.8 433.4L209.8 434.5L210.8 435.4L211.7 434.5ZM242.6 409.6L241.9 410.5L242.6 411.4L243 410.5ZM326.7 406.1L327.2 404.3L328.2 406.1L327.2 406.6ZM215.7 419.2L216.1 419L216.3 419.2L216.1 419.4ZM226.3 421.4L226.7 421.1L228.3 421.4L226.7 421.7ZM324.5 458.4L325.4 457.8L327.2 458.1L328.9 457.9L330.7 457.8L332.5 457.8L333 458.4L334.2 459.7L335.3 458.4L336 457.7L337.7 457.4L339.5 457.4L341.3 457.3L342.2 458.4L343 459.5L344.8 459.6L345.7 460.6L346.6 461.7L347.4 462.8L348.3 464L349.1 464.9L350.1 465.9L351.8 466.3L352.5 467.1L353.6 468.8L355.2 469.3L355.4 470.9L355.5 471.5L356.6 473.7L357.1 475L357.6 475.8L358.9 477.1L360.2 478L359.8 480.2L358.9 480.8L357.1 481.2L355.4 482.1L355 482.4L353.6 483.1L351.8 483.8L350.7 482.4L350.1 482L348.3 480.4L348.1 480.2L346.6 478.2L344.8 478L344.8 478L343 477.1L341.3 476.5L339.5 476L337.7 475.9L337.7 475.8L337.3 473.7L336.2 471.5L336 471.2L334.2 470.4L333.1 469.3L332.5 468.1L332.1 467.1L330.7 466L328.9 465.6L327.6 464.9L327.2 464.6L325.4 464.4L324 462.8L323.6 461.8L323.2 460.6L323.6 459.3ZM545.6 484.5L545.7 484.3L545.8 484.5L545.7 484.7ZM358.5 495.4L358.9 495.1L359.3 495.4L358.9 497.1ZM386.9 547.7L387.1 547.4L387.4 547.7L387.1 548.1ZM503 547.7L503.4 546.7L503.8 547.7L503.4 547.9ZM391.2 549.9L392.4 549.2L394.1 549.1L395.2 549.9L395.5 552L395.9 554.2L395.9 554.3L397.2 556.4L397.5 558.6L395.9 560.7L395.8 560.8L395.9 561.4L396.1 562.9L397.5 565.1L397.7 565.3L398.7 567.3L397.7 568L396 567.3L395.9 567.2L394.1 565.5L392.4 566.9L390.6 566.6L388.9 565.8L387.1 565.8L385.3 565.2L385.2 565.1L385.3 563.4L385.4 562.9L387.1 562.2L388.9 562.5L390.6 561.9L391.5 560.8L392.4 559.7L393.3 558.6L392.4 557.4L391.6 556.4L390.6 554.6L390.4 554.2L388.9 552.8L387.9 552L388.9 549.9L390.6 550.2ZM372.9 565.1L373 565L374.8 565.1L374.8 565.1L374.8 565.1L373 565.2ZM513.3 567.3L514 566.2L514.4 567.3L514 568.1ZM399.2 569.5L399.4 568.7L400 569.5L401.2 571.5L401.4 571.6L403 572.4L404.2 573.8L404.7 574.3L405.4 576L406.2 578.2L406.5 578.5L408 580.3L408.2 581L409 582.5L410 583.5L411.8 584.4L412.6 584.7L413.5 585.1L415 586.9L415.3 587.1L417.1 588.3L418.8 588.5L420.6 588.7L421.8 589.1L422.3 589.3L424.1 590.8L424.7 591.2L425.9 592.7L426.5 593.4L426.6 595.6L427.5 597.8L427.6 597.9L429.4 598.6L431.2 598.5L432.9 599.4L433.9 599.9L434.7 601.1L435.1 602.1L435.4 604.3L434.8 606.5L436.4 607.7L438.2 607.6L438.6 608.7L438.4 610.8L440 612.2L440.7 613L441.6 615.2L440.3 617.4L440.1 619.5L440 620.4L439.4 621.7L438.2 622.2L436.4 622L436 621.7L436.4 621L437.6 619.5L436.4 619L435.1 617.4L434.7 616.6L433.9 615.2L432.9 613.9L431.2 613.6L430.1 613L429.4 612.6L427.6 611.2L427.6 610.8L426.3 608.7L425.9 607.8L425.8 606.5L424.1 604.3L424.1 604.3L422.3 602.2L422.3 602.1L420.6 600.3L418.8 600.1L418.7 599.9L417.1 598.4L415.3 598.3L414.8 597.8L413.5 596.4L411.8 596L411.4 595.6L410 593.9L409.4 593.4L408.2 592.1L407.6 591.2L406.5 589.2L406.4 589.1L405 586.9L404.7 586.5L404.4 584.7L404.3 582.5L403 580.6L402.8 580.3L402.7 578.2L401.2 576.2L401.1 576L401 573.8L399.4 571.9L399.2 571.6ZM507.9 571.6L508.7 571.1L509.2 571.6L508.7 572.3ZM428.7 619.5L429.4 618.3L431.2 618.2L432.3 619.5L432.9 620.9L433.3 621.7L432.9 622L431.2 622.1L429.6 621.7L429.4 621.6Z"/>
<path fill="#ffc03c" d="M588.1 373.5L589.8 372.6L590.7 373.5L590.5 375.7L591.4 377.8L591.5 378.1L593.3 378.2L593.5 377.8L593.7 375.7L594.1 373.5L595.1 372.7L596.8 372.7L598.6 373.2L599.4 373.5L600.4 374L602.1 375.4L602.5 375.7L603.9 377.3L605.6 377.8L605.6 377.9L605.7 377.8L607.4 377.3L608 377.8L609.2 378.8L610.8 380L610.9 380.1L612.7 380.3L612.7 382.2L612.7 384.4L612.7 386.6L612.7 388.7L612.7 390.9L612.7 393.1L612.7 395.3L612.7 397.4L612.7 399.6L612.7 401.8L612.7 404L612.7 406.1L612.7 408.3L612.7 410.5L612.7 412.7L612.7 414.9L612.7 417L612.7 419.2L612.7 421.4L612.7 423.6L612.7 425.7L612.7 427.9L612.7 430.1L612.7 432.3L612.7 434.5L612.7 436.6L612.7 438.8L612.7 441L612.7 443.2L612.7 445.3L612.7 447.5L612.7 449.7L612.7 451.9L612.7 454.1L612.7 456.2L612.7 458.4L612.7 460.6L612.7 462.8L612.7 464.9L612.7 467.1L612.7 469.3L612.7 471.5L612.7 473.7L612.7 475.8L612.7 478L612.7 480.2L612.7 482.4L612.7 484.5L612.7 486.7L612.7 488.9L612.7 491.1L612.7 492.7L610.9 492.6L609.2 492.2L607.4 491.9L605.6 492L603.9 491.6L602.1 491.7L600.4 493.1L599.7 493.2L598.6 493.5L596.8 493.9L595.1 493.7L593.3 493.3L591.5 494.6L589.9 493.2L589.8 493.2L588 491.4L587.7 491.1L586.3 490.3L584.5 489.1L582.9 488.9L582.7 488.8L582.7 488.9L581 489.6L579.2 489.1L578.9 488.9L577.9 486.7L577.4 486.2L575.7 485.2L575 484.5L573.9 483.8L572.2 482.4L572.1 482.4L570.4 480.2L570.4 480L569.3 478L568.6 477.7L566.9 477.4L565.1 476.1L564.9 475.8L563.3 473.9L562.7 473.7L561.6 471.5L559.8 472.8L558.1 472.9L557.3 471.5L556.3 470.6L554.5 471.5L554.5 471.5L552.8 472.4L552 471.5L551 470.5L549.2 470.2L547.9 469.3L547.5 468.9L545.7 467.9L544 467.7L542.2 468.7L541.5 469.3L540.4 469.9L538.7 471L536.9 471.2L535.1 470.5L534 469.3L533.4 469L531.6 468.4L529.9 468.4L528.1 468.2L526.8 469.3L526.3 470.8L525.6 469.3L524.6 469L522.8 468.4L521 468.9L519.3 469.3L519.3 469.3L519.3 469.6L521 471.3L521.2 471.5L522.8 472.9L523.2 473.7L522.8 475.6L522.7 475.8L522.4 478L522.8 479.5L523 480.2L522.8 480.4L521 481.8L519.6 482.4L519.3 482.7L518 484.5L517.5 485.1L517.2 484.5L515.8 484L514 483.7L512.2 484L510.7 484.5L510.5 484.7L508.7 485.2L507 484.5L506.9 484.5L506.9 484.5L505.2 486.4L504.9 486.7L505.2 487.3L505.8 488.9L506.9 489.6L508.7 489L509.6 488.9L510.5 488.6L512.2 488.9L512.2 488.9L513.7 491.1L514 491.2L514.8 491.1L515.8 490.5L517.5 490L519.3 490.5L521 489.1L522.6 491.1L522.8 491.2L524.6 492.2L526.3 492.8L527.3 493.2L528.1 494.3L529.9 494.2L531.1 495.4L531.6 495.8L533.4 496.4L535.1 497.6L535.1 497.7L536.9 498.8L538.7 499.3L540.4 499.3L541.6 499.8L542.2 500L542.9 499.8L544 499.4L545.7 499.2L546.7 499.8L547.5 500.3L549.2 500.1L551 500.7L552.8 500.8L554.5 501.1L556.3 501.2L558.1 501.5L559 502L559.8 503.2L561.1 504.1L561.6 504.3L563.3 504.2L564 504.1L565.1 503.8L566.9 503.7L568.6 503.8L570.4 504L572.2 503.5L573.9 503.2L575.7 502.7L576.9 502L577.4 501.5L578 502L579.2 503.5L579.7 504.1L581 504.6L582.7 504.7L584.5 505.4L586.3 506.1L586.6 506.3L588 507.1L589.8 508L590.7 506.3L591 504.1L591.5 503.3L592.6 504.1L593.3 504.6L594.5 506.3L595.1 506.7L596.8 506.7L598 506.3L598.6 505.8L599 506.3L600.4 507.3L602.1 506.7L602.7 506.3L603.9 505.7L605.6 506L607.3 506.3L607.4 506.3L608.1 506.3L609.2 506.3L609.2 506.3L610.9 506.7L612.6 506.3L612.7 506.2L612.7 506.3L612.7 508.5L612.7 510.7L612.7 512.8L612.7 515L612.7 517.2L612.7 519.4L612.7 521.6L612.7 523.7L612.7 525.9L612.7 528.1L612.7 530.3L612.7 532.4L612.7 534.6L612.7 536.8L612.7 539L612.7 541.2L612.7 543.3L612.7 545.5L612.7 547.7L612.7 549.9L612.7 552L612.7 554.2L612.7 556.4L612.7 558.6L612.7 560.8L612.7 562.9L612.7 565.1L612.7 567.3L612.7 569.5L612.7 571.6L612.7 573.8L612.7 576L612.7 578.2L612.7 580.3L612.7 582.5L612.7 584.7L612.7 586.9L612.7 589.1L612.7 591.2L612.7 593.4L612.7 595.6L612.7 597.8L612.7 599.9L612.7 602.1L612.7 604.3L612.7 606.5L612.7 608.7L612.7 610.8L612.7 613L612.7 615.2L612.7 617.4L612.7 619.5L612.7 621.7L612.7 623.9L612.7 626.1L612.7 628.3L612.7 630.4L612.7 632.3L610.9 631.5L609.2 632.4L608.7 632.6L607.4 633.4L605.6 633L603.9 633.1L602.5 632.6L602.1 632.4L600.4 631.1L598.6 631.3L596.8 630.8L596 630.4L595.1 629.8L594.4 630.4L593.3 631.6L592.7 632.6L593.3 634.8L591.9 637L591.5 637.3L589.9 639.1L589.8 639.3L588.9 639.1L588 638.8L586.8 637L586.3 636L585.6 634.8L584.5 632.6L584.5 632.1L584.2 630.4L584.5 630.3L585.8 628.3L586.3 627.7L587.2 626.1L586.6 623.9L586.3 623.1L584.9 621.7L584.5 621.2L583.9 621.7L582.7 622.2L582.3 621.7L581 619.8L580.6 619.5L579.2 618.5L577.8 617.4L577.4 617.2L575.7 616.9L573.9 615.9L572.2 615.4L570.4 616.1L568.6 616.4L567.8 617.4L567.5 619.5L566.9 620.3L565.1 621.4L563.3 621.3L562.6 621.7L561.6 622.4L559.8 622.1L559.6 621.7L558.1 619.9L556.3 619.9L554.5 620.6L552.8 619.7L551 619.6L550.4 619.5L549.2 619.1L547.8 617.4L547.5 616.6L546.4 615.2L545.7 615L544 613.4L543.8 613L542.9 610.8L542.2 609.9L541.5 608.7L541.4 606.5L541.4 604.3L541.4 602.1L540.7 599.9L540.4 599.5L539.5 597.8L539.7 595.6L539 593.4L539.8 591.2L540.4 590.1L540.9 589.1L540.5 586.9L540.4 586.7L539 584.7L538.7 584.1L537.9 582.5L538.7 581.9L539.6 580.3L540.4 579.6L541.4 578.2L542.2 577.2L543.1 576L544 574.9L544.7 573.8L545.7 572.6L546.5 571.6L547.5 570.3L548.1 569.5L548.2 567.3L549.2 565.8L549.8 565.1L549.7 562.9L549.6 560.8L549.6 558.6L549.4 556.4L549.2 555.5L547.5 554.2L547.5 553.7L547.4 554.2L545.7 555.4L544 555.5L543.3 556.4L542.2 557.3L540.4 557.8L538.7 556.4L538.7 556.1L537.7 554.2L536.9 554L535.1 553.9L534.8 554.2L533.4 555L531.6 556.2L531.2 556.4L529.9 557L528.4 556.4L528.1 556.2L526.3 554.9L525.8 554.2L524.9 552L524.6 551.6L523.5 549.9L523.8 547.7L522.9 545.5L522.8 545.3L522.7 545.5L521 546.1L519.8 545.5L519.3 545.3L517.5 543.5L517.4 543.3L516 541.2L515.8 540.8L514.6 539L514 537.4L513 536.8L512.2 536.5L510.5 536.6L509.6 536.8L508.7 536.9L506.9 538.5L505.2 538.6L503.7 536.8L503.4 536.5L501.7 535.2L501.1 534.6L499.9 533.2L498.3 532.4L498.1 532.4L496.4 531.3L495.6 530.3L494.6 530.1L492.8 528.5L491.9 528.1L491.1 527.7L489.3 527.8L488.5 528.1L487.6 529L486.7 530.3L487.1 532.4L487.5 534.6L485.8 535.6L484 536.3L482.6 534.6L482.3 534.1L481 532.4L480.5 531.2L480 530.3L478.7 528.8L477.5 530.3L477.3 532.4L477 532.7L475.2 533.5L474.3 532.4L474.5 530.3L474.9 528.1L473.5 526.5L471.7 527.2L469.9 526.5L468.2 526.4L467.4 525.9L466.4 525.3L464.6 524.8L462.9 524.5L461.9 523.7L461.1 522.8L460.5 521.6L460 519.4L459.4 518.6L457.6 517.9L455.8 518L454.1 517.4L453.7 517.2L452.3 516.1L450.5 515.7L449.8 515L450.5 512.9L450.6 512.8L451.7 510.7L451.5 508.5L450.5 506.8L450.1 506.3L449.4 504.1L449.8 502L450.5 501L451.5 499.8L452.1 497.6L452.1 495.4L452.3 494.9L452.9 495.4L454.1 495.9L455.8 496.3L456.6 495.4L456.9 493.2L457.6 492.5L459.4 491.2L459.5 491.1L459.4 491L458.6 488.9L458.1 486.7L457.6 486L456.6 484.5L457.6 483.4L458.5 482.4L458.5 480.2L457.6 479.2L456.5 480.2L455.8 481.1L454.8 482.4L454.1 483.3L452.9 482.4L452.3 481.8L450.5 481.4L448.8 481.7L447 481.7L446.3 482.4L445.3 483.2L444.5 482.4L445.1 480.2L444.4 478L443.5 477.3L441.7 477.8L441.5 478L440 479.1L438.8 480.2L438.2 480.4L436.4 481L434.7 480.8L434.2 480.2L432.9 478.7L432.3 478L431.2 477L429.4 477.1L427.6 477.2L426.2 475.8L425.9 475.5L425.6 475.8L425.3 478L424.1 479.4L422.3 479.4L420.6 479.2L419.5 478L420.6 476.5L421 475.8L420.6 475.3L418.8 475.1L418.1 475.8L417.1 477L415.3 477.1L413.5 477.2L411.8 477.3L411.1 478L410 479.4L409.2 480.2L408.2 481.2L406.5 482.4L406.5 482.5L406.2 482.4L404.7 481.7L403 481.7L401.2 481.8L399.4 481.5L397.7 481.3L395.9 481L394.1 480.9L392.4 480.4L392.2 480.2L390.8 478L390.6 477.7L389.5 475.8L388.9 474.5L388.2 473.7L387.1 472.7L385.9 471.5L385.3 471L383.6 471L381.8 471.2L380 470.8L379.8 469.3L379.7 467.1L379.6 464.9L379.7 462.8L379.6 460.6L378.3 459.1L376.5 459L376 458.4L374.8 457L373 456.9L371.2 457L369.5 457.1L367.7 457.1L365.9 456.8L364.2 456.7L362.4 456.3L362.3 456.2L362.2 454.1L362.4 453.8L363.6 451.9L363.6 449.7L363.6 447.5L363.5 445.3L364.2 444.4L365.1 443.2L365.2 441L365.3 438.8L365.9 438L367 436.6L367.1 434.5L365.9 433.1L364.2 433.1L362.4 433.2L360.7 433.4L358.9 433.7L358.3 434.5L357.1 436.3L356.4 436.6L355.9 438.8L355.9 441L355.6 443.2L355.4 443.8L354.8 445.3L353.6 446.9L352.1 447.5L351.8 447.6L351.7 447.5L350.1 447.2L348.3 446.9L346.6 446.7L344.8 446.4L343 446.1L341.3 445.8L339.5 445.7L337.9 445.3L337.7 443.6L337.7 443.2L337.7 443L338.5 441L338 438.8L338 436.6L337.7 435.8L337.1 434.5L336.6 432.3L336 431.6L334.2 430.4L332.5 430.4L330.7 430.7L329.9 430.1L328.9 428.6L328.8 427.9L328.9 426.6L329.2 425.7L330.5 423.6L330.6 421.4L330.7 420.4L331.7 419.2L332.3 417L332.5 417L332.5 417L333.5 419.2L334.2 419.4L334.4 419.2L336 417.8L336.5 417L336 415.1L335.9 414.9L336 414.6L337.7 414.3L339.5 413.9L341.3 413.3L343 413L343.6 412.7L344.8 412.1L346.6 412.2L348.2 412.7L348.3 412.8L350.1 414L351.8 413.2L353.6 413L355.4 413.3L357.1 413L358.9 413.5L360.3 414.9L360.7 415.6L362.1 417L362.4 417.2L362.6 417L363.6 414.9L363.4 412.7L363.4 410.5L364.2 409.5L365.4 408.3L364.2 407.2L363.3 406.1L363.9 404L364.2 403.3L365 401.8L365.9 400.9L367 399.6L367.7 397.7L367.8 397.4L369.5 396.6L370.8 397.4L371.2 398.2L373 399.6L374.8 397.9L375.9 397.4L376.5 397.4L376.5 397.4L378.3 399.5L379.4 399.6L379.8 401.8L380 402L381.6 404L381.8 405L381.8 406.1L381.9 408.3L383.6 410.4L383.6 410.5L384 412.7L385.3 414.4L385.8 414.9L387.1 416.3L387.6 417L388.9 418.6L390.5 417L390.6 416.9L392.3 414.9L392.3 412.7L392.4 412.3L393.2 412.7L392.9 414.9L393.2 417L393.6 419.2L393.8 421.4L394 423.6L392.4 424.8L390.6 423.9L388.9 425L388.6 425.7L387.1 426.1L385.3 426.3L383.6 426.4L381.8 426.3L380 426.2L378.3 426.2L376.7 427.9L376.5 428.2L375.3 430.1L376.5 431.6L378.3 431.6L379.6 430.1L380 429.6L381.8 429.5L383.6 429.4L385.3 430L385.4 430.1L387.1 432.1L388.9 432.3L389 432.3L390.6 433.7L391.4 434.5L392.4 435.8L393 436.6L394.1 438.8L394.2 438.8L395.9 439.4L397.7 438.9L399.4 439.5L401.2 440.8L403 440.7L404.7 440.6L406.5 440.7L408.2 440.9L410 441L411.6 438.8L410 436.9L409.8 436.6L408.2 434.8L406.9 434.5L406.5 433.8L405.1 432.3L404.7 431.8L403 430.6L402.3 430.1L402.9 427.9L401.2 426.9L400.7 425.7L400.8 423.6L401.2 423.2L403 422.8L403.6 421.4L404.7 419.6L405.6 419.2L406.5 418.8L406.8 419.2L408.2 421.3L409.1 419.2L410 417.2L410.1 417L410.6 414.9L410.5 412.7L411.3 410.5L411.8 410.4L413.5 408.7L415.3 409.6L416.6 408.3L417.1 407.6L418 406.1L418.8 405.2L420 404L420.6 403.1L422.3 403.8L424.1 401.9L424.2 401.8L425.9 401.1L427.6 400.7L429.4 399.9L430 399.6L431.2 398.1L432.8 397.4L432.9 397.4L434.7 397.4L434.9 397.4L436.4 397.6L438.2 397.6L440 398.7L441.2 397.4L441.7 397.3L443.2 395.3L441.7 393.4L441 393.1L440 391.5L439.4 390.9L440 389.7L440.1 388.7L441.7 387.8L443.2 386.6L443.5 385.5L443.9 384.4L444.3 382.2L445.3 380.9L445.8 380L447 379.1L448.8 379.1L450.5 378.7L451.7 380L452.3 382.2L452.3 382.8L454.1 383.9L454.8 384.4L454.1 386L452.3 385L452 386.6L452.2 388.7L452.3 388.9L452.5 388.7L454.1 386.8L455.8 386.7L457.6 386.8L457.7 386.6L458.2 384.4L459.4 383.6L461.1 383.8L461.6 384.4L462.8 386.6L462.9 386.8L464.6 387.1L466.2 386.6L466.4 386.5L466.8 386.6L468.2 386.8L469.9 387.8L471.7 387.5L473.3 386.6L473.5 386.4L475.2 386.5L475.3 386.6L477 387.8L478.7 387.7L480.5 387.1L482.3 388.2L483.1 388.7L484 389.6L485.8 389.7L487.6 389.4L489.3 389.8L491.1 390.8L491.4 390.9L492.8 391.4L493.3 390.9L494.6 390.1L496.4 389.2L498.1 390.1L499.9 389.9L501.7 389L503.4 389.3L505.2 389.6L506.9 390.7L508.7 390.7L509.8 390.9L510.5 391.1L511.3 390.9L512.2 390.8L514 390.2L515.8 390.1L517.5 389.4L518.5 388.7L519.3 388.2L521 388.5L522.8 387.7L524.3 386.6L524.6 386.3L526.3 385.5L528.1 385.8L529.9 386.4L530.8 386.6L531.6 386.6L533.4 387L534.1 386.6L535.1 386.2L535.8 386.6L536.9 387.3L538.7 386.9L540.4 387.3L542.2 388L544 388L545.7 388L547.5 387.9L549.2 387.1L550.6 386.6L551 386.4L552.7 386.6L552.8 386.6L552.8 386.6L554.5 385.6L555.5 384.4L556.3 383.5L558 382.2L558.1 382.1L559.8 381L561.6 381.4L562.9 382.2L563.3 382.4L565.1 382.9L566.9 383.2L568.6 382.2L568.7 382.2L570.4 380.4L572.2 381.6L572.8 382.2L573.9 382.8L575.7 382.3L576.5 382.2L577.4 381.7L578.2 380L579.2 378.8L581 378.2L582.7 378.2L584.5 378.2L584.9 377.8L586.3 376.9L587.8 375.7L588 373.8ZM397.7 447.4L397.5 447.5L397.7 447.8L399.4 448.1L400.4 447.5L399.4 447.1ZM404.7 426.2L403.2 427.9L404.7 428L404.8 427.9ZM418.8 438.6L418.2 438.8L417.1 438.9L415.3 439.1L413.6 441L413.5 442L411.9 443.2L412.2 445.3L412.3 447.5L413.5 448.8L415.3 449.7L417.1 449.4L418.8 449.5L420 449.7L420.6 450.7L422.3 451.4L424.1 451.1L425.9 450.1L426.4 449.7L427.6 448.6L429.4 448.5L431.2 449.4L432.7 447.5L432.6 445.3L431.2 443.3L431.1 443.2L429.4 441.2L427.6 441.1L427.1 441L425.9 440.1L424.1 438.9L423.4 438.8L422.3 438.2L420.6 438.4ZM448.8 390.8L448.7 390.9L448.4 393.1L448.8 394.5L449 395.3L448.8 396.5L448.4 397.4L447 398.7L445.7 399.6L446.8 401.8L447 402.6L447.9 404L448.8 405.1L450.4 406.1L450.5 406.3L451.4 408.3L452.3 409.1L454.1 408.5L454.5 408.3L455.7 406.1L455.8 406.1L457.6 404.1L457.7 404L458.7 401.8L459.4 400.2L459.8 399.6L459.7 397.4L459.4 396.9L458.5 395.3L457.6 393.7L455.8 394.6L455.3 395.3L454.1 396.2L452.6 395.3L452.3 395L451.1 393.1L450.5 391.6L449.2 390.9ZM492.8 477.4L491.2 478L491.1 478.1L489.6 480.2L491.1 480.5L492.8 480.8L494.2 482.4L494.6 483.2L494.9 482.4L495.6 480.2L494.6 478.4L493.8 478ZM515.8 471.4L515.6 471.5L514.8 473.7L515.8 474.2L517.3 473.7L517.5 472.9L518.4 471.5L517.5 471.3ZM577.4 405.8L576.9 406.1L577.4 406.6L577.6 406.1ZM588 379.3L587.2 380L587.5 382.2L588 383.2L588.9 382.2L588.9 380ZM256.5 388.7L256.7 388.7L258.4 388L260.2 387.6L262 388.2L262.3 388.7L262.6 390.9L263.7 392.3L264.4 393.1L265.1 395.3L265.5 395.8L266.9 397.4L267.2 397.9L268.8 399.6L269 399.9L270.7 401.8L270.8 401.9L272.1 401.8L272.5 401.5L272.7 399.6L272.5 399.4L271.2 397.4L270.8 396.8L269.5 395.3L269.4 393.1L269.8 390.9L270.8 389.3L272.5 389L274 390.9L274.3 391.4L275.3 393.1L275.7 395.3L276.1 395.8L277.4 397.4L277.8 398.6L279.6 398.2L281.3 398L283.1 399L284.9 399.4L286.6 398.8L288.1 399.6L288.4 399.8L289.4 401.8L290.1 404L290.2 404.1L291.9 405.1L292.9 406.1L292.4 408.3L291.9 409.5L291.5 410.5L291.5 412.7L291.9 414.2L292.4 414.9L293.7 415.8L294.7 417L293.7 418.8L293.4 419.2L293.7 420.5L293.8 421.4L293.7 421.9L291.9 422.7L291.7 423.6L291.9 425.7L292 425.7L293.7 426.6L295.4 427.9L295.4 427.9L295.4 427.9L293.7 429L292.1 430.1L291.9 430.2L290.2 430.8L288.8 432.3L288.4 434.1L288.3 434.5L286.6 435.6L285.3 436.6L284.9 436.9L283.1 438.2L281.9 438.8L281.3 439.1L279.6 439.9L278.3 441L277.8 441.3L276.1 441.1L275.6 441L274.7 438.8L274.3 438.4L272.5 438.1L271 438.8L270.8 438.9L269 439.3L267.2 439.7L265.9 438.8L265.5 438.3L263.7 437.6L262 438.4L261.6 438.8L260.2 440.2L258.6 441L258.4 441.1L256.7 443.2L256.7 443.4L256.5 445.3L256.3 447.5L255 449.7L256.5 451.9L254.9 452.8L253.7 451.9L253.1 450.2L252.4 451.9L253.1 454.1L253.1 455.5L253.2 456.2L253.1 456.6L252.5 458.4L251.4 459.2L250.6 460.6L249.6 462.5L249.5 462.8L249.6 462.9L251.4 464.8L252.9 464.9L253.1 465L254.2 467.1L253.5 469.3L253.3 471.5L253.1 471.7L251.4 472.8L249.6 472.2L247.9 472.3L246.1 472.6L245.8 473.7L244.3 475.6L244.2 475.8L242.6 477.6L241.4 478L240.8 478.3L239 478.5L238.2 478L237.3 477.4L235.9 478L235.5 478.1L233.8 478.8L232 478.1L231.9 478L231.4 475.8L230.2 474.6L228.5 475.4L226.7 475.2L224.9 475L223.2 474.8L221.4 474.4L219.8 473.7L219.7 473.6L219.5 473.7L217.9 475.3L217.3 475.8L216.9 478L216.1 479L215.1 480.2L214.4 481.3L212.6 481.7L210.8 480.6L209.1 480.7L208.5 480.2L207.3 479.6L205.6 479.1L203.8 478.3L203.1 478L202 477.3L200.3 476L200 475.8L198.5 475.4L196.7 475.2L195 474L194.3 473.7L193.2 473.1L191.6 473.7L191.5 473.7L189.7 474.5L187.9 474.6L186.2 474.1L184.4 474.6L182.6 474.3L180.9 473.9L179.1 474.4L179.1 473.7L179.1 471.5L179.1 469.3L179.1 467.1L179.1 464.9L179.1 462.8L179.1 460.6L179.1 458.4L179.1 456.2L179.1 454.1L179.1 451.9L179.1 449.7L179.1 447.5L179.1 445.3L179.1 443.2L179.1 441L180.9 441.4L181.5 441L181.8 438.8L182.6 438.4L183.5 438.8L184.4 439.9L185.9 438.8L186.2 438.7L186.2 438.8L187.6 441L187.9 441.3L189.7 442.7L191.5 442.8L193.2 442.1L195 441.7L196.7 442.5L198.5 442.9L200.3 442.8L201.9 443.2L202 443.2L202.2 443.2L203.8 442.7L204.9 441L205.6 440.4L207.3 440.9L207.5 441L208 443.2L209.1 443.9L210.3 443.2L210.8 442.6L212 443.2L212.6 443.3L212.8 443.2L214.4 441.3L214.6 441L215.8 438.8L216.1 438.6L216.4 438.8L217.9 440.9L219.7 441L221.4 440.3L222.7 441L223.2 441.4L224.2 443.2L224.9 445L226.6 445.3L226.7 445.4L228.3 447.5L228.4 449.7L228.5 449.8L230.1 451.9L230.2 452.2L230.9 454.1L232 454.7L233.8 455.6L234.2 456.2L235.5 457.8L235.9 458.4L237.3 459.8L237.8 458.4L237.9 456.2L238.7 454.1L239 452.9L239.4 451.9L240.6 449.7L240.8 449.5L242.6 448.6L244 447.5L243.5 445.3L242.6 444.2L240.8 443.8L240.3 443.2L240.8 441.7L241.1 441L240.8 440.1L240.3 438.8L240.8 438.5L242.6 437.2L243.1 436.6L243.6 434.5L242.6 433.7L240.8 432.4L240.7 432.3L240.8 432.1L241.4 430.1L241.6 427.9L241.6 425.7L242.2 423.6L242.6 422.9L244.3 422.4L245.2 421.4L246.1 420.6L247 419.2L247.5 417L247.9 415L247.9 414.9L248.2 412.7L248.5 410.5L248.6 408.3L248.5 406.1L248.1 404L248.2 401.8L248 399.6L247.9 399.3L247.1 397.4L247.9 396.5L249.6 395.6L249.9 395.3L251 393.1L251.4 392.8L252.7 390.9L253.1 390.6L254.9 389.4ZM247.9 468.9L247.4 469.3L247.9 470.1L248.9 469.3ZM399 410.5L399.4 410.5L400.1 410.5L399.5 412.7L399.4 412.8L397.7 413.7L396.6 412.7L397.7 411ZM294.8 423.6L295.4 423.2L295.7 423.6L295.4 424.4ZM335.9 458.4L336 458.3L337.7 458L339.5 458L341.3 457.9L341.7 458.4L343 460.2L344.8 460.2L345.2 460.6L346.6 462.5L346.8 462.8L348.3 464.8L348.4 464.9L350.1 466.5L351.8 466.9L352 467.1L353.1 469.3L353.2 471.5L353.2 473.7L353.6 475.6L353.7 475.8L353.6 475.9L351.8 476.2L350.1 476L349.9 475.8L348.3 474.6L346.6 474.4L345.6 473.7L344.8 472.7L343.4 471.5L343 470.9L341.3 470.5L339.5 470.1L338.8 469.3L338.7 467.1L338.4 464.9L337.7 464.4L336 464.1L334.2 463.8L332.5 462.8L330.7 463.1L329.7 462.8L329.9 460.6L330.7 460.1L332.5 459.8L334.2 460.4ZM261.6 467.1L262 465L262.6 467.1L262 468ZM566.7 480.2L566.9 479.8L567.1 480.2L566.9 480.3ZM216.3 482.4L217.9 481.2L218.2 482.4L218.5 484.5L217.9 485.4L216.2 484.5ZM448.6 484.5L448.8 484.5L448.9 484.5L448.8 484.6ZM518.8 486.7L519.3 486.1L520.1 486.7L519.3 487ZM210.9 488.9L212.6 487.7L214.4 488L214.9 488.9L216.1 489.8L217.9 489.9L219.7 490.5L221.4 490.9L223.2 490.6L224.6 491.1L224.9 491.2L226.7 492.5L228.5 492.1L230.2 492L231.6 491.1L232 490.9L232.5 491.1L233.8 492.1L234.6 493.2L235.5 494.3L236.7 495.4L237.3 496.1L239 496.4L240.8 496.8L242.6 497.4L243 497.6L244.3 498.5L246.1 498.2L247.9 498.1L249.6 498.1L251.4 498.1L252.5 497.6L253.1 497.4L253.8 497.6L254.9 498.2L256.7 499.4L258.4 498.7L259.7 497.6L260.2 497.2L262 496.6L263.7 496.3L265.5 495.8L266.7 497.6L267.2 498.2L269 498.4L270.3 497.6L270.8 497.2L272.2 495.4L272.5 495.1L273.5 495.4L274.3 496.3L276.1 497.1L277.3 497.6L277.8 497.7L279.6 497.8L281.3 498.2L282.2 497.6L283.1 497.1L283.8 497.6L284.9 499.8L284.9 499.8L284.9 499.9L284.5 502L284.6 504.1L284.9 504.5L285.5 504.1L286.6 503.5L288.4 503.3L289 504.1L288.9 506.3L288.5 508.5L290.2 509.3L291.3 510.7L291.9 511.6L293.7 512.4L294.1 512.8L295.4 513.2L297.2 513.5L299 513.6L300.7 514.5L301.2 515L302.5 515.7L304.3 515.2L304.7 515L306 514L307.8 515L309.5 514.1L311.3 513.7L313.1 514.2L314.5 515L314.8 515.3L316.6 516.6L318.4 517.2L318.7 517.2L320.1 517.4L321.9 518.6L323.6 518.7L325.4 519.3L326.3 519.4L327.2 519.5L327.9 519.4L328.9 519.2L330.7 518.8L332.5 518.8L334.2 518.7L336 518.8L337.7 518.9L339.5 518.9L341.3 518.8L343 519L344.8 518.8L346.6 518.9L347.4 519.4L348.3 520L350.1 521.3L351.8 521.4L353.6 521.4L353.9 521.6L355.4 522.4L357 523.7L357.1 524.2L357.7 525.9L358.9 526.6L360.7 527.3L362.4 528.1L362.4 528.1L364.2 529.6L365.9 529.3L367.2 530.3L367.7 530.5L369.5 531.4L370.3 532.4L371.2 533.6L372.7 534.6L373 534.9L374.4 536.8L374.8 537.2L376 539L376 541.2L375.9 543.3L375.7 545.5L374.8 546.6L373 546.8L371.4 545.5L371.5 543.3L371.2 542.9L370.7 543.3L371.2 545.5L371.2 547.7L369.5 548.9L368.3 549.9L367.7 550.3L365.9 551.5L364.6 552L364.2 554.2L364.2 554.2L364.1 556.4L363.1 558.6L362.9 560.8L362.4 561.4L360.9 562.9L360.9 565.1L360.7 567.1L358.9 567.3L357.1 567.1L355.8 567.3L355.4 567.5L355 567.3L353.6 566.9L351.8 566L351.2 565.1L350.3 562.9L350.1 562.9L350 562.9L349.6 565.1L349.8 567.3L350.1 567.5L351.8 568.3L352.7 569.5L352.9 571.6L353.4 573.8L353.6 574.8L353.9 576L353.6 576.2L352.2 578.2L353.3 580.3L353.6 581.2L354.2 582.5L353.6 583.8L353 584.7L351.8 586.1L351.7 586.9L351.8 587.6L353.2 589.1L353.6 589.4L354.8 591.2L355.4 593.2L355.4 593.4L355.4 593.6L354.5 595.6L353.6 596L351.8 596.2L350.7 595.6L350.1 593.4L350.1 593.4L350.1 593.4L349.5 595.6L350.1 597L350.3 597.8L350.1 597.9L348.3 598.5L346.6 597.9L344.8 597.9L343 599.8L342.3 599.9L341.3 601.1L341 602.1L339.9 604.3L339.5 604.6L338.6 604.3L337.7 602.4L336 602.6L334.2 604.1L332.5 603.6L330.7 604.2L330.6 604.3L329.3 606.5L328.9 607.5L328.4 608.7L328 610.8L328.3 613L328.4 615.2L327.2 615.9L325.6 615.2L325.4 613.6L323.6 614L322.5 615.2L321.9 616.2L321.5 617.4L321.9 618.6L322.2 619.5L321.9 621.2L321.4 621.7L320.1 622L319.5 621.7L318.4 620.8L316.6 620.4L315.9 621.7L314.8 623L314.2 623.9L313.1 624.9L311.7 626.1L312.1 628.3L311.3 628.6L309.5 628.3L309.5 628.3L307.8 627.8L307.5 628.3L307.3 630.4L307.8 631.1L309.5 631.2L311.3 631.6L312.4 630.4L313.1 628.9L314.8 629.5L315.3 630.4L315.3 632.6L314.8 634.2L313.1 634.2L311.8 634.8L312 637L311.3 637.6L309.5 637.5L307.8 637.1L307.6 637L306 636L304.5 634.8L304.3 632.9L304.1 632.6L302.5 632.3L300.7 632.5L299 632.4L298 632.6L297.2 633L296.7 632.6L296 630.4L295.4 629.3L293.7 629.3L292.5 630.4L291.9 630.7L290.2 631.3L288.4 631.2L287.6 630.4L287.1 628.3L286.6 627.2L286 626.1L284.9 624.8L283.9 623.9L283.5 621.7L283.1 621.3L281.3 620.6L279.8 621.7L279.6 621.9L278.1 621.7L277.8 621.7L276.1 621.6L274.3 621.5L273.1 621.7L272.5 621.8L271.3 621.7L270.8 621.7L269 621.2L267.2 620L265.5 620.1L263.7 621.1L262.2 621.7L262 621.9L260.2 623.8L259.3 623.9L258.4 624.1L257.3 623.9L256.7 623.8L255.3 621.7L254.9 620.6L253.1 620.5L251.4 621.4L251.2 621.7L251.4 622.7L252.1 623.9L253.1 626L254.9 625.2L255.6 626.1L254.9 627.9L253.1 626.4L252.9 628.3L251.4 629.8L249.6 629.4L248.4 628.3L247.9 627.6L246.1 627.9L244.3 628.2L244.2 628.3L242.6 629.6L241.1 630.4L240.8 630.9L239 632L237.6 632.6L237.3 632.7L236.7 632.6L235.5 632.3L234.4 632.6L233.8 632.8L232 633.8L230.2 634.3L229.2 634.8L228.5 635.1L227.3 634.8L226.7 634.6L224.9 633.9L223.6 632.6L223.2 632.2L222.3 632.6L221.4 633.1L219.7 633L217.9 633.3L216.1 632.9L215.7 632.6L214.4 631.4L213.7 630.4L212.6 628.7L211.6 628.3L210.8 628L209.1 627.8L207.3 627.2L206 628.3L205.6 628.6L203.8 629.1L202 629.3L200.3 629.1L198.5 628.3L198.5 628.2L196.7 627.7L195 627.7L193.2 627.9L192.4 628.3L191.5 628.8L189.7 628.6L188.9 628.3L187.9 627.5L186.2 628L184.4 627.2L182.6 627.1L181.8 628.3L180.9 629.1L179.5 628.3L179.1 628.1L179.1 626.1L179.1 623.9L179.1 621.7L179.1 619.5L179.1 617.4L179.1 615.2L179.1 613L179.1 610.8L179.1 608.7L179.1 606.5L179.1 604.3L179.1 602.1L179.1 599.9L179.1 597.8L179.1 595.6L179.1 593.4L179.1 591.2L179.1 589.1L179.1 586.9L179.1 584.7L179.1 582.5L179.1 580.3L179.1 578.2L179.1 576L179.1 573.8L179.1 571.6L179.1 569.5L179.1 567.3L179.1 565.1L179.1 562.9L179.1 560.8L179.1 558.6L179.1 556.4L179.1 554.2L179.1 552L179.1 549.9L179.1 547.7L179.1 545.5L179.1 543.3L179.1 541.2L179.1 539L179.1 536.8L179.1 534.6L179.1 532.4L179.1 530.3L179.1 528.1L179.1 525.9L179.1 523.7L179.1 521.6L179.1 519.4L179.1 517.2L179.1 515L179.1 512.8L179.1 510.7L179.1 508.5L179.1 506.3L179.1 504.1L179.1 502L179.1 499.8L179.1 497.6L179.1 495.4L179.1 494.8L180.4 495.4L180.9 496.5L182.6 497L184.4 495.9L185.9 495.4L186.2 495.4L187.9 494.7L189.7 494.2L191.5 494.3L193.2 493.5L195 493.6L196.7 494.2L198.5 494.2L200.3 494.1L202 495.2L203.8 494.5L205.6 493.3L205.6 493.2L207.3 492.1L209 491.1L209.1 491L210.8 488.9ZM316.6 617.2L316.3 617.4L316.6 618L317 617.4ZM336 598.8L335.5 599.9L336 601.8L336.8 599.9ZM358.9 551.7L358.3 552L358.9 552.7L359.5 552ZM450.1 491.1L450.5 490.1L451.2 491.1L450.5 492.4ZM334.1 504.1L334.2 504.1L336 503L337 504.1L336 505.3L334.2 504.2ZM344.1 504.1L344.8 503.5L345 504.1L344.8 504.5ZM354.3 586.9L355.4 586.4L355.6 586.9L355.4 587.6ZM409 591.2L410 589.5L411.8 589.9L413.5 589.3L415.3 591.1L415.9 591.2L417.1 592L417.6 591.2L418.8 590.8L420.5 591.2L420.6 591.3L422.3 593.4L422.3 593.5L423 595.6L423 597.8L422.3 599.3L420.6 598.7L419 597.8L418.8 597.4L418.3 597.8L417.1 597.8L416.2 597.8L415.3 597.5L413.5 595.8L412.8 595.6L411.8 594.3L410.9 593.4L410 592.3ZM428.5 602.1L429.4 601.6L431.2 601.7L431.5 602.1L431.2 602.8L429.4 604.1ZM579 628.3L579.2 627.9L580 628.3L579.2 629.4ZM580.1 630.4L581 629.5L581.6 630.4L581 631Z"/>
<path fill="#ffa000" d="M605.5 384.4L605.6 384.3L605.8 384.4L607.4 385.4L609.2 386.1L610.9 385.9L612.7 386.5L612.7 386.6L612.7 388.7L612.7 390.9L612.7 393.1L612.7 395.3L612.7 397.4L612.7 399.6L612.7 401.8L612.7 404L612.7 406.1L612.7 408.3L612.7 410.5L612.7 412.7L612.7 414.9L612.7 417L612.7 419.2L612.7 421.4L612.7 423.6L612.7 425.7L612.7 427.9L612.7 430.1L612.7 432.3L612.7 434.5L612.7 436.6L612.7 438.8L612.7 441L612.7 443.2L612.7 445.3L612.7 447.5L612.7 449.7L612.7 451.9L612.7 454.1L612.7 456.2L612.7 458.4L612.7 460.6L612.7 462.8L612.7 464.9L612.7 467.1L612.7 469.3L612.7 471.5L612.7 473.7L612.7 475.8L612.7 478L612.7 480.2L612.7 482.4L612.7 484.5L612.7 486.7L612.7 488.9L612.7 489.8L610.9 489.4L609.9 488.9L609.2 488.1L607.4 487.8L605.8 488.9L605.6 488.9L603.9 489L603.6 488.9L602.1 487.6L600.4 488.3L598.6 487.7L597.5 486.7L596.8 485.8L595.1 484.5L595.1 484.5L594.2 482.4L593.3 481.4L591.5 482.2L591.2 482.4L589.8 482.9L588.1 484.5L588 484.7L586.3 486.7L585.7 484.5L586.2 482.4L584.6 480.2L584.5 479.7L584.2 480.2L582.7 481.5L581 481L579.2 480.9L578 480.2L577.4 479.4L576.7 478L575.7 477.3L574.3 475.8L573.9 475.4L572.2 474.8L570.6 473.7L570.4 473.5L568.6 473.5L566.9 471.7L566.8 471.5L566.3 469.3L565.1 467.2L564.9 467.1L563.3 466L561.6 465.1L561.4 464.9L559.8 463.4L558.1 463.5L556.3 464.7L554.5 464.1L552.8 464.7L552.6 464.9L551 466.6L549.2 465.2L549.1 464.9L548 462.8L547.5 462.2L546.6 462.8L545.7 463.2L544.5 462.8L544 462.2L543 460.6L542.2 459.9L541.7 460.6L542 462.8L541.4 464.9L540.4 466.1L539.2 467.1L538.7 467.4L536.9 467.5L536.3 467.1L535.1 465.7L533.4 465L533.2 464.9L531.6 464.1L529.9 463.7L528.1 464L526.3 463.7L525.4 464.9L524.6 465.4L522.8 465.6L521 466.4L519.3 466.4L517.5 466.6L515.8 467.1L515.7 467.1L514 468.5L512.2 468.9L510.5 468.2L508.7 468.7L506.9 468.4L505.2 469.1L503.4 468.8L501.7 467.4L499.9 467.2L498.1 468.7L496.4 468.7L494.6 468.5L492.8 468.4L491.2 467.1L491.1 467L489.3 466.8L488.7 467.1L487.6 467.6L485.8 468.4L485.1 467.1L484 466.2L482.3 466L481.5 467.1L482.3 468.8L482.7 469.3L484 471.4L484.1 471.5L484 472.1L482.4 473.7L482.3 473.8L482 475.8L481.6 478L480.9 480.2L481.7 482.4L482.3 482.5L484 482.5L485.8 483.5L487.6 483.4L489.3 483.1L491.1 483.6L491.9 484.5L492.8 486.2L493.2 486.7L494.6 488.1L496.1 488.9L496.4 489.1L498.1 490.3L499.9 490.3L500.4 491.1L501.7 492.3L502.5 493.2L503 495.4L503.4 496.1L504 495.4L505.2 494.4L506.9 493.4L508.7 493.3L510.5 493.9L512.2 494.1L514 493.9L515.8 494.5L517.4 493.2L517.5 493.2L517.7 493.2L519.3 493.9L521 495.2L521.4 495.4L522.8 497.3L524.6 495.7L526.3 497.2L526.7 497.6L528.1 498.6L529.9 498.7L531.6 499.5L532.2 499.8L533.4 500.2L535.1 500.9L536.9 501.6L538.7 501.8L539.9 502L540.4 502.1L542.2 503.5L544 503.7L545.7 503.9L547.5 503.6L549.2 503.2L551 503.4L552.7 504.1L552.8 504.2L554.5 504.4L556.3 504.3L558 506.3L558.1 506.3L559.8 507.6L561.6 507.7L563.3 507.9L565.1 507.6L566.9 508.2L567.1 508.5L568.6 510.6L570 508.5L570.4 507.7L572.2 506.3L573.9 507.1L575 508.5L575.7 509.1L577.4 508.5L577.4 508.5L579.2 507.7L580.6 508.5L581 508.9L582.7 510.6L584.5 510.5L584.9 510.7L586.3 511.5L588 511.3L589.8 511.7L591.5 511.6L593.3 511L595.1 511.8L596.8 512.8L598.6 512.1L600.4 511.6L602.1 511.3L603.6 510.7L603.9 510.6L605.6 510.5L607.4 510.2L609.2 510.2L610.9 509.6L612.7 508.8L612.7 510.7L612.7 512.8L612.7 515L612.7 517.2L612.7 519.4L612.7 521.6L612.7 523.7L612.7 525.9L612.7 528.1L612.7 530.3L612.7 532.4L612.7 534.6L612.7 536.8L612.7 539L612.7 541.2L612.7 543.3L612.7 545.5L612.7 547.7L612.7 549.9L612.7 552L612.7 554.2L612.7 556.4L612.7 558.6L612.7 560.8L612.7 562.9L612.7 565.1L612.7 567.3L612.7 569.5L612.7 571.6L612.7 573.8L612.7 576L612.7 578.2L612.7 580.3L612.7 582.5L612.7 584.7L612.7 586.9L612.7 589.1L612.7 591.2L612.7 593.4L612.7 595.6L612.7 597.8L612.7 599.9L612.7 602.1L612.7 604.3L612.7 606.5L612.7 608.7L612.7 610.8L612.7 613L612.7 613.6L612.1 613L610.9 612L609.2 611.3L607.4 612L607.3 613L606.8 615.2L605.6 615.5L604.9 615.2L603.9 614.4L602.1 613L602.1 613L602.1 613L601.6 615.2L600.4 615.6L598.6 615.4L598.2 615.2L596.8 614L595.1 613.9L593.3 614.5L591.7 615.2L591.5 615.3L591.5 615.2L591 613L589.8 611.4L588 611.8L586.3 612.5L584.5 612.4L582.7 611.9L581 612L580.4 613L579.2 613.7L577.4 613.8L575.9 613L575.7 612.7L573.9 611.8L572.2 612.3L570.6 613L570.4 613.1L568.6 613.3L566.9 613.6L565.3 615.2L565.1 615.4L564.6 615.2L563.3 614.8L561.6 615.2L561.6 615.2L559.8 615.4L558.1 615.9L556.4 615.2L557.3 613L556.5 610.8L556.3 610.7L555.9 610.8L554.5 612.4L554.2 613L554 615.2L552.8 615.7L551.2 615.2L551 615L549.4 613L549.2 612.3L547.5 611.9L545.7 611.1L545.6 610.8L544.5 608.7L545 606.5L544.8 604.3L544 603L543.7 602.1L544 599.9L543.5 597.8L542.6 595.6L543.2 593.4L544 592.7L545.7 591.4L545.8 591.2L545.9 589.1L545.7 588.2L544.7 586.9L544 586.3L542.2 586.1L541.5 584.7L540.9 582.5L541 580.3L542 578.2L542.2 578L543.7 576L544 575.6L545.3 573.8L545.7 573.3L547.1 571.6L547.5 571L548.6 569.5L548.8 567.3L549.2 566.7L550.4 565.1L550.3 562.9L550.2 560.8L550.2 558.6L550.2 556.4L549.9 554.2L549.7 552L549.2 551.4L548 549.9L547.5 549.2L545.7 549.3L544 549.3L542.2 549.2L540.7 547.7L540.4 547.4L538.8 545.5L538.7 545.4L536.9 544.1L535.1 544.7L533.6 543.3L533.4 543L532.3 541.2L531.6 541.1L529.9 540.9L528.1 540.8L526.3 540.5L524.6 540.7L522.8 539.2L522.1 539L521 538.9L519.3 539L517.5 538.6L516 536.8L515.8 536.5L514.3 534.6L514 534.3L512.4 532.4L512.2 532.2L510.5 531.9L508.7 532.2L506.9 531.3L505.2 530.5L503.4 532L502.9 532.4L501.7 533.6L500.7 532.4L501.7 530.8L502 530.3L501.7 528.1L501.7 528L499.9 527.9L498.1 527.9L496.5 528.1L496.4 528.1L494.6 529.3L493.4 528.1L493.7 525.9L492.8 524.7L491.1 524.8L489.3 524L488.1 523.7L487.6 523L487.3 521.6L485.8 519.8L484 519.5L483.9 519.4L482.3 517.6L482 517.2L480.8 515L480.5 514.3L479 512.8L478.7 512.7L477.4 510.7L477 509.9L476 508.5L475.2 507.4L473.5 507.2L471.7 507.6L470.6 508.5L469.9 509.2L468.2 509.2L466.4 509.5L464.6 508.5L464.4 508.5L462.9 508L461.3 506.3L461.1 505.2L461 504.1L461.1 503.9L461.8 502L461.1 500.6L460.5 499.8L459.7 497.6L460 495.4L461.1 493.8L462.9 493.3L464.6 493.5L466.4 494L467.7 495.4L468.2 496L468.8 495.4L468.9 493.2L469.9 491.8L470.6 491.1L471.7 489.1L471.8 488.9L471.7 488.5L470.6 486.7L469.9 486.1L468.8 484.5L468.2 484.1L466.8 482.4L466.4 480.8L465.7 480.2L464.6 479.5L463.4 478L462.9 476L462.6 475.8L461.1 475.4L459.4 474.5L458.4 475.8L457.6 476.4L456.6 475.8L455.9 473.7L455.8 473.6L455.8 473.7L454.1 474.7L452.3 474.3L450.5 474.3L449.9 473.7L448.8 472.9L447 472.4L445.5 473.7L445.3 473.8L443.5 474.6L441.7 474.8L440 474.8L438.2 474.8L436.4 475.6L436.1 475.8L434.7 476.5L432.9 476.9L431.2 476.1L429.4 476.3L427.6 476.4L427 475.8L425.9 474.7L424.9 475.8L424.7 478L424.1 478.7L422.3 478.7L420.6 478.4L420.2 478L420.6 477.5L421.6 475.8L420.6 474.5L418.8 474.4L417.4 475.8L417.1 476.2L415.3 476.4L413.5 476.5L411.8 476.5L410.4 478L410 478.5L408.3 480.2L408.2 480.3L406.6 480.2L406.5 480.1L404.7 479.1L403 479.8L401.2 480L399.4 478.7L397.7 478.6L395.9 478.8L394.4 478L394.2 475.8L394.1 475.7L392.4 474.3L391.8 473.7L392.2 471.5L392.4 471L394.1 470.4L394.7 469.3L395.4 467.1L395.8 464.9L395.1 462.8L394.1 461.7L392.4 462.2L391.5 462.8L391 464.9L390.6 465.3L388.9 466.7L387.1 466.1L386.1 464.9L385.7 462.8L385.3 462.1L383.6 461.1L382.1 462.8L382.5 464.9L381.8 465.5L381.4 464.9L381.6 462.8L381.1 460.6L380 459.5L378.5 458.4L378.3 458.2L376.5 457.9L374.8 456.2L374.8 456.2L374.6 456.2L373 456.3L371.2 456.4L369.5 456.4L367.7 456.4L366.7 456.2L365.9 455.5L364.7 454.1L364.4 451.9L364.2 450.8L364.1 449.7L364.1 447.5L364.1 445.3L364.2 445.2L365.6 443.2L365.6 441L365.8 438.8L365.9 438.6L367.5 436.6L367.6 434.5L365.9 432.4L364.2 432.5L362.4 432.5L360.7 432.7L358.9 433L357.7 434.5L357.1 435.4L355.4 436.1L354.9 436.6L354.8 438.8L354.6 441L353.7 443.2L353.6 443.3L352.1 445.3L351.8 445.5L350.1 446.3L348.3 446.2L346.6 446.1L344.8 445.9L343 445.6L341.5 445.3L341.3 444.8L340.5 443.2L340.8 441L340.2 438.8L340.3 436.6L340.4 434.5L339.9 432.3L339.5 431.8L337.8 430.1L337.7 428.7L337.6 427.9L337.7 427.7L339.3 425.7L339.5 425.4L340.7 423.6L341.3 423L343 423.3L344.8 422.4L346.6 421.7L348.1 421.4L348.3 421.4L350.1 420.3L351.8 421L353.6 420.6L355.4 421L357 421.4L357.1 421.5L358.9 422.7L359.6 423.6L360.7 424.6L361.5 423.6L362.4 421.8L363.1 421.4L364.2 421L365.3 421.4L365.9 422.2L366.8 423.6L365.9 425L365.7 425.7L365.9 426.2L367.1 427.9L367.7 428.6L368.5 427.9L369.1 425.7L369.4 423.6L369.5 423.5L370.3 421.4L371.2 420.5L373 420.4L374.8 420.8L375.5 421.4L374.8 422.8L373 423.4L372.8 423.6L371.2 425.5L370.8 425.7L371.2 425.9L373 427.1L373.4 425.7L374.8 423.9L376.5 425.3L377 425.7L376.5 426L375 427.9L374.8 430.1L376.5 432.1L378.3 432.2L380 430.1L380 430.1L380.4 430.1L381.8 430.1L381.9 430.1L383.6 430L383.9 430.1L385.3 432L385.6 432.3L387.1 434.3L387.8 434.5L388.9 435.6L389.6 436.6L390.6 438.5L390.8 438.8L392.4 440.8L392.5 441L392.4 441.7L391.8 443.2L392.4 444L393.3 443.2L394.1 442.9L395.9 442.2L397.7 442.2L399.1 443.2L399.4 444.2L399.9 443.2L401.2 442.9L403 443L404.7 442.2L405.8 443.2L406.3 445.3L406.5 446L406.8 447.5L407.5 449.7L408.2 451.5L410 451.5L411.8 451.4L412.3 451.9L412 454.1L413.5 455.1L414.4 456.2L415.3 457.6L417.1 457.1L417.9 456.2L418.8 455.7L420.6 456.1L420.8 456.2L420.8 458.4L422.3 459.3L423.6 458.4L424.1 458.2L425.1 458.4L425.9 458.7L427.6 459.8L429.4 460.2L431.2 459.3L432.9 458.4L432.9 458.4L433.9 456.2L433.8 454.1L433.8 451.9L434.5 449.7L434.7 449.6L436.2 447.5L436.4 446.7L436.6 447.5L438.2 448.7L440 448.9L441.7 448.9L442.8 447.5L441.7 445.8L440 445.6L438.2 445.7L437.2 445.3L438.2 443.6L440 444.1L440.9 443.2L440.9 441L440 440.4L438.2 440.6L437.3 441L436.4 441.8L434.7 441.4L432.9 442.5L432.7 441L432.9 439.9L433.6 438.8L432.9 438.2L431.2 437.3L429.4 438L427.6 437.9L425.9 437.2L424.1 436.9L423.7 436.6L422.3 435.5L420.6 435.3L418.8 434.5L417.1 436.3L415.8 436.6L415.3 436.7L415.2 436.6L414.9 434.5L415.3 433.3L415.5 432.3L415.3 432.2L413.5 431.5L411.8 430.3L410.8 430.1L410 429.2L409.9 427.9L410 427.5L410.5 425.7L410.4 423.6L411.5 421.4L411.8 421L412.8 421.4L413.5 421.7L414.4 421.4L415.3 420.3L416.2 419.2L417.1 418.6L418.8 419.2L418.9 419.2L420.6 421.2L420.6 421.4L422.3 423.3L422.6 423.6L424 425.7L424.1 425.8L424.3 425.7L425.7 423.6L425.8 421.4L425 419.2L425.5 417L425.9 415.3L426.4 417L426.4 419.2L427.6 421.1L429.4 420.7L430.9 421.4L430 423.6L431.2 424.9L431.7 423.6L431.6 421.4L432.9 420.9L434.7 421L436.4 421.4L436.4 421.4L436.5 421.4L436.4 421.1L436.4 419.2L436.4 419.1L438.2 417.7L438.5 417L438.9 414.9L439.5 412.7L440 411.7L441.7 412.2L443.5 411.7L445.3 410.5L445.3 410.5L447 409.6L448.8 410.1L449.3 410.5L450.5 411.9L451.6 412.7L452.3 413.2L454 414.9L453.5 417L452.9 419.2L454.1 420.8L454.8 421.4L455.8 422.1L457.6 422.2L458.6 421.4L459.4 419.9L459.7 421.4L460.9 423.6L461.1 423.7L462.2 425.7L462.3 427.9L462.9 428.5L464.6 429.7L466.4 429.8L468.2 428.3L468.5 427.9L468.2 427.2L467.2 425.7L466.4 424.5L465.1 423.6L464.6 423.2L464.2 421.4L464.6 420.8L466.4 419.7L467 419.2L466.4 418.7L465.4 417L464.8 414.9L464.6 414.3L464.3 412.7L464.6 411.6L465.5 410.5L466.3 408.3L464.6 406.3L464.5 406.1L464.6 404.2L464.7 404L465.4 401.8L465.3 399.6L464.6 397.6L464.6 397.4L463.8 395.3L463.3 393.1L464.2 390.9L464.6 390.5L466.4 389.4L468.2 390.5L468.7 390.9L469.9 392.9L470.2 393.1L471.7 393.8L473.5 393.9L475.2 394L477 393.4L477.3 393.1L478.6 390.9L478.7 390.8L480 390.9L480.5 391L481.5 393.1L482.2 395.3L482.3 395.3L484 395.7L485.8 396L487.6 397.1L487.8 397.4L489.3 398.7L490 399.6L489.3 401.6L489.3 401.8L487.6 404L487.6 404.1L486.6 406.1L485.8 407.2L484.8 408.3L484.5 410.5L484 412.6L484 412.7L484 412.7L485.8 414.8L487.6 414L489.3 413.2L491 412.7L491.1 412.7L491.2 412.7L491.8 414.9L491.1 415.5L490.6 417L491.1 417.7L492.8 417.9L494.6 417.3L494.7 417L494.6 416.4L493.8 414.9L494.6 414.3L496.1 412.7L496.4 410.7L496.4 410.5L497.1 408.3L498.1 406.2L498.4 406.1L498.1 406L496.9 404L496.4 402.8L496.3 401.8L495.8 399.6L496.4 399.2L497.7 399.6L498.1 400.2L499.9 401.2L501.7 400.7L503.3 401.8L503.4 401.8L505.2 402.5L505.7 401.8L506.9 399.6L506.9 398.6L508.7 398.1L510.5 398.6L512.2 397.8L512.8 397.4L514 396.2L515 395.3L515.8 393.9L516.2 393.1L517.5 392.4L519.3 391.4L521 391.7L522.2 390.9L522.8 390.6L524.6 390.5L526.3 390.4L528.1 389.5L529.9 389.8L531.6 390.4L532.5 390.9L533.4 391.4L535.1 391.2L536.9 391.5L538.7 391.2L539.6 390.9L540.4 390.8L542.2 390.8L544 390.6L545.7 390.3L547.5 390.2L549.2 390.5L551 390.5L552.8 390.4L554.5 390.4L556.3 389.3L558.1 389.6L558.8 388.7L559.8 388L561.6 387.1L563.3 387.2L565.1 387.7L566.9 387.8L568.6 388L569.7 388.7L570.4 389.5L572.2 389.3L573.9 389.6L575.7 389.1L576.1 388.7L577.4 388L578.2 388.7L579.2 389.5L581 390.1L582.7 389.7L583.9 388.7L584.5 388.1L586.3 387.6L587.6 388.7L588 389L589.8 389.7L591.5 389.6L593.3 390.2L595.1 389.6L596.8 389.8L597.6 390.9L597.7 393.1L598.6 394.1L600.4 394.1L601.3 393.1L600.7 390.9L600.6 388.7L602.1 387.6L603.9 387.6L604.4 386.6ZM566.9 597.6L566.6 597.8L566.9 597.9L568.6 598.6L569.1 597.8L568.6 597.3ZM573.9 593L573.4 593.4L573.7 595.6L573.9 596.1L574.7 595.6L574.7 593.4ZM582.7 510.8L582 512.8L582.7 513.1L583.1 512.8ZM589.8 588.6L589.5 589.1L588.9 591.2L589.8 592.3L591.1 591.2L590.3 589.1ZM600.4 586.8L600.3 586.9L600.4 586.9L602.1 587L602.3 586.9L602.1 586.7ZM605.6 577.4L604.7 578.2L605.2 580.3L605.6 581.4L606.1 580.3L606.4 578.2ZM394.1 446L393.8 447.5L392.4 449.2L392.1 449.7L392.4 450.7L394.1 450.1L395.9 450.2L397.7 451.2L399.4 450.8L400.3 449.7L401.2 449.3L403 448.8L403.8 447.5L403 446.1L401.2 445.9L399.4 445.4L397.7 445.9L395.9 447.5L395.9 448.2L395.6 447.5ZM410 457.2L408.6 458.4L408.2 459.1L408 460.6L408.2 461.3L410 461.1L411.4 460.6L411.8 458.7L411.8 458.4L411.8 458.3ZM413.5 460.6L413.4 460.6L413.5 462.8L413.5 462.8L413.7 462.8L413.6 460.6ZM447 453.5L445.8 454.1L447 455.5L447.7 454.1ZM450.5 442.7L450.3 443.2L450.5 443.3L450.6 443.2ZM452.3 459.6L451.5 460.6L452.3 462.2L453.4 460.6ZM459.4 445.1L459.2 445.3L457.6 446.7L457.1 447.5L457.6 448.7L458.7 449.7L459.4 450.4L459.6 449.7L460.4 447.5L459.4 445.3ZM469.9 421.8L468.7 423.6L469.9 424.7L471.7 424.7L472.2 423.6L471.7 422.6ZM473.5 408.2L473.4 408.3L473.5 408.7L475.2 408.5L475.3 408.3L475.2 408.2ZM480.5 407.4L479.5 408.3L480.5 410.5L480.5 410.6L482.3 410.7L482.8 410.5L482.3 409.1L482.2 408.3ZM484 418.9L483.6 419.2L484 419.5L484.1 419.2ZM485.8 431.5L485.3 432.3L484 433.9L482.3 433.3L480.5 433.9L480 434.5L480.5 435.6L481.5 436.6L482.3 437L484 436.9L485.3 436.6L485.8 436.5L487.6 435.5L488.3 434.5L488.6 432.3L487.6 430.3ZM499.9 412.8L498.8 414.9L499.9 416.3L501.3 414.9ZM512.2 436.7L511.5 438.8L512.2 440.7L513 438.8ZM519.3 444L518.1 445.3L519.3 446.8L520 445.3ZM529.9 412.6L529.7 412.7L529.5 414.9L529.9 415.3L530.5 414.9L530 412.7ZM531.6 407.6L531.1 408.3L531.6 409.1L532.4 408.3ZM536.9 418.7L535.5 419.2L536.2 421.4L536.9 421.8L537.6 421.4L537.9 419.2ZM538.7 395.2L538.7 395.3L538.1 397.4L538.7 398.2L540.4 398.7L541.5 397.4L540.4 396.3L538.7 395.3ZM552.8 394.9L552.6 395.3L551 397.4L551 397.4L550.7 399.6L549.6 401.8L549.9 404L551 405L552.8 405.4L554.5 404.7L555.3 404L556.3 402.4L556.6 401.8L558 399.6L557.9 397.4L556.3 396.1L554.7 395.3L554.5 394.9ZM577.4 395.2L577.4 395.3L577.4 397.4L577.4 399.6L575.7 401.7L575.7 401.8L574.1 404L573.9 404.1L572.2 406.1L572 406.1L570.4 406.3L570.1 406.1L568.6 404.9L566.9 404.6L565.1 405.8L563.3 405.8L563.1 406.1L561.6 408L559.8 406.2L558.1 407.2L557.7 408.3L557.2 410.5L557.5 412.7L558.1 413.4L559.8 413.5L561.4 412.7L561.6 412.3L561.9 412.7L563.3 413.5L564.1 412.7L564.5 410.5L565.1 410L566.7 410.5L566.9 410.7L567.4 412.7L568.6 414L570.4 414.4L571.2 414.9L572.2 415.9L573.9 415.9L574.9 414.9L575.7 414.5L577.4 413.6L578.3 412.7L579.2 412.1L580.1 410.5L580.2 408.3L580.5 406.1L581 405.1L582.2 404L582.7 403.3L584.5 403.3L586.3 403.9L587.3 401.8L587.5 399.6L586.3 398.3L584.7 397.4L584.5 397.3L584 397.4L582.7 397.8L581 397.6L580.9 397.4L580 395.3L579.2 394.5ZM588 407.1L586.3 408.3L588 409.4L589.8 408.8L590.1 408.3L589.8 407.8ZM602.1 470.4L601.6 471.5L601.3 473.7L602.1 474.4L603.9 474.6L605.3 473.7L605.6 472.9L606 471.5L605.6 471.1L603.9 470.3ZM566.9 608.4L566.8 608.7L566.9 608.9L567 608.7ZM399.4 453.8L398.4 454.1L399 456.2L399.4 458.4L398.9 460.6L399.4 461.1L399.8 460.6L399.4 458.4L399.8 456.2L399.8 454.1ZM469.9 433L469.1 434.5L469.9 435.7L470.6 436.6L471.7 438.2L473.5 438.3L473.7 438.8L475.2 440L477 440.1L478 438.8L478.7 437.3L479.6 436.6L478.7 436L477 434.5L476.9 434.5L475.2 433.9L473.5 433.9L471.7 433.4ZM499.9 439.4L499 441L499.9 441.8L501.3 441ZM512.2 442.4L512.2 443.2L512.2 443.2L512.4 443.2ZM529.9 420.1L529.4 421.4L528.9 423.6L529.9 425.6L530 425.7L531.6 427.4L532.4 425.7L532.5 423.6L533 421.4L531.6 419.6ZM540.4 402.9L539.7 404L540.4 404.7L542.2 404.5L542.6 404L542.2 402.8ZM552.8 448.6L552.4 449.7L552.5 451.9L552.8 452.2L554.5 452.5L555.1 451.9L555.3 449.7L554.5 448.2ZM558.1 453.4L557.9 454.1L558.1 454.8L558.4 454.1ZM563.3 421L562.6 421.4L563.3 421.7L564 421.4ZM565.1 432.2L565.1 432.3L564.9 434.5L564.5 436.6L565.1 438.3L565.3 438.8L566.9 440.8L567 441L567.7 443.2L568.6 445.3L568.5 447.5L568.6 447.7L570.4 448.5L572.2 448L573.5 449.7L573.9 450.6L574.3 449.7L574.7 447.5L575.6 445.3L575.7 445.2L575.8 445.3L577.4 447.3L578 447.5L579.2 447.7L579.6 447.5L581 446L582.7 445.5L584.5 445.8L586.3 445.9L588 447.4L589.8 446.9L591.3 445.3L591.5 444.9L592.4 443.2L593.3 441.7L594.6 441L595.1 440.6L595.6 438.8L595.1 437.2L594.1 436.6L593.3 436.5L591.5 436.6L589.8 435.7L588.9 434.5L589 432.3L588 431.4L586.3 430.6L584.5 430.4L582.7 430.6L581 430.6L579.2 431.1L577.4 430.4L575.7 430.1L573.9 430.6L572.2 430.9L570.4 432L569.7 432.3L568.6 432.5L567.7 432.3L566.9 431.1ZM572.2 421.1L572.1 421.4L571.3 423.6L571 425.7L572.2 427.1L573.9 426.4L575.1 425.7L575 423.6L575.2 421.4L573.9 420.3ZM577.4 415.6L575.8 417L576.1 419.2L577.1 421.4L577.4 421.9L577.7 421.4L579.2 420.4L579.5 419.2L580.7 417L579.2 416.4ZM581 412.3L580.3 412.7L580.3 414.9L581 416.8L582.7 414.9L583 414.9L584.5 414L585.2 412.7L584.5 411.2L582.7 411.1ZM605.6 474.5L605.2 475.8L605.6 476.6L607.2 478L607.4 478.2L607.6 478L609 475.8L607.4 474.8ZM529.9 430L529.8 430.1L529.9 430.2L531.6 430.7L532.6 432.3L533.4 433.6L533.9 434.5L534.9 436.6L533.4 438.3L533.1 438.8L532.6 441L533.4 441.4L535.1 441.8L536.9 441.4L537.4 441L538.2 438.8L538.7 437L538.8 436.6L540.4 435.2L541.5 434.5L540.4 434.1L538.7 433.7L536.9 433.1L536.1 432.3L535.1 431.2L534.3 430.1L533.4 428.4L531.6 428.7ZM575.7 464.4L575.5 464.9L575.7 465.8L577.4 465.1L577.7 464.9L577.4 464.3ZM260.1 390.9L260.2 390.9L260.3 390.9L262 392.3L262.6 393.1L263.7 393.9L264.2 395.3L265.5 396.9L266 397.4L267.2 399.2L267.6 399.6L269 401.4L269.3 401.8L270.8 403.1L272.1 404L272.5 404.7L274.3 404.4L274.6 404L275.1 401.8L274.3 400.5L273.9 399.6L272.5 397.9L272.2 397.4L270.8 395.4L270.7 395.3L270.4 393.1L270.6 390.9L270.8 390.6L272.5 390.4L272.9 390.9L274.3 393L274.4 393.1L274.8 395.3L276.1 397.2L276.3 397.4L276.6 399.6L277.8 400.7L279.6 401.8L279.7 401.8L281.3 402.7L282.7 404L283.1 404.2L284.9 404.3L286.6 404.6L287.9 406.1L288.4 407.1L289 408.3L288.4 409.1L287.7 410.5L287.3 412.7L286.6 414.1L285.5 414.9L284.9 416.3L284.7 417L284.9 417.2L286.6 417.8L287.6 419.2L287.6 421.4L288.3 423.6L288 425.7L286.9 427.9L286.6 428.3L286 430.1L284.9 432.2L284.8 432.3L283.1 433.2L281.3 432.4L281.3 432.3L279.6 431.6L277.8 431.6L276.1 431.3L274.5 430.1L274.3 430L274.1 430.1L272.5 431.7L270.8 431L269 430.5L267.2 431.7L266.8 432.3L265.5 433.4L263.7 433.1L262 432.3L262 432.2L261.9 432.3L260.5 434.5L260.2 435.3L258.4 436.3L258.3 436.6L256.9 438.8L256.7 439L254.9 439.3L254.4 438.8L253.1 438L251.4 437.8L249.6 437.8L247.9 437.7L247 436.6L247.4 434.5L247.9 433.8L249.6 432.9L250.6 432.3L250 430.1L249.6 429.7L247.9 429.9L246.1 429.6L244.9 427.9L246.1 427L247.9 427.1L249.6 425.8L251.4 425.8L251.4 425.7L252 423.6L252 421.4L252.4 419.2L252.6 417L253.1 416.1L253.6 414.9L254 412.7L253.1 410.5L253.1 410.5L253.1 410.5L253.4 408.3L253.1 406.5L253.1 406.1L251.4 404.1L251.3 404L251.4 403.8L252.2 401.8L252.8 399.6L252.6 397.4L253.1 396.7L254.9 395.6L255.3 395.3L256.7 393.9L257.3 393.1L258.4 392.1ZM277.8 423L277.6 423.6L277.8 424L278.3 423.6ZM500.6 393.1L501.7 392.4L503.1 393.1L503.4 393.6L504.3 395.3L503.4 397.3L503.2 397.4L501.7 398.6L500.4 397.4L499.9 397.1L498.1 395.7L497.5 395.3L498.1 394.9L499.9 393.9ZM381.8 412.7L381.8 412.6L381.9 412.7L383.6 414.2L383.9 414.9L385.3 416.6L386 417L387.1 417.9L387.9 419.2L387.1 421.4L387.1 421.7L386.7 423.6L385.3 425.4L384 425.7L383.6 425.8L383.3 425.7L381.8 424.9L380 424.4L378.3 424.2L378 423.6L378.3 422.6L378.8 421.4L378.3 420.6L376.8 419.2L376.5 419L375.8 417L375.1 414.9L376.5 413.2L378.3 413.4L380 414.5ZM423.6 412.7L424.1 412.4L424.4 412.7L424.1 412.9ZM459.1 417L459.4 416.5L460.3 417L459.4 418.8ZM536 436.6L536.9 436.4L538.2 436.6L536.9 437ZM248.5 443.2L249.6 442.7L250 443.2L250.2 445.3L249.6 445.8L249 445.3ZM179.1 447.5L179.1 447.4L180.9 446.5L182.6 446.8L184.4 446.8L185 447.5L186.2 449L187.9 448.7L189.7 449.2L190 449.7L191.2 451.9L191.5 452.1L193.2 453.5L195 453.2L196.7 453.2L198.5 453.7L200.3 452.8L202 452.7L203.7 451.9L203.8 451.8L204.3 451.9L205.6 452L205.8 451.9L207.3 451.1L209.1 450.7L210.8 450.7L212.6 451L214.4 450.2L215.2 449.7L216.1 449.3L217.9 448L218.2 447.5L219.7 446.3L220.9 447.5L221.4 448.4L222.1 449.7L222.2 451.9L221.9 454.1L223.2 455.4L223.8 456.2L224.9 458.1L225.3 458.4L226.7 460L228.5 459.1L230.2 459.2L231.5 460.6L231.3 462.8L230.4 464.9L230.2 465.3L228.5 466.5L226.7 466.3L225.3 467.1L225.7 469.3L224.9 470.6L223.2 469.8L223.1 469.3L221.4 467.7L219.7 469.2L219.6 469.3L217.9 470.8L216.8 471.5L216.1 471.8L214.4 471.9L212.6 471.7L210.9 471.5L210.8 471.5L209.1 471.4L208.9 471.5L207.3 472.3L205.6 472.4L203.8 473.1L202 472.9L200.3 472.6L198.5 473.1L196.7 472.8L195.9 471.5L195 470.5L193.2 470.4L191.5 471.1L189.7 471.3L187.9 470.1L186.2 470.1L184.4 471.1L182.6 471.2L180.9 470.5L179.1 470.2L179.1 469.3L179.1 467.1L179.1 464.9L179.1 462.8L179.1 460.6L179.1 458.4L179.1 456.2L179.1 454.1L179.1 451.9L179.1 449.7ZM198.4 449.7L198.5 448.7L198.8 449.7L198.5 449.9ZM349.5 467.1L350.1 467.1L350.3 467.1L350.4 469.3L350.1 469.8L349.9 469.3ZM508.7 473.7L508.7 473.6L508.7 473.7L510 475.8L508.7 476.3L508.2 475.8ZM214 493.2L214.4 492.9L216.1 493.1L216.6 493.2L217.9 494.1L219.5 495.4L219.7 495.6L220.5 495.4L221.4 495.2L221.8 495.4L223.2 496.1L224.3 497.6L224.9 498.4L226.7 498.3L228.5 498.4L229.8 499.8L230.2 500.7L231.5 502L232 502.2L232.5 502L233.6 499.8L233.8 499.7L233.9 499.8L235.5 501.4L236.1 502L237.3 502.9L239 503.2L240.8 502.4L241.4 502L242.6 501.6L244.3 501.8L246.1 501.8L247.9 501.7L249.1 502L249.6 502.1L250.2 502L251.4 501.8L251.7 502L253.1 502.7L254.9 503.1L256.7 503.1L258.4 502.7L260.2 502L262 502L263.7 502.9L265.5 503L267.2 502.1L269 502.2L269.3 502L270.8 501.3L272.5 500.3L274.3 501.2L275.2 502L275.5 504.1L275.9 506.3L276.1 507.5L276.1 508.5L277.6 510.7L277.8 510.8L278 510.7L279.6 509.4L280.5 508.5L281.3 507.6L283 508.5L283.1 508.6L284.7 510.7L284.9 511.3L285.6 512.8L286.6 513.6L287.5 515L288.4 515.7L290.2 516.3L291.9 516.6L293.7 516.1L295.4 516.4L297.2 516.9L298.1 517.2L299 518.1L300.7 518.1L302.5 517.9L304.3 517.2L304.3 517.2L306 516.8L307.3 517.2L307.8 517.4L309.5 517.2L310.2 517.2L311.3 517.1L311.7 517.2L313.1 517.6L314.8 518.9L316.6 519.3L318.4 519.3L320.1 519.3L320.2 519.4L321.9 520.4L323.6 520.3L325.4 521L327.2 521.2L328.9 520.8L330.7 520.4L332.5 520.5L334.2 520.7L336 520.8L337.7 520.7L339.5 520.4L341.3 520.3L343 520.6L344.8 520.7L346.6 521.4L346.7 521.6L348.1 523.7L348.3 524L350.1 525L351.8 525.3L353.6 525.7L353.8 525.9L355.4 527.3L356.3 528.1L357.1 528.6L358.9 529.3L360.4 530.3L360.7 530.7L361.6 532.4L362.4 533.5L364.2 533.3L365.9 533.5L367.7 534.3L368 534.6L369.5 536.3L371.2 536.7L371.3 536.8L372.2 539L371.2 539.2L369.5 540.1L368.5 541.2L367.9 543.3L367.7 544L365.9 544.3L364.2 544.9L362.6 545.5L362.4 545.7L362.2 545.5L361.8 543.3L360.7 542.1L358.9 541.9L357.1 542.3L355.4 543.2L353.6 542.3L351.8 541.8L350.1 543.2L349.7 543.3L348.3 545.5L348.3 545.5L348.3 545.5L348.8 547.7L349.4 549.9L350 552L349.8 554.2L349.8 556.4L349.5 558.6L348.3 559.9L347.7 560.8L346.8 562.9L346.6 563.5L345.7 565.1L345.1 567.3L344.8 569.5L344.8 569.7L343 570.7L342.7 571.6L343 572.5L343.4 573.8L344.8 575.8L344.9 576L345.3 578.2L346.6 579.5L347.8 580.3L348.1 582.5L347.7 584.7L346.6 585.7L345.7 586.9L345 589.1L344.8 589.7L343 589.7L341.3 589.8L340.3 591.2L339.5 592.1L338.1 593.4L337.7 593.8L336 593.7L334.2 593.9L332.6 595.6L332.5 595.8L332.2 595.6L331.1 593.4L330.7 593.1L329.9 593.4L330.1 595.6L330.5 597.8L330.7 599L331.1 599.9L330.7 600.2L329.3 602.1L328.9 602.5L327.2 603.3L325.4 602.8L323.6 603.4L322.5 604.3L321.9 604.8L321.4 604.3L320.1 603.2L318.4 602.3L316.6 602.5L314.8 602.4L313.1 603.9L311.8 604.3L311.3 604.6L309.5 605.4L308.4 606.5L307.8 608.3L307.6 608.7L306 609.3L304.9 608.7L304.7 606.5L304.9 604.3L304.3 603.8L302.5 602.5L300.7 604L300.6 604.3L300.2 606.5L300.1 608.7L300.2 610.8L300.7 611.6L301.8 613L302.5 613.8L304.1 615.2L304.3 615.5L304.7 617.4L304.4 619.5L304.3 620L302.5 620.1L300.7 619.8L299 621.1L298.6 621.7L297.2 623.6L295.4 623.6L293.7 622.9L291.9 622.1L291.2 621.7L290.2 620.5L288.4 621.5L287.7 619.5L286.6 618.8L284.9 618.5L283.1 617.5L283 617.4L283.1 615.2L281.3 613.3L280.7 613L279.6 611.9L277.8 611.2L276.8 613L276.5 615.2L276.1 615.7L274.3 616L272.5 616.3L270.8 616.1L269.4 615.2L269 613L269 612.8L267.2 611.5L265.5 612.1L263.7 611.7L262 612.8L261.7 613L260.2 613.6L258.4 613.2L256.7 613.4L254.9 613.8L253.4 615.2L253.1 615.4L251.4 617.3L250.9 617.4L249.6 617.7L249.2 617.4L247.9 616.6L246.1 617.2L245.9 617.4L246.1 618.8L246.3 619.5L246.1 620.2L244.3 621.2L242.6 620.8L241.5 619.5L241.2 617.4L240.8 617.1L240 617.4L239 618.1L237.3 617.7L235.5 619.2L234.3 617.4L233.8 617L233.4 617.4L232 618.7L231.8 619.5L231.6 621.7L232 623.8L233.8 623.1L235.5 623.2L236.9 623.9L236.8 626.1L235.5 626.8L233.8 627.2L232.3 626.1L232 624.3L231.5 626.1L232 627.7L232.1 628.3L232 628.4L230.2 629.5L228.6 628.3L228.5 628L228.4 628.3L226.7 629.8L224.9 629.2L223.2 628.5L221.4 629.7L219.7 630.2L217.9 630L216.1 629.2L215.3 628.3L214.4 626.1L214.4 625.9L213.4 623.9L212.6 623.2L210.8 623.6L209.1 621.9L208.5 621.7L207.3 621.3L207 621.7L205.8 623.9L205.6 624.1L203.8 625.2L202 624.5L200.9 623.9L200.3 623.6L198.5 622.6L196.7 623.1L195.4 623.9L195 624.1L193.2 624.1L193 623.9L193.2 622.2L193.3 621.7L193.2 621.6L192.3 619.5L191.5 618.9L189.7 618.9L187.9 618.9L187.3 619.5L186.2 620.4L184.4 621.1L183.5 621.7L182.6 622.1L180.9 621.8L179.1 622.1L179.1 621.7L179.1 620.5L179.4 619.5L179.1 619.4L179.1 617.4L179.1 615.2L179.1 613L179.1 610.8L179.1 608.7L179.1 606.5L179.1 604.3L179.1 602.1L179.1 599.9L179.1 597.8L179.1 595.6L179.1 593.4L179.1 591.2L179.1 589.1L179.1 586.9L179.1 584.7L179.1 582.5L179.1 580.3L179.1 578.2L179.1 576L179.1 573.8L179.1 571.6L179.1 569.5L179.1 567.3L179.1 565.1L179.1 562.9L179.1 560.8L179.1 558.6L179.1 556.4L179.1 554.2L179.1 552L179.1 549.9L179.1 547.7L179.1 545.5L179.1 543.3L179.1 541.2L179.1 539L179.1 536.8L179.1 534.6L179.1 532.4L179.1 530.3L179.1 528.1L179.1 525.9L179.1 523.7L179.1 521.6L179.1 519.4L179.1 517.2L179.1 515L179.1 512.8L179.1 510.7L179.1 508.5L179.1 506.3L179.1 504.1L179.1 502L179.1 500.4L180.9 500.8L182.6 500.7L184 499.8L184.4 499L186.2 498.1L187 497.6L187.9 497.2L189.7 496.8L191.5 496.7L193.2 496.3L194.9 497.6L195 497.7L196.7 498L198.5 498.5L200.3 499L201.2 499.8L202 500.1L203.8 500L204.2 499.8L205.6 497.7L205.6 497.6L207.3 496.4L209.1 496.5L210.8 495.8L211.6 495.4L212.6 494.6ZM219.7 621.2L218.6 621.7L217.9 623.2L217.7 623.9L217.9 624L219.7 624.3L220.1 623.9L220.4 621.7ZM235.5 609.6L234.8 610.8L235.5 611L235.7 610.8ZM246.1 591.2L246.1 591.2L246.1 591.9L246.3 591.2ZM249.6 590.4L248.3 591.2L247.9 592.3L246.6 593.4L247.9 594.1L249.6 594.7L251.4 593.8L253.1 593.9L253.9 593.4L254.9 592.2L255.2 591.2L254.9 589.8L253.1 590.3L251.4 590.2ZM262 590.3L261.1 591.2L262 593.1L263.7 592.2L263.9 591.2L263.7 590.8ZM284.9 586.2L284.1 586.9L284.6 589.1L283.3 591.2L283.1 591.7L282.6 593.4L281.3 594.8L279.6 594.9L279.1 595.6L279.6 596.6L281.3 596.7L283.1 596.8L284.9 596.4L286.6 595.9L287.2 595.6L287.1 593.4L286.6 592L286.4 591.2L286.6 589.6L286.9 589.1L286.6 588.4L286.2 586.9ZM288.4 577.9L288 578.2L287.4 580.3L288.4 582L290.2 580.4L290.2 580.3L290.2 580.2L289 578.2ZM291.9 577.7L290.8 578.2L291.9 579.4L292.8 578.2ZM297.2 597.7L297.1 597.8L295.4 599.6L294.2 599.9L295.4 600.4L297.2 600.4L297.5 599.9L297.3 597.8ZM306 602.1L306 602.1L306 602.2L306.1 602.1ZM311.3 583.6L310.4 584.7L311.3 586.3L313.1 586.4L313.9 584.7L313.1 583.2ZM318.4 593.2L317.8 593.4L318.4 593.7L319.2 593.4ZM341.3 586.3L340.8 586.9L341.3 587.8L341.9 586.9ZM246.1 599.7L245.1 599.9L244.3 600.4L243.7 602.1L244.3 603.3L245.5 604.3L245 606.5L246.1 608L247 606.5L246.3 604.3L246.6 602.1L246.3 599.9ZM284.9 612.3L283.9 613L284.9 614.8L286 613ZM291.9 588.1L290.5 589.1L291.9 590.1L292.4 589.1ZM455.6 504.1L455.8 503.4L457.6 502.8L458.3 504.1L459 506.3L458.8 508.5L459.2 510.7L457.6 512L456.9 510.7L456.5 508.5L456.1 506.3L455.8 505.5ZM476.7 515L477 514.3L477.3 515L477 515.4ZM350.9 545.5L351.8 544.6L352.4 545.5L351.8 546.4ZM603.4 617.4L603.9 616.8L604 617.4L603.9 617.5ZM247 621.7L247.9 621.2L248 621.7L247.9 621.9Z"/>
<path fill="#ff6000" d="M534.6 399.6L535.1 399.3L535.6 399.6L535.1 400ZM264.2 404L265.5 403.3L267.2 403L268 404L268 406.1L269 407.4L270.8 407.7L272.5 407.9L274.3 407.9L276.1 408.2L277.8 407L278.7 408.3L279.5 410.5L279.6 410.6L280.6 412.7L281.3 414.4L281.5 414.9L281.9 417L282.8 419.2L282 421.4L281.3 421.9L280.9 421.4L279.6 419.2L279.5 419.2L278.1 417L277.8 416.7L277.3 417L276.1 418L275.2 419.2L274.9 421.4L274.3 422.5L272.5 422.4L271.8 421.4L270.8 419.6L270 419.2L269 419L267.2 419.2L267.1 419.2L265.5 419.7L263.7 420.1L263.3 421.4L263.7 422.2L264.3 423.6L264.5 425.7L263.7 426.9L262 426.7L261.1 425.7L260.2 423.9L260.1 423.6L259.6 421.4L260.2 420L260.8 419.2L260.2 418.2L259.7 417L258.6 414.9L258.5 412.7L259 410.5L258.4 409.9L257.5 408.3L258.4 407.4L260.2 406.4L260.5 406.1L262 405.4L263.7 404.2ZM522.6 406.1L522.8 405.8L523.5 406.1L522.8 406.4ZM601.9 406.1L602.1 405.9L603.9 404.9L605.6 406.1L605.7 406.1L605.6 406.3L603.9 408.3L603.9 408.3L602.1 408.7L601.8 408.3ZM608.9 406.1L609.2 405.9L610.2 406.1L610.9 406.3L611.1 406.1L612.7 405.7L612.7 406.1L612.7 408.3L612.7 410.5L612.7 412.7L612.7 414.9L612.7 417L612.7 419.2L612.7 421.4L612.7 423.6L612.7 425.7L612.7 427.9L612.7 430.1L612.7 432.3L612.7 434.5L612.7 436.6L612.7 438.8L612.7 441L612.7 443.1L612.7 443.2L612.7 443.2L612.7 445.3L612.7 447.5L612.7 449.7L612.7 451.9L612.7 454.1L612.7 456.2L612.7 458.4L612.7 460.6L612.7 462.8L612.7 464.9L612.7 465.5L610.9 465.5L609.2 465.2L607.4 465L607.4 464.9L605.6 463L603.9 463.4L602.1 464L600.4 464.2L598.6 463.9L598.2 462.8L598 460.6L597.1 458.4L596.8 457.3L596.4 456.2L596.8 456.1L598.6 455.5L600.4 454.3L600.4 454.1L601.4 451.9L601.6 449.7L600.4 447.5L600.4 447.5L600.4 447.5L600.6 445.3L600.4 445.2L598.6 444.3L598 443.2L598.6 442.1L599.4 441L600.4 440.1L601.9 441L601.4 443.2L602.1 444.4L602.7 443.2L602.5 441L603.4 438.8L602.7 436.6L603.9 434.5L603.9 434.5L605.6 434.4L606.3 432.3L605.6 431.6L603.9 430.5L603.2 430.1L602.1 429.9L600.8 427.9L601.2 425.7L602.1 423.9L602.3 423.6L602.8 421.4L602.1 419.5L602 419.2L601.4 417L602.1 415.3L603.9 415.3L604.2 414.9L605.5 412.7L605.6 412.6L607.4 411.6L609.1 410.5L608.6 408.3ZM508.5 412.7L508.7 412.4L510.2 412.7L510.5 412.8L512.2 413.5L514 413.1L515.3 414.9L515.8 415.2L517.5 415.5L518.1 414.9L518.8 412.7L519.3 411.4L519.9 412.7L520.9 414.9L521 415L521.3 414.9L522.8 414.5L524.6 413.9L525.1 414.9L524.6 416.4L524.1 417L522.8 417.7L521.3 419.2L521.2 421.4L521 421.9L519.5 423.6L519.3 423.7L517.5 425L515.8 424.8L514 424.4L512.2 425.5L510.5 424.7L509.2 423.6L508.7 421.6L508.7 421.4L508.3 419.2L506.9 417.9L506.4 417L506.3 414.9L506.9 414.2ZM444.1 419.2L445.3 418.3L446.4 419.2L447 420.1L447.9 421.4L448.8 423.1L449.2 423.6L449.3 425.7L448.8 426.4L447 427.9L445.3 426.9L444.2 425.7L444.9 423.6L444.2 421.4ZM451.7 423.6L452.3 423.1L452.7 423.6L452.3 424.4ZM351.6 425.7L351.8 425.6L353.6 424.9L354.1 425.7L354.1 427.9L355.4 429.2L356.6 430.1L357.1 430.3L358.6 432.3L357.1 434.3L357 434.5L355.4 434.8L353.8 436.6L353.9 438.8L353.6 440.4L352.3 441L351.8 442.4L351.7 443.2L350.2 445.3L350.1 445.4L348.3 445.5L346.6 445.5L344.8 445.4L344.6 445.3L343.7 443.2L343.5 441L343 440L342.6 438.8L342.8 436.6L343 435.5L343.5 434.5L344.8 432.9L346.6 432.5L346.9 432.3L348.3 430.9L349.9 430.1L350.1 429.9L351.5 427.9ZM348.3 440.8L348.1 441L348.3 441.1L348.5 441ZM453.3 425.7L454.1 425.1L454.9 425.7L454.1 426.5ZM254.5 427.9L254.9 427.6L256.7 427.9L256.7 427.9L257 430.1L256.7 430.6L255.4 430.1L254.9 429.5ZM492.1 427.9L492.8 427.6L494.2 427.9L492.8 428.7ZM550.9 427.9L551 427.6L551.1 427.9L551 428.1ZM520.1 430.1L521 429.5L521.3 430.1L521 430.4ZM375.7 438.8L376.5 438.2L378.3 438.1L380 438.2L380.4 438.8L380.5 441L381.8 441.7L382.4 443.2L382.3 445.3L381.8 446.6L380 446.1L378.3 446.8L376.5 445.3L376.5 445.3L376.4 445.3L374.9 447.5L374.8 447.7L374.7 447.5L373 446L371.4 445.3L371.2 445.2L369.5 444.8L368.5 443.2L369.5 442.1L371.2 442.1L372.5 441L373 440.6L374.8 440.2ZM367.4 441L367.7 440.6L368.2 441L367.7 441.7ZM533.1 445.3L533.4 445.3L533.5 445.3L533.4 446.7ZM493.8 447.5L494.6 446.7L496.4 446.9L498 447.5L497.1 449.7L497.1 451.9L498.1 452.2L499.9 452.1L500.3 451.9L501.2 449.7L501.7 448.8L503.4 448.3L505.2 449L506.3 449.7L506.9 450.6L507.8 451.9L508.2 454.1L506.9 455.8L506.3 456.2L506.8 458.4L506.9 458.8L508.5 458.4L508.7 458.3L510.5 457L510.6 456.2L511.2 454.1L512.2 451.9L512.2 451.9L514 451.6L514.4 451.9L515.8 452.9L517 454.1L517.5 454.6L519.3 456.2L519.4 456.2L521 456.6L521.9 456.2L521.3 454.1L522.8 452.4L524.6 452.1L525 451.9L524.6 451L524.3 449.7L524.6 449.3L526.2 447.5L526.3 447.5L526.4 447.5L527.8 449.7L527.4 451.9L526.3 452.9L525.9 454.1L525 456.2L525.9 458.4L524.6 460.6L524.6 460.6L522.8 462.1L522.5 462.8L521 464.1L519.3 464L517.5 463.6L515.8 464.1L514 464.9L514 464.9L512.2 465.8L511 464.9L510.5 464.4L508.7 464.3L506.9 463.4L505.2 464.3L503.6 462.8L503.4 462.7L501.7 462.3L499.9 461.8L498.1 461.5L496.4 461.9L494.8 462.8L494.6 462.8L492.8 464.5L491.1 463.1L490.5 462.8L489.3 461.6L488.7 460.6L489.2 458.4L489.3 458.3L489.9 456.2L489.7 454.1L491.1 452.3L492.8 452.5L493.4 451.9L493.6 449.7ZM501.7 455.9L501.5 456.2L501.7 456.4L502.3 456.2ZM376.1 449.7L376.5 449.4L376.8 449.7L376.5 449.9ZM471.3 449.7L471.7 449.3L472.2 449.7L472.7 451.9L473.5 452.9L474 454.1L473.7 456.2L473.5 457.2L472.9 458.4L472.2 460.6L471.7 461L471.1 460.6L470.2 458.4L471.1 456.2L470.9 454.1L470.9 451.9ZM384.4 451.9L385.3 451.1L385.7 451.9L385.3 452.2ZM179.1 454.1L179.1 453.2L179.7 454.1L180.5 456.2L180.9 457.1L182.6 457.8L184.4 456.7L186.2 457.6L186.7 458.4L186.7 460.6L187.3 462.8L186.2 463.6L184.4 464.4L182.6 464L181 462.8L180.9 462.7L180 460.6L179.1 459.6L179.1 458.4L179.1 456.2ZM583.5 454.1L584.5 453L584.9 454.1L586 456.2L584.5 457.7L583.5 458.4L582.7 458.6L581.8 458.4L582.5 456.2L582.7 455.9ZM194.4 458.4L195 458.1L195.6 458.4L195 458.9ZM200 458.4L200.3 458.2L202 457.5L203.8 458L204.1 458.4L205.6 459.5L207.3 459.2L209.1 458.7L210 458.4L210.8 457.8L211.8 458.4L212.6 458.9L214.4 460.1L216.1 459.6L217.9 459.5L218.4 458.4L219.7 457.3L221.4 458.3L221.5 458.4L221.8 460.6L221.4 461L219.9 462.8L219.7 463.3L219.4 464.9L217.9 466.9L216.1 466.6L214.4 466.6L213.5 467.1L212.6 467.6L210.8 467.9L209.1 468.4L207.4 469.3L207.3 469.3L207.3 469.3L205.9 467.1L205.6 464.9L205.6 464.9L203.8 464L202 464.1L201.2 464.9L200.3 467.1L198.5 465.6L196.7 465.6L195.2 464.9L196.7 463L198.5 463.9L199 462.8L198.5 461.4L196.7 462.4L196.4 460.6L196.7 459.9L198.5 460.3ZM439.1 460.6L440 459.6L441.7 460.2L442.4 460.6L441.7 461L440.2 462.8L440 463.1L439.8 462.8ZM593 460.6L593.3 460L593.6 460.6L593.8 462.8L593.7 464.9L593.3 465.5L592.7 467.1L592.3 469.3L593 471.5L593.3 473.1L593.4 473.7L593.3 473.8L591.5 475.1L589.8 474.9L588 475.1L586.4 473.7L587.2 471.5L588 469.7L588.2 469.3L588.2 467.1L589.4 464.9L589.8 464.6L591.2 462.8L591.5 462.5ZM187.4 464.9L187.9 463.7L188.4 464.9L187.9 465.3ZM420.9 467.1L422.3 466.2L424.1 466.2L425.4 467.1L424.6 469.3L425.9 470L427.6 471.5L427.6 471.6L428.8 473.7L427.6 474.8L425.9 473.9L424.2 475.8L424.1 478L424.1 478.1L422.3 478.1L421.9 478L422.2 475.8L420.6 473.7L418.8 473.7L417.1 474.3L415.3 474.1L413.5 475.3L411.8 475.4L411.4 475.8L410 476.7L408.2 475.9L408.2 475.8L408.2 475.3L408.9 473.7L408.2 472.7L407.2 471.5L406.5 471.1L404.8 469.3L406.5 468L408.2 469L408.4 469.3L410 471.3L411.8 470.9L413.5 471.5L413.5 471.5L413.6 471.5L415.3 469.5L415.5 469.3L417.1 468L418.8 467.9L420.6 467.5ZM401 469.3L401.2 469.1L401.5 469.3L401.2 471.1ZM484.9 488.9L485.8 487.5L486.8 488.9L485.8 490.7ZM482.9 493.2L484 492.1L485.8 491.6L487 493.2L487.6 493.6L488.2 493.2L489.3 492.2L491.1 493.2L491.2 493.2L492.8 493.9L494.6 494.5L495.3 495.4L496.4 497L496.8 497.6L498.1 498.5L499.5 499.8L499.9 500.6L501.1 499.8L501.7 499.7L501.9 499.8L503.4 501.9L505.2 500.1L505.4 499.8L506.9 497.7L507.1 497.6L508.7 496.7L510.5 497.3L512 497.6L512.2 497.7L512.4 497.6L514 497.3L514.3 497.6L515.8 499.4L517.5 499.2L519.3 499.7L519.6 499.8L521 500.1L522.8 500.6L524.6 500.9L526.1 502L526.3 502.1L528.1 502.7L529.9 503.5L531.3 504.1L531.6 504.2L532.1 504.1L533.4 503.7L535.1 504.1L535.2 504.1L536.9 505.3L538.7 505.6L539.4 506.3L540.4 507.7L542.2 507.4L544 507.2L545.7 508.3L547.5 508.2L548.2 508.5L549.2 508.8L549.9 508.5L551 507.3L552.8 508.4L553.6 508.5L554.5 508.6L556.3 508.8L558.1 510.5L558.7 510.7L559.8 511.3L561.6 512.4L563.3 512.8L563.4 512.8L565.1 514.7L566.9 514L568.6 514.8L570.4 514.5L571.9 512.8L572.2 512.4L572.7 512.8L573.9 513.3L575.7 513.3L576.7 515L577.4 516.3L579.2 516.4L581 516.5L582.7 516.6L584.5 516.4L586.3 516L587.6 515L588 514.7L589.4 515L589.8 515.3L590.6 517.2L590.2 519.4L591.5 520L593.3 519.7L594.3 519.4L595.1 518.8L596.8 519.4L596.8 519.4L596.9 519.4L598.6 518.2L600.1 519.4L600.4 519.9L600.5 519.4L602.1 518.5L603.5 517.2L603.9 516.9L605.5 515L605.6 514.9L607.4 514.1L609.2 514.3L610.9 514.2L612.7 514.4L612.7 515L612.7 517.2L612.7 519.4L612.7 521.6L612.7 521.7L610.9 523.4L609.7 521.6L609.3 519.4L609.2 519.1L607.4 519.3L607.4 519.4L607.2 521.6L607.4 522.4L607.9 523.7L609.2 525.7L609.6 525.9L610.9 526.3L612.7 526.8L612.7 528.1L612.7 530.3L612.7 532.4L612.7 534.6L612.7 536.8L612.7 539L612.7 541.2L612.7 543L611.4 543.3L612.7 543.5L612.7 545.5L612.7 547.7L612.7 549.9L612.7 552L612.7 554.2L612.7 556.4L612.7 558.6L612.7 559.6L611.9 558.6L610.9 557.4L609.9 556.4L609.2 555.1L608.7 554.2L608.5 552L608 549.9L607.6 547.7L607.6 545.5L609.2 543.6L610.6 543.3L609.2 542.6L608.5 541.2L607.4 539.8L606.5 539L605.6 538.2L603.9 536.9L602.1 537.3L600.4 537.5L598.6 537.4L597.6 539L597.1 541.2L596.8 542.7L596.8 543.3L596.8 543.6L598.6 544.8L599.9 545.5L600.4 545.8L601.7 547.7L601.8 549.9L601.7 552L600.4 553.9L598.6 553.8L597.4 552L596.8 551.3L595.1 551.4L593.3 552L593.2 552L593.3 553.9L593.3 554.2L593.3 554.2L592.6 556.4L591.6 558.6L591.5 558.7L589.8 560.2L589.6 560.8L589.1 562.9L588 565L587.9 565.1L588 565.5L588.5 567.3L588.3 569.5L588 570.7L587.5 569.5L586.3 567.6L584.5 568.6L584.1 569.5L584.5 570.1L586.3 571.1L587.1 571.6L587.9 573.8L587 576L586.5 578.2L586.3 580.3L586.3 580.4L586.2 580.3L584.5 578.6L584.1 578.2L584.5 576.1L584.5 576L584.5 576L582.7 575.7L582.6 576L582.1 578.2L581 579.7L580.4 580.3L579.2 581.5L577.4 580.5L577.3 580.3L575.7 579.4L573.9 580.3L573.9 580.3L572.2 580.4L570.4 580.5L568.6 580.5L566.9 581L565.4 582.5L565.6 584.7L566.9 586.8L566.9 586.9L566.9 587.6L566.7 589.1L565.1 590.3L563.3 590.4L562.3 591.2L561.6 592.1L561.2 593.4L560.4 595.6L560.5 597.8L559.8 598.1L558.1 599.1L557 599.9L556.3 600.7L555.5 599.9L554.5 598.3L553.8 597.8L552.8 597.5L551 596.2L550.7 595.6L549.4 593.4L549.2 592.4L549.1 591.2L549.2 590.3L549.5 589.1L549.9 586.9L551 585.8L551.7 584.7L551.4 582.5L551 581.7L549.2 580.8L548.4 580.3L547.5 579.7L546.5 578.2L545.7 577.1L545.4 576L545.7 575L546.1 573.8L547.5 572.2L547.9 571.6L549.1 569.5L549.2 568.5L550.9 567.3L551 565.1L550.9 562.9L550.8 560.8L550.9 558.6L551 557L551.3 556.4L551 556.2L550.7 554.2L550.6 552L549.2 550.3L548.9 549.9L547.5 548.2L545.7 548.3L544 548.4L542.2 548.3L541.6 547.7L540.4 546.3L539.8 545.5L538.7 544.3L537.7 543.3L536.9 542.5L535.1 542.4L534.2 541.2L533.4 540.1L531.6 539.9L529.9 539.8L528.1 539.6L526.3 539.5L524.6 539.7L523.8 539L522.8 538.1L521 538L519.3 538L517.5 537.6L516.8 536.8L515.8 535.4L515.1 534.6L514 533.2L513.4 532.4L512.2 531.2L510.5 530.9L508.7 531L508.1 530.3L506.9 529.2L505.2 529.4L504.1 530.3L503.4 530.9L502.9 530.3L502.6 528.1L501.7 526.9L499.9 526.9L498.1 527L496.4 527.1L495.3 528.1L494.6 528.6L494.1 528.1L494.6 527.1L495.3 525.9L496.4 524.2L496.7 523.7L496.6 521.6L496.4 519.9L495.2 519.4L494.6 518.6L493.9 517.2L492.8 516.1L491.5 515L491.1 514.6L489.3 513.2L488.3 515L487.6 515.5L487 515L486.5 512.8L485.8 512L485 510.7L484 509.8L482.3 509.2L480.5 509L479.8 508.5L479.6 506.3L479.6 504.1L479.2 502L478.7 501.4L477 500.3L475.2 501.2L473.5 501.8L472.9 502L471.7 502.4L470.8 502L471.2 499.8L471.7 497.6L471.5 495.4L471.7 494.3L473.5 494.3L475.2 495.1L477 493.8L478.7 493.4L480.5 494.1L482.3 493.6ZM489.3 501.4L489.2 502L489.3 502.2L491.1 502.8L492.8 503.1L493.7 502L492.8 500.5L491.1 501ZM494.6 507.9L493.5 508.5L494.6 508.8L494.9 508.5ZM499.9 506.2L499.8 506.3L499.9 507.1L500 506.3ZM559.8 582.4L559.7 582.5L559.8 582.8L561.6 584.5L562.3 584.7L563.3 584.9L563.7 584.7L564.6 582.5L563.3 581.7L561.6 581.9ZM565.1 565L565 565.1L565.1 565.2L565.3 565.1ZM568.6 558.6L568.6 558.6L568.6 558.6L568.6 558.6ZM572.2 553.5L571.4 554.2L570.9 556.4L572.1 558.6L572.2 558.6L573.9 559.5L574.4 558.6L574.6 556.4L573.9 555.3L573 554.2ZM603.9 532L603.8 532.4L603.9 532.6L604.1 532.4ZM605.6 529.7L604.8 530.3L605.6 531.1L607.1 530.3ZM211.2 499.8L212.6 499.4L214.4 499.3L216.1 499.2L217.9 499.7L218 499.8L219.7 501.2L221.4 501.2L223.2 501.9L223.4 502L224.9 502.9L226.7 503.7L227.3 504.1L228.5 506L228.7 506.3L230.2 507.2L232 506.7L233.8 506.9L235.1 508.5L235.5 509.7L236.2 510.7L237.3 511.2L238.2 510.7L239 510L239.7 510.7L240.8 512.2L241.9 512.8L242.6 513.7L243.2 515L244.3 516.8L246.1 517.2L247.9 516.5L248.3 517.2L248.6 519.4L247.9 520.4L247.2 521.6L247.9 522.3L248.8 521.6L249.6 520.7L250.5 519.4L250.3 517.2L249.6 516.2L248.5 515L249.6 513.4L249.8 512.8L249.9 510.7L250.8 508.5L251.4 508.2L252.9 508.5L253.1 508.5L253.2 508.5L253.9 506.3L254.9 506.2L255.4 506.3L256.7 507.2L258.4 508.5L258.5 508.5L260.2 510.2L262 510L263.7 510.5L263.9 510.7L265.5 511.9L265.9 512.8L267.2 514.8L267.4 515L267.2 516.2L266.9 517.2L267.2 517.3L269 517.7L270.8 517.3L272.5 517.6L273.7 517.2L274.2 515L274.3 514.8L276.1 514.3L277.4 515L277.8 515.6L278.7 517.2L279.6 517.9L281.3 518.6L283.1 519.1L283.6 519.4L284.9 520.1L286.1 521.6L286.6 522.5L288.4 522.8L289.2 521.6L290.2 520.1L291.9 520.1L293.7 521.2L294.2 521.6L295.4 522.2L296.6 523.7L296.8 525.9L297.2 526.5L298.5 525.9L299 525.3L299.3 523.7L300.2 521.6L300.7 521.3L302.5 521.1L303.8 521.6L304.3 521.9L306 523L307.8 523.4L309.3 521.6L309.5 521.1L311.3 521.4L311.7 521.6L313.1 522.2L314.8 522.4L316 523.7L316.6 524.4L318.4 525.6L318.7 523.7L320.1 523L321.7 523.7L321.9 523.9L323.6 523.7L323.7 523.7L325.4 523.6L327.2 523.6L328.9 522.9L330.7 522.5L332.5 522.6L334.2 522.8L336 523.1L337.7 522.9L339.5 522.4L341.3 522L343 523.2L344.8 523.5L345.1 523.7L346.6 525.8L346.7 525.9L346.9 528.1L347.4 530.3L346.6 532.4L346.6 532.8L345.4 534.6L344.8 535.1L343 536.8L341.3 536.4L340.5 536.8L339.5 537.8L339.1 539L338.3 541.2L337.8 543.3L337.7 543.4L337 543.3L336 543.3L334.2 543.1L332.5 543.3L332.4 543.3L330.7 545.4L330.2 545.5L328.9 547L328.3 545.5L327.2 544.6L325.4 544.5L325.1 545.5L323.6 547.2L322.7 547.7L322.1 549.9L322.7 552L322.6 554.2L321.9 555.1L320.1 556.3L320.1 556.4L318.5 558.6L318.4 558.9L317.9 560.8L318.4 561.4L320.1 562L321.7 560.8L321.9 560.1L323.6 559.1L324.7 560.8L324.6 562.9L323.6 563.7L321.9 564.1L320.1 564.4L319.3 565.1L318.4 565.6L317.4 567.3L317.6 569.5L318.4 571.6L318.4 571.6L318.4 571.7L317.1 573.8L317.5 576L316.6 576.9L315.7 578.2L314.8 578.7L313.1 579.2L311.3 578.7L310.1 578.2L309.5 577.9L307.8 577L306 576.1L305.8 576L304.3 575.4L302.5 575.6L302 576L301.9 578.2L302 580.3L300.7 582.4L299.5 580.3L299 579.7L297.8 578.2L297.2 576.8L296.9 576L297.2 575.8L299 573.8L299 573.8L299.4 571.6L299 569.7L298.4 569.5L297.2 567.6L295.4 567.6L295.3 567.3L293.7 565.4L293.5 565.1L292.7 562.9L291.9 561.9L290.2 561.4L288.4 561L287.3 562.9L286.6 563.5L285.1 565.1L284.9 566.4L284.5 567.3L283.1 568.5L282.2 569.5L281.3 570.2L280.3 571.6L279.6 573L277.8 571.9L276.6 573.8L276.1 574L274.4 576L274.3 576.6L273.2 578.2L273.4 580.3L272.5 582.1L272.2 582.5L270.8 583.2L269.3 582.5L269.6 580.3L269 579.3L267.2 579.6L265.5 580L264 578.2L263.7 577.9L262 577.8L260.2 577.7L259.2 578.2L258.4 578.6L256.7 578.7L255.8 578.2L254.9 577.8L253.3 578.2L253.1 578.2L252.9 578.2L251.4 577.7L249.6 577.2L248.1 576L247.9 575.8L247.1 576L246.1 576.5L245.4 576L244.3 575.7L242.6 574.2L242 573.8L240.8 572.5L239.8 571.6L239 571.2L237.3 571.2L235.5 570.5L234.8 569.5L233.8 567.6L233.4 567.3L232 565.1L232 565.1L231.9 565.1L230.9 567.3L230.2 568.4L229.3 569.5L230.2 570.4L230.9 571.6L231.6 573.8L232 574.6L233.7 576L233.8 576.1L233.9 578.2L235 580.3L233.8 582.4L232 581.3L231.1 582.5L230.5 584.7L232 586L233.8 586.8L233.8 586.9L234.5 589.1L235.5 591.2L235.6 591.2L237.3 592.3L238.1 593.4L238.5 595.6L237.3 596.9L235.5 597.7L233.8 596.9L232.5 597.8L232 599.9L230.2 598.1L228.5 599.5L228.1 599.9L227.1 602.1L226.7 602.6L225.1 604.3L224.9 604.7L224.7 606.5L224.9 608.7L224.6 610.8L223.2 612.6L221.4 612.1L220.7 610.8L219.7 608.8L219.5 608.7L217.9 607.4L217.3 606.5L216.1 605.6L214.4 606L213 604.3L212.6 604.1L210.8 604.2L210.7 604.3L209.2 606.5L209.1 606.7L207.3 607.6L206.2 608.7L205.6 608.8L203.9 610.8L204.4 613L205.6 615.1L207.3 615L209.1 614L209.6 615.2L209.1 616.1L207.3 615.4L205.8 617.4L205.6 617.6L203.8 618.4L202 618.3L200.3 617.9L198.5 617.5L196.7 617.9L196.1 617.4L195.3 615.2L196.1 613L196.7 611.8L197.9 613L198.5 613.7L199 613L199.6 610.8L199.5 608.7L199.2 606.5L198.5 604.8L197.9 604.3L196.7 603.7L195.2 602.1L195 601.8L193.3 602.1L193.2 602.2L192.3 604.3L191.5 605.6L190.9 606.5L191.4 608.7L189.7 609.3L187.9 609.3L186.2 610.1L184.4 610.3L182.6 610.6L180.9 610.1L179.1 610.8L179.1 608.7L179.1 606.5L179.1 604.3L179.1 602.1L179.1 599.9L179.1 597.8L179.1 595.8L179.5 595.6L180.9 595L182.6 595.3L184.4 594.6L185.5 593.4L186.2 591.9L187.1 591.2L186.2 589.9L185.9 589.1L186.2 588.2L187.1 586.9L186.2 586.1L184.7 584.7L184.4 584.6L184.1 584.7L183.1 586.9L182.6 588.2L180.9 588.8L179.1 588.7L179.1 586.9L179.1 584.7L179.1 582.5L179.1 580.3L179.1 578.2L179.1 576L179.1 573.8L179.1 571.6L179.1 569.5L179.1 567.3L179.1 565.1L179.1 562.9L179.1 560.8L179.1 558.6L179.1 556.4L179.1 554.2L179.1 552L179.1 549.9L179.1 547.7L179.1 545.5L179.1 543.3L179.1 541.2L179.1 539L179.1 536.8L179.1 534.6L179.1 532.4L179.1 530.3L179.1 528.1L179.1 525.9L179.1 523.7L179.1 521.6L179.1 519.4L179.1 517.2L179.1 515L179.1 512.8L179.1 510.7L179.1 508.5L179.1 506.3L179.1 504.5L180 504.1L180.9 503.7L182.6 503.8L183.3 504.1L184.4 504.6L185.3 504.1L186.2 502.5L187.9 502.7L189.7 503.6L191.5 502.7L192.3 502L193.2 501L194.9 502L195 502L196.5 504.1L196.7 506.1L197 506.3L198.5 506.4L198.7 506.3L198.5 505.6L197.4 504.1L198.5 503.2L200.3 502.9L202 502.8L203.8 502.6L204.9 502L205.6 501.5L207.3 500.6L209.1 500.4L210.8 499.9ZM212.6 597.6L212.4 597.8L212.6 598L212.7 597.8ZM214.4 577.7L213.3 578.2L213.9 580.3L214.4 580.9L216.1 580.6L217.9 581.3L219 580.3L217.9 579.3L216.9 578.2L216.1 577.4ZM221.4 567.4L219.9 569.5L220.8 571.6L221.4 573.4L223.2 573.4L223.8 573.8L224.9 574.5L226 573.8L225.1 571.6L224.9 571.5L223.2 569.6L223.1 569.5ZM226.7 579.8L225.7 580.3L226.7 580.5L226.9 580.3ZM228.5 510.4L228.3 510.7L228.5 511.3L230.2 510.8L230.3 510.7L230.2 510.5ZM253.1 576L253.1 576L253.1 576.1L253.1 576ZM258.4 554L258 554.2L258.4 554.7L258.7 554.2ZM265.5 559.9L265.4 560.8L265 562.9L265.5 563.3L267.2 563.9L268.6 562.9L267.4 560.8L267.2 560.4ZM277.8 567.2L277.5 567.3L276.6 569.5L277.8 571.5L278.8 569.5L277.9 567.3ZM306 547.6L306 547.7L306 547.7L306.2 547.7ZM187.9 564.9L187.8 565.1L187.5 567.3L187.9 568.2L189.7 568.3L190.3 567.3L189.7 566.3L188.4 565.1ZM196.7 576.9L195 578.2L195.4 580.3L196.7 581L197.9 580.3L198.5 578.5L198.6 578.2L198.5 578.1ZM200.3 599.4L199.9 599.9L199.6 602.1L200.3 603.1L201.9 602.1L202 601.9L202.3 599.9L202 599.6ZM223.2 580.1L222.5 580.3L223.2 581L224 580.3ZM228.5 570.5L227.7 571.6L228.5 572.2L229.2 571.6ZM187.9 571.1L187.6 571.6L187.9 572.4L189.7 572.6L190 571.6L189.7 570.9ZM501.6 532.4L501.7 532.3L501.7 532.4L501.7 532.5ZM600.3 558.6L600.4 558.2L602.1 557.8L602.9 558.6L602.1 560.1L601.5 560.8L600.4 561.2L599.9 560.8ZM236.7 573.8L237.3 573.2L237.4 573.8L237.3 573.9ZM590.4 573.8L591.5 573.3L592.8 573.8L591.6 576L591.9 578.2L591.5 578.5L591.1 578.2L591 576ZM234.3 576L235.5 575.6L235.5 576L235.5 576ZM594.8 576L595.1 574L595.3 576L595.1 576.4ZM242 578.2L242.6 577.8L243.1 578.2L242.6 579.8ZM245.8 580.3L246.1 579.9L246.9 580.3L246.1 580.6ZM266.1 582.5L267.2 582L268.1 582.5L268.1 584.7L267.2 585.6L265.5 585.1L264.8 584.7L265.5 582.9ZM593 582.5L593.3 581L595.1 581L595.6 582.5L595.1 583.3L593.3 583.1ZM299.7 584.7L300.7 582.7L301.7 584.7L300.7 585.5ZM601.6 591.2L602.1 590.6L603.8 591.2L603.9 591.5L604.2 593.4L603.9 593.8L602.1 594.4L601.3 593.4ZM601.5 604.3L602.1 603.6L603.5 604.3L602.1 604.4ZM605.5 604.3L605.6 604.3L605.6 604.3L605.6 604.3Z"/>
<path fill="#ff3200" d="M270 412.7L270.8 411.9L271.1 412.7L270.8 413.2ZM611.1 419.2L612.7 417.3L612.7 419.2L612.7 421.4L612.7 422.1L611.2 421.4ZM605.5 423.6L605.6 423.4L606.3 423.6L607.4 424L608.2 425.7L607.4 427.3L605.6 427.4L604.4 425.7ZM609 434.5L609.2 434.1L609.6 434.5L609.2 434.8ZM610.2 449.7L610.9 449.3L612.7 448.8L612.7 449.7L612.7 451.9L612.7 452.5L611.2 451.9L610.9 451.5ZM609.1 454.1L609.2 454L609.2 454.1L610.9 454.8L612.7 456.1L612.7 456.2L612.7 456.3L610.9 457.2L609.9 458.4L610.6 460.6L609.2 460.9L608.8 460.6L607.4 459L606.4 458.4L605.8 456.2L607.4 454.5ZM484.8 499.8L485.8 498.7L486.2 499.8L486.6 502L487.1 504.1L485.8 505.7L484.3 504.1L484.7 502ZM507.7 502L508.7 501.5L509.6 502L510.5 502.8L512.2 503.1L514 502.6L515.8 503.3L517.5 503.8L519.3 502.6L521 503.2L521.9 504.1L522.8 504.8L524.5 506.3L524.6 506.5L525.1 508.5L526.3 509.2L528.1 509.4L528.7 508.5L529.9 507.7L531.6 507.9L532.6 508.5L533 510.7L532.7 512.8L532 515L533.4 516.1L535.1 515.3L536.9 515.6L538.7 516.3L539.8 517.2L538.7 519.2L538.6 519.4L538.7 519.5L540.4 519.5L540.5 519.4L542.1 517.2L542.2 517.2L544 515.3L544.3 515L545.7 513.5L547.5 512.9L549.2 513.6L551 514L552.2 515L552.8 515.3L554.5 516.5L556.3 516.5L558.1 517.1L558.6 517.2L558.1 518.1L557.6 519.4L556.3 521.5L556.3 521.6L556.2 523.7L556.3 523.9L556.6 523.7L558.1 523.5L559.8 521.6L559.9 521.6L559.8 521.3L558.9 519.4L559.8 518.5L561.6 518.7L562.8 519.4L563.3 520L564.4 521.6L565.1 522.9L566.9 523.2L567.4 523.7L568.6 524.2L570.4 525.7L571.4 525.9L572.2 526.1L572.5 525.9L573.9 524.4L574.5 523.7L575.7 522.8L577.4 523L578.3 521.6L579.2 520.9L581 519.6L582.7 519.8L584.5 520.6L586.3 520.9L588 521.3L588.4 521.6L589.8 522L591.5 523L592.5 523.7L593.3 525.1L593.7 525.9L593.6 528.1L593.3 529L592.4 530.3L591.5 532.3L591.5 532.4L591.5 532.5L592 532.4L593.3 532.2L593.5 532.4L593.3 532.9L592.9 534.6L593.1 536.8L592.1 539L591.5 540.4L591.3 541.2L591.5 541.6L593.3 543.1L593.4 543.3L593.3 543.8L591.5 544.4L590.4 545.5L589.8 546.9L588 546L587.6 545.5L586.3 544.9L585.4 545.5L584.5 546.1L582.7 546L581 545.8L579.2 547.6L577.4 547.4L575.7 546.5L574.4 545.5L573.9 544.7L572.2 544L570.4 544.1L568.6 544.3L566.9 545.5L566.9 545.9L566.7 547.7L566.3 549.9L565.1 550.9L563.8 552L563.3 552.4L561.6 552.8L560.9 552L560.7 549.9L559.9 547.7L559.8 547.6L558.1 545.9L557.9 545.5L557.3 543.3L556.3 542.4L554.5 542.3L552.8 542.9L551.7 543.3L551 543.5L549.2 544.4L548.1 543.3L547.5 542.8L547.1 543.3L546.7 545.5L545.7 546.2L544 545.8L543.3 545.5L542.2 544.9L540.5 543.3L540.4 543.1L538.7 543.3L536.9 541.5L535.1 541.3L535.1 541.2L533.5 539L533.4 538.8L531.6 538.1L529.9 537.6L529 536.8L528.1 535.3L526.3 536.1L525.9 536.8L524.6 538L522.8 537.2L521 537.1L519.3 536.9L518.6 536.8L517.5 535.5L516.9 534.6L515.8 532.9L515.4 532.4L514 530.5L513.6 530.3L512.2 529.4L510.5 528.2L510.4 528.1L508.7 526.8L507.3 528.1L506.9 528.2L505.2 528.4L503.4 528.4L503.4 528.1L501.9 525.9L501.7 525.6L501.2 525.9L499.9 526L498.1 526.1L496.4 526L496.3 525.9L496.4 525.7L497.7 523.7L497.7 521.6L497.6 519.4L497.1 517.2L498.1 515.9L499.5 515L499.9 514.5L501.1 512.8L501.7 512.6L503.1 510.7L503.4 509.7L504 508.5L504.7 506.3L505.2 506L506.8 504.1L506.9 503.6ZM508.7 506.3L508.4 506.3L508.7 506.4L508.7 506.3ZM547.5 532.3L547.1 532.4L547 534.6L547.5 535.1L548.1 534.6L548.1 532.4ZM552.8 522.4L551.5 523.7L552.8 525.7L553.2 523.7ZM554.5 527.8L554.3 528.1L554.5 528.2L554.7 528.1ZM579.2 523.7L579.1 523.7L579.2 523.8L579.2 523.7ZM205.6 504.1L205.6 504.1L207.3 503.6L209.1 503.7L210.8 503.8L212.6 503.8L213.2 504.1L213.8 506.3L212.9 508.5L214.4 510.3L214.7 510.7L216.1 511.5L217.3 510.7L217.9 509.3L219.7 510.1L220.5 510.7L221.4 511.3L223.2 512L223.9 512.8L224.7 515L224.8 517.2L224.9 517.5L226.7 517.6L228.5 518L229.1 517.2L230.2 516L231.5 517.2L231 519.4L232 519.8L233.8 520.3L235.5 521.6L235.5 521.6L236.6 523.7L235.5 525.1L235.1 525.9L235.5 527.3L236.6 528.1L236.7 530.3L236.6 532.4L237 534.6L237.3 535.6L237.5 536.8L237.6 539L239 540.1L240.7 539L240.8 538.9L242.3 536.8L242.6 536.5L243.2 534.6L242.8 532.4L244.3 530.7L244.9 530.3L246.1 528.9L247.9 529.4L249.6 529.3L251.4 529.1L252.2 528.1L252.6 525.9L253.1 525.2L254.9 525.1L255.1 525.9L254.9 526.9L254.4 528.1L253.1 529.4L252.5 530.3L253 532.4L253.1 532.7L254.2 532.4L254.9 532.2L255.4 532.4L256.7 532.8L258.4 534.4L260.2 533.5L262 533.1L263.7 534.5L263.8 534.6L265.5 536L266.8 536.8L267.1 539L266.6 541.2L265.5 542.8L263.7 543.2L262 543.3L261.7 543.3L260.2 544.3L258.8 545.5L258.4 546.6L257.8 545.5L256.7 545.1L254.9 544.5L253.1 544.3L251.4 544.2L249.6 544L247.9 544.3L246.8 545.5L246.1 545.9L244.3 545.7L242.6 546.1L241.4 545.5L240.8 545L239 544L238.6 543.3L237.3 541.6L235.5 541.3L233.8 541.5L232.1 543.3L232 545.5L232.7 547.7L233 549.9L232.3 552L232 552.4L230.2 553.6L229.3 554.2L228.5 555.1L227.4 556.4L226.7 556.8L225.8 556.4L226.7 554.7L227 554.2L227.1 552L226.7 551.7L224.9 551.7L224 552L223.2 552.9L222 554.2L222.5 556.4L221.7 558.6L221.4 559.2L219.7 560.7L219.1 558.6L219.7 557.7L220.6 556.4L220.9 554.2L219.7 553.1L217.9 552.1L217.7 552L216.1 551.9L216 552L214.4 553.6L212.6 553.5L211 554.2L210.8 554.3L210.7 554.2L209.1 553.5L207.3 552.2L207.1 552L205.6 550.1L205.1 549.9L203.8 549.4L203.2 549.9L202 551.6L201.9 552L202 552.9L202.2 554.2L203.8 555.9L204 556.4L204.2 558.6L204.4 560.8L203.8 562.3L203.4 562.9L202.5 565.1L202 565.5L200.3 565.3L199.8 565.1L199.2 562.9L198.6 560.8L198.5 560.5L196.7 559.4L195 560.1L193.3 560.8L193.2 560.8L193.2 560.8L192.1 558.6L192.4 556.4L193 554.2L192.8 552L191.5 551.4L191.1 552L189.7 553.9L189.3 554.2L187.9 555.5L186.6 556.4L186.2 556.6L184.7 558.6L184.4 559.2L183.1 560.8L183.3 562.9L182.6 563.9L182.1 562.9L180.9 561.4L179.1 562L179.1 560.8L179.1 558.6L179.1 556.4L179.1 554.2L179.1 552L179.1 549.9L179.1 547.7L179.1 545.5L179.1 543.3L179.1 541.2L179.1 539L179.1 536.8L179.1 534.6L179.1 532.4L179.1 530.3L179.1 528.1L179.1 525.9L179.1 523.7L179.1 521.8L179.5 521.6L180 519.4L180.7 517.2L179.1 516.9L179.1 515L179.1 512.8L179.1 510.7L179.1 508.5L179.1 507.4L180.9 507.6L182.6 507.5L183.7 508.5L184.4 510.7L184.4 510.7L184.4 510.7L185.9 508.5L186.2 508.4L186.3 508.5L187.9 509.6L189.7 509.9L190.2 510.7L190.1 512.8L191.5 514.6L193.2 514.4L194.7 512.8L195 511.5L196.7 510.9L198.5 512.8L198.5 512.9L200.3 514.9L201.3 512.8L201.4 510.7L202 509.9L203.8 510.1L205.6 510.7L205.6 510.7L205.6 510.7L207.3 510L207.9 508.5L207.3 508.2L205.6 507.2L205 506.3ZM209.1 542.9L208.4 543.3L209.1 544L209.3 543.3ZM217.9 547.5L217.8 547.7L217.9 548.1L218.6 547.7ZM223.2 539.5L222.4 541.2L223.2 541.7L224.9 541.4L225.5 541.2L224.9 540.8ZM182.6 516.2L180.9 517.2L181.8 519.4L182.6 519.8L184.4 519.4L184.7 519.4L186 517.2L184.4 515.8ZM191.5 521.1L191.2 521.6L189.7 523.5L187.9 523.1L187.5 523.7L187.4 525.9L187.9 526.5L189.7 526.9L190.1 525.9L191.5 524.2L193.2 523.8L195 523.7L195 523.7L195 523.7L193.2 523.5L192 521.6ZM233.3 515L233.8 514.9L235.5 514.4L237 515L235.5 516.9L233.8 515.3ZM276 525.9L276.1 525.8L276.1 525.9L276.1 525.9ZM237.5 528.1L239 527.2L239.9 528.1L239 529.9ZM286.3 528.1L286.6 527.7L287.2 528.1L286.6 528.5ZM334.1 536.8L334.2 536.6L334.3 536.8L334.2 537ZM289.7 543.3L290.2 542.1L291.7 543.3L290.2 543.8ZM296 543.3L297.2 542.3L298.6 543.3L299 544L299.5 545.5L299 546.4L297.2 545.6L297 545.5ZM314 547.7L314.8 546.7L316.4 547.7L316.6 548.2L316.8 549.9L316.6 550.1L314.8 550.2L314.1 549.9ZM311.3 558.6L311.3 558.3L313.1 558.2L313.2 558.6L313.4 560.8L313.1 561.5L311.6 560.8L311.3 558.9ZM258.9 560.8L260.2 560.5L260.4 560.8L260.2 561ZM308.1 562.9L309.5 561.7L310.4 562.9L309.5 564.2ZM218.5 599.9L219.7 598.5L221.4 599L222.3 599.9L221.4 601.4L220.6 602.1L219.7 602.7L217.9 602.6L217.6 602.1L217.9 601Z"/>
<path fill="#e11400" d=""/></g>
<path d="M250.5 223V833M321.0 223V833M391.5 223V833M462.0 223V833M532.5 223V833M603.0 223V833M180 788.3H610M180 744.8H610M180 701.2H610M180 657.6H610M180 614.1H610M180 570.5H610M180 527.0H610M180 483.4H610M180 439.9H610M180 396.4H610M180 352.8H610M180 309.2H610M180 265.7H610" stroke="#8f9aa0" stroke-width="1.5" stroke-dasharray="2 6.7" fill="none" opacity=".45"/>
<path filter="url(#rough3)" d="M176.5 265.7L181.1 267.0L185.3 269.6L188.8 271.8L192.3 273.5L195.5 276.2L199.0 279.6L202.2 283.1L206.1 286.2L210.7 287.9L213.8 290.5L216.0 293.6L219.5 297.1L222.3 300.1L223.4 303.2L225.1 305.8L230.8 308.4L235.0 311.0L239.2 312.7L241.3 315.3L242.0 320.1L240.3 321.4L240.6 317.5L237.8 317.1L233.9 316.2L235.3 321.4L236.4 325.4L236.4 331.9L235.3 337.1L234.6 340.6L235.7 345.0L235.3 350.6L237.1 355.4L238.9 359.3L241.0 361.9L242.7 363.3L241.7 364.1L243.4 366.7L244.2 368.9L246.3 372.0L248.0 374.6L248.4 376.8L252.6 378.1L255.8 378.9L256.8 380.2L259.7 382.8L260.7 385.5L262.1 388.9L264.2 393.3L265.3 397.2L268.8 400.3L271.3 403.8L268.1 405.9L271.3 409.0L274.1 410.7L277.3 413.3L278.3 418.6L281.2 421.6L284.7 424.7L286.1 427.3L287.5 426.0L287.2 422.5L284.7 421.6L283.3 418.1L281.2 413.8L279.1 409.4L276.2 405.1L273.8 400.7L270.9 396.4L269.2 392.0L268.8 388.9L273.1 390.7L275.2 394.2L276.9 398.1L278.7 401.1L281.2 404.2L283.6 405.9L286.1 409.4L287.9 412.9L290.3 416.4L293.5 420.7L297.7 425.1L300.6 428.6L302.0 432.9L301.3 437.7L303.0 441.6L305.8 444.3L308.7 447.3L313.2 449.0L317.5 452.1L321.4 453.8L326.3 456.4L331.6 457.8L335.1 458.6L337.9 456.9L341.1 456.4L343.9 459.5L348.1 463.4L351.7 466.5L356.2 468.2L361.2 469.5L364.0 469.1L365.1 470.8L367.9 474.3L371.1 478.7L371.1 482.1L373.2 484.8L374.9 484.8L377.4 486.5L378.8 489.5L380.9 491.3L382.7 490.9L385.5 492.2L388.0 495.2L390.1 495.2L391.5 493.5L390.1 491.3L392.6 488.7L395.0 487.8L397.1 490.4L397.8 493.9L399.6 495.6L400.3 498.7L400.7 503.0L400.3 507.4L401.4 510.5L399.6 515.2L396.4 516.5L395.7 519.6L392.6 522.6L391.1 524.8L389.7 529.2L388.3 531.4L388.7 535.7L388.0 536.6L390.4 538.3L391.9 537.0L390.8 541.4L388.3 543.1L386.9 547.0L387.3 550.1L388.3 552.7L391.5 556.2L393.3 559.7L395.7 564.9L398.5 570.5L401.4 578.4L403.8 583.6L404.5 587.5L407.4 592.3L411.6 596.2L416.2 598.9L420.4 601.9L422.2 604.1L425.3 606.7L426.0 611.9L426.4 616.3L426.0 622.8L425.0 629.3L424.6 635.9L423.9 642.4L422.2 651.1L421.5 657.6L421.1 666.4L420.8 670.7L419.7 677.2L416.9 683.8L415.5 688.1L414.1 692.5L415.1 699.0L413.7 703.4L413.4 708.6L416.5 708.2L417.2 711.2L416.2 716.4L415.1 720.8L413.4 725.2L410.9 727.3L407.0 730.4L410.9 733.9L408.1 738.2L407.4 744.8L409.1 751.3L410.9 755.6L414.4 759.1L418.6 760.9L423.2 761.3L423.6 757.8L426.8 755.6L432.4 755.2L430.3 752.2L430.3 748.7L432.0 744.8L434.9 741.7L436.6 738.2L441.2 735.2L441.6 732.6L438.4 730.4L435.6 727.8L436.3 724.3L441.9 723.0L443.3 719.5L444.4 715.6L446.8 713.8L449.3 713.0L449.0 710.8L446.1 711.2L444.4 707.7L444.4 704.7L448.6 706.0L452.1 705.6L454.2 703.8L453.9 699.0L454.9 696.4L460.2 696.0L467.3 694.7L470.8 692.5L473.3 687.7L473.6 685.1L471.5 682.9L471.5 680.3L467.6 677.2L467.6 675.1L469.8 676.8L475.4 679.0L479.6 679.0L483.1 676.4L485.3 673.8L488.1 670.7L489.8 666.8L493.0 663.3L495.1 659.8L497.2 655.5L500.1 651.6L502.2 648.1L502.2 642.4L502.5 638.9L505.0 635.9L508.5 632.8L510.3 631.5L514.2 630.2L516.6 628.0L521.2 627.2L525.5 627.2L527.2 625.0L529.0 622.8L529.3 619.8L531.4 615.4L533.2 612.4L533.6 606.7L535.7 604.1L536.0 598.9L536.0 592.3L536.0 588.0L536.4 584.9L537.8 583.6L539.9 580.6L542.0 576.6L545.2 572.7L547.7 569.2L549.8 565.8L550.5 562.3L550.8 557.9L550.1 554.4L549.1 549.6L545.5 549.2L542.4 547.9L540.3 546.2L537.8 543.1L534.3 540.5L530.7 539.2L527.2 539.6L523.7 538.8L520.2 537.5L517.3 538.3L516.3 536.6L514.9 533.5L511.3 531.8L507.8 530.0L504.3 530.0L502.5 533.1L501.5 534.0L500.8 532.2L502.9 528.3L499.0 527.0L495.5 527.0L494.8 529.6L492.7 532.2L493.7 527.0L497.2 523.5L497.6 519.6L494.8 517.0L493.7 511.8L492.0 507.8L489.1 505.7L485.6 503.0L483.1 501.7L478.9 500.9L474.3 501.3L471.9 501.3L470.8 499.6L468.3 497.4L466.9 494.8L462.7 490.9L459.5 489.5L456.4 484.3L453.9 483.4L452.5 481.7L455.3 480.4L451.4 480.4L447.2 481.3L445.4 482.6L442.6 482.6L440.1 480.8L437.3 480.8L433.8 481.3L432.4 478.2L427.8 476.9L426.0 474.3L425.7 476.0L423.2 479.1L421.1 480.0L420.1 478.2L422.2 475.6L421.5 473.0L419.0 475.2L415.5 477.8L411.9 477.8L409.5 478.7L407.4 481.7L406.7 485.6L404.5 487.8L402.4 490.0L402.8 492.2L401.0 489.5L398.9 486.9L395.4 485.6L392.9 485.2L391.5 486.9L388.7 488.2L386.2 488.7L383.7 487.4L382.3 485.6L380.9 483.4L378.8 479.5L378.5 475.6L378.8 471.7L379.5 466.0L380.2 461.7L377.4 459.5L373.9 457.8L370.4 457.8L366.8 458.2L363.7 458.2L361.2 458.2L360.1 457.8L362.2 455.1L362.6 450.8L363.3 446.4L365.1 442.1L365.4 438.6L367.5 434.7L366.1 433.4L362.6 432.9L358.0 434.2L355.2 435.5L354.5 439.9L353.8 442.9L351.0 446.0L347.4 446.0L342.9 446.9L340.4 447.7L337.9 445.6L335.1 443.8L333.7 440.8L330.9 436.4L330.2 433.4L328.8 429.9L328.8 424.7L329.5 420.3L330.5 415.9L330.9 413.8L330.2 409.4L330.9 405.9L334.0 402.9L337.6 400.7L339.3 399.0L342.1 397.7L345.7 397.2L349.2 398.1L351.7 399.4L355.2 400.3L358.4 400.7L359.4 399.8L358.0 397.7L358.0 395.5L361.5 394.6L366.1 394.6L370.4 394.6L372.8 397.7L376.3 395.9L379.2 398.5L381.6 401.6L382.0 405.9L383.7 410.3L385.2 412.9L387.3 416.8L389.0 417.7L390.4 415.9L391.5 410.7L389.7 404.2L388.0 399.4L386.6 394.6L386.9 390.7L388.3 387.6L391.9 384.6L395.0 381.1L398.5 379.4L402.1 375.9L403.8 375.9L407.0 373.7L406.3 370.2L405.6 366.3L404.5 363.7L404.2 360.2L403.8 356.3L405.6 359.3L406.0 364.6L408.4 360.6L408.8 358.0L407.4 355.4L409.5 357.2L411.9 354.1L412.6 351.1L413.0 349.8L417.9 348.9L419.7 348.4L416.2 347.6L419.7 347.1L421.8 346.3L424.3 345.8L426.8 345.4L426.0 343.9L424.6 344.1L423.2 342.8L424.3 339.7L426.0 337.1L430.3 335.4L433.8 333.6L437.3 331.9L440.8 330.2L445.1 328.0L446.1 329.7L441.6 332.8L440.1 336.3L442.6 337.6L446.8 334.1L449.7 332.8L454.9 331.0L458.5 329.7L462.0 327.1L462.7 325.8L460.6 322.3L456.7 327.5L452.5 328.0L448.6 326.7L446.1 325.4L445.1 322.3L444.4 318.8L439.8 318.0L445.1 317.1L447.2 314.5L444.4 312.7L439.1 313.2L433.8 315.3L428.5 318.4L425.0 321.4L422.5 323.2L426.0 319.7L428.5 317.1L432.0 313.6L436.3 311.9L439.4 308.4L447.9 307.9L454.9 307.9L462.0 307.9L466.2 304.0L472.6 302.7L476.1 300.5L477.2 297.5L476.8 294.0L472.6 291.8L469.1 288.3L463.8 286.2L460.2 283.1L456.7 278.8L454.9 274.4L451.4 270.1L447.9 265.7L446.1 264.4L442.6 267.9L439.1 270.9L433.8 272.2L428.5 270.1L428.5 265.7L426.8 261.3L421.5 259.2L417.9 257.0L412.6 255.7L405.6 255.2L400.3 254.8L397.8 255.7L398.5 259.2L399.3 262.7L398.5 267.9L396.8 270.9L400.3 273.5L402.8 276.6L403.8 280.9L400.3 284.0L395.0 287.5L392.6 288.8L394.3 291.8L395.0 296.2L395.7 299.7L393.3 302.7L389.7 303.6L388.0 300.5L383.7 296.6L383.7 291.8L383.4 287.0L377.4 286.2L370.4 284.4L363.3 280.9L356.2 278.8L349.2 278.8L347.4 276.6L345.7 272.2L341.4 270.9L339.3 265.7L341.4 261.3L345.7 257.0L351.0 252.6L354.5 250.5L359.8 248.3L365.1 247.0L368.6 241.7L370.4 237.4L373.9 238.3L379.2 238.7L384.4 236.1L386.9 230.9L386.2 225.6L380.9 223.0L373.9 223.0L372.1 226.5L368.6 230.9L365.1 233.0L361.5 228.7L356.2 226.5L352.7 223.5L347.4 221.3M176.5 223.9L185.3 225.6L192.3 226.9L197.6 224.8L202.9 224.8L208.2 223.0L215.2 221.3M222.3 221.3L227.6 224.3L234.6 224.8L239.9 223.0L248.7 224.8L259.3 226.9L268.1 231.3L278.7 232.2L289.3 231.3L292.8 228.7L299.9 227.4L308.7 230.9L319.2 231.7L326.3 229.1L333.3 233.0L336.9 228.7L335.1 225.2L340.4 221.3M259.3 221.3L264.6 224.8L273.4 228.2L285.8 227.8L299.9 225.6L313.9 226.5L315.7 221.3M322.8 226.5L331.6 228.2L335.8 225.2L328.0 222.6L322.8 226.5ZM432.0 221.3L437.3 225.2L446.1 230.9L454.9 235.2L456.7 237.4L453.2 241.3L447.9 243.5L449.7 247.0L445.1 250.9L446.1 254.4L440.8 257.0L439.1 252.6L432.0 249.6L435.6 254.4L428.5 254.8L421.5 251.3L417.9 248.3L410.9 246.1L400.3 247.0L398.5 243.9L409.1 242.6L414.1 237.4L417.9 233.0L412.6 229.6L405.6 226.5L396.8 221.3M366.8 242.6L372.8 240.4L376.3 242.6L384.4 244.8L388.0 248.3L389.7 250.5L380.9 250.9L372.1 251.3L366.8 248.3L366.8 242.6ZM379.2 254.8L385.2 253.1L390.8 256.6L382.7 257.0ZM390.4 253.9L394.0 256.1L391.5 258.3ZM391.5 280.9L395.0 283.1L393.3 279.6ZM384.4 296.2L388.7 297.5L386.2 295.3ZM400.3 229.6L407.4 233.0L403.8 234.3L398.5 232.6ZM391.5 223.5L396.8 226.5L393.3 228.7ZM481.4 221.3L490.2 224.3L493.7 225.6L493.7 227.8L486.7 229.1L484.6 233.9L485.6 238.7L489.1 243.1L490.9 247.4L495.1 251.8L498.3 256.1L502.5 260.5L509.6 263.1L514.9 264.8L518.8 266.1L521.6 264.4L523.0 260.5L525.5 255.7L529.7 250.9L531.8 246.1L534.3 242.6L540.3 240.9L546.6 239.6L553.6 237.4L560.7 233.0L569.5 230.0L580.1 228.2L588.9 224.8L594.2 221.3M481.4 225.2L486.7 225.2L490.2 222.6L483.1 221.3ZM613.6 250.5L606.5 250.9L601.2 250.0L593.8 249.2L596.0 247.0L589.6 244.8L595.2 243.5L587.5 241.7L591.7 238.7L594.5 237.8L597.7 241.3L601.9 239.6L608.3 239.1L613.6 238.7M464.5 319.7L466.9 316.2L468.3 312.3L471.2 307.1L474.3 303.6L477.9 302.3L476.8 305.8L474.0 309.2L476.1 311.0L479.6 311.4L483.1 311.9L484.9 314.9L486.7 316.2L487.7 320.1L486.7 323.6L483.9 322.8L482.8 319.7L479.6 322.8L476.8 321.9L476.1 319.7L470.8 319.7L464.5 319.7ZM446.5 309.7L452.1 311.0L456.0 313.2L451.4 312.3ZM446.8 322.8L451.4 324.9L454.9 324.9L451.4 325.8ZM238.9 316.2L233.6 315.3L229.3 312.3L223.0 308.8L220.9 305.8L225.8 306.6L231.8 309.2L236.4 312.7L238.9 316.2ZM211.7 300.5L207.1 296.2L204.7 291.4L209.3 291.8L208.6 295.3L211.7 300.5ZM374.2 431.6L377.4 428.1L380.9 426.8L383.4 426.0L388.0 426.4L391.5 427.3L395.0 429.4L398.5 430.3L402.1 432.9L405.6 434.7L409.1 436.9L411.9 439.0L409.1 440.3L405.6 440.3L399.6 440.8L401.4 437.7L398.5 436.9L396.1 433.4L391.5 432.5L388.0 431.2L384.4 429.4L381.3 428.6L379.2 430.3L376.3 432.1L374.2 431.6ZM380.6 431.6L382.3 433.4L381.3 433.8ZM411.2 446.0L414.4 446.4L418.3 446.0L416.9 443.4L414.8 440.8L417.9 440.3L421.5 440.3L425.0 440.8L427.1 441.6L429.6 442.9L431.3 444.7L432.4 446.0L431.3 447.7L427.1 446.9L424.3 447.3L421.5 449.9L419.7 447.7L416.2 447.7L411.2 447.3L411.2 446.0ZM397.1 447.3L400.3 446.4L404.5 448.2L404.9 449.0L401.4 449.5L397.8 448.2ZM436.6 446.4L441.9 446.9L441.9 448.6L436.6 448.6ZM455.3 480.4L458.5 480.0L458.5 483.0L455.3 483.0ZM421.1 480.0L419.7 484.3L420.8 486.9L423.2 486.9L423.2 482.1L421.8 479.5ZM349.2 323.6L353.4 322.8L357.7 318.4L361.9 315.8L368.6 314.9L373.9 318.4L375.3 322.8L374.2 324.5L370.4 324.1L365.1 324.5L362.6 322.3L363.7 320.6L359.8 322.8L354.5 324.1L349.2 323.6ZM364.7 345.4L364.0 339.7L365.1 334.1L363.3 332.8L366.8 328.4L371.8 326.7L374.6 327.5L372.1 331.0L369.3 335.4L368.6 339.7L369.3 344.1L366.8 345.4L364.7 345.4ZM374.9 327.1L379.2 326.2L384.4 326.2L388.7 328.4L391.9 331.9L387.3 332.3L385.5 337.6L383.0 339.7L382.3 336.3L378.5 336.7L379.9 333.2L379.5 330.2L374.9 327.1ZM379.5 345.4L382.7 346.7L385.5 346.3L391.5 343.2L395.4 340.6L391.5 341.0L386.2 341.5L382.7 344.1L380.2 344.1L379.5 345.4ZM392.2 338.4L395.0 338.4L400.3 338.4L404.5 337.6L404.5 334.9L400.3 335.4L394.0 336.7ZM432.0 832.7L434.5 826.6L437.3 821.4L442.3 817.0L447.2 811.8L454.2 808.8L461.3 805.7L469.1 803.5L473.3 802.7L469.8 806.6L462.0 809.2L456.7 812.7L453.2 816.6L446.1 819.7L442.6 824.0L447.9 827.5L454.9 832.7M417.9 832.7L421.5 828.8L426.0 827.1L429.2 830.5L428.5 832.7M430.6 821.8L434.9 819.7L433.1 818.3ZM432.4 756.1L428.5 756.1L425.0 757.8L425.3 761.3L421.5 763.0L419.7 764.3L425.0 767.0L432.0 768.7L436.3 770.4L440.8 767.4L443.7 765.2L439.1 762.6L435.2 761.3L433.1 758.3L432.4 756.1ZM413.0 709.0L411.9 715.1L414.4 715.6L414.4 709.9L413.0 709.0Z" fill="none" stroke="#000" stroke-width="2.5" stroke-linejoin="round" stroke-linecap="round"/><g fill="#000"><ellipse cx="463.4" cy="469.5" rx="1.0" ry="1.0"/><ellipse cx="445.1" cy="449.9" rx="1.0" ry="1.0"/><ellipse cx="430.3" cy="473.9" rx="1.0" ry="1.0"/><ellipse cx="426.8" cy="472.6" rx="1.0" ry="1.0"/><ellipse cx="432.7" cy="473.9" rx="1.0" ry="1.0"/><ellipse cx="447.9" cy="479.1" rx="1.0" ry="1.0"/><ellipse cx="460.2" cy="800.5" rx="2.0" ry="1.0"/><ellipse cx="463.8" cy="798.8" rx="2.0" ry="1.0"/><ellipse cx="468.0" cy="797.0" rx="2.0" ry="1.0"/><ellipse cx="457.4" cy="800.9" rx="2.0" ry="1.0"/><ellipse cx="478.9" cy="793.1" rx="2.0" ry="1.0"/><ellipse cx="449.7" cy="808.3" rx="2.0" ry="1.0"/><ellipse cx="453.2" cy="806.6" rx="2.0" ry="1.0"/><ellipse cx="513.1" cy="790.9" rx="2.5" ry="1.2"/><ellipse cx="354.1" cy="826.6" rx="1.2" ry="1.2"/><ellipse cx="462.4" cy="752.2" rx="3.6" ry="2.4"/><ellipse cx="466.9" cy="752.2" rx="3.4" ry="2.4"/><ellipse cx="543.8" cy="763.9" rx="4.0" ry="1.5" transform="rotate(-25 543.8 763.9)"/><ellipse cx="578.0" cy="772.2" rx="0.9" ry="0.9"/><ellipse cx="579.7" cy="775.7" rx="0.9" ry="0.9"/><ellipse cx="580.4" cy="778.7" rx="0.9" ry="0.9"/><ellipse cx="580.1" cy="781.8" rx="0.9" ry="0.9"/><ellipse cx="578.7" cy="784.4" rx="0.9" ry="0.9"/><ellipse cx="576.9" cy="786.1" rx="0.9" ry="0.9"/><ellipse cx="574.4" cy="773.9" rx="0.9" ry="0.9"/><ellipse cx="352.7" cy="529.6" rx="3.2" ry="2.6"/><ellipse cx="355.2" cy="529.6" rx="1.5" ry="1.5"/><ellipse cx="358.0" cy="530.9" rx="1.2" ry="1.2"/><ellipse cx="351.0" cy="528.3" rx="1.2" ry="1.5"/><ellipse cx="445.3" cy="386.3" rx="1.3" ry="1.0"/><ellipse cx="180.0" cy="565.8" rx="1.0" ry="1.0"/><ellipse cx="181.4" cy="567.9" rx="1.0" ry="1.0"/><ellipse cx="183.5" cy="569.7" rx="1.0" ry="1.0"/><ellipse cx="184.2" cy="572.7" rx="1.0" ry="1.0"/><ellipse cx="179.6" cy="567.9" rx="1.0" ry="1.0"/><ellipse cx="183.5" cy="596.7" rx="1.0" ry="1.0"/><ellipse cx="185.3" cy="603.2" rx="1.0" ry="1.0"/><ellipse cx="190.6" cy="605.4" rx="1.0" ry="1.0"/><ellipse cx="192.3" cy="607.6" rx="1.0" ry="1.0"/><ellipse cx="184.2" cy="609.7" rx="1.0" ry="1.0"/><ellipse cx="185.3" cy="617.6" rx="1.0" ry="1.0"/><ellipse cx="193.0" cy="620.6" rx="1.0" ry="1.0"/><ellipse cx="197.6" cy="627.6" rx="1.0" ry="1.0"/><ellipse cx="199.4" cy="628.5" rx="1.0" ry="1.0"/><ellipse cx="214.9" cy="636.3" rx="1.0" ry="1.0"/><ellipse cx="233.6" cy="634.6" rx="1.0" ry="1.0"/><ellipse cx="287.9" cy="645.0" rx="1.0" ry="1.0"/><ellipse cx="181.8" cy="621.5" rx="1.0" ry="1.0"/><ellipse cx="182.8" cy="611.9" rx="1.0" ry="1.0"/><ellipse cx="395.7" cy="673.3" rx="1.0" ry="1.0"/><ellipse cx="388.7" cy="674.2" rx="1.0" ry="1.0"/><ellipse cx="288.6" cy="482.1" rx="1.0" ry="1.0"/><ellipse cx="282.2" cy="445.1" rx="1.0" ry="1.0"/><ellipse cx="256.5" cy="400.7" rx="1.0" ry="1.0"/><ellipse cx="298.8" cy="433.4" rx="1.0" ry="1.0"/><ellipse cx="366.8" cy="503.0" rx="1.0" ry="1.0"/><ellipse cx="385.9" cy="509.6" rx="1.0" ry="1.0"/></g><g filter="url(#rough)"><g fill="none" stroke="#000" stroke-linecap="round" stroke-linejoin="round"><path d="M181.8 266.1L191.0 271.6L200.2 277.1L207.6 284.5L214.9 291.9" stroke-width="7.5"/><path d="M214.9 291.9L222.3 299.2L227.8 306.6L235.1 312.1L240.5 317.0" stroke-width="6.0"/><path d="M226.9 232.1L233.3 233.5L240.7 235.5L249.9 235.0L258.5 236.5" stroke-width="3.5"/><path d="M233.0 236.0L240.0 239.5L247.0 241.5L254.0 242.5L258.0 240.0" stroke-width="3.5"/><path d="M253.5 259.7L266.4 256.9L279.3 253.3L290.3 249.6L297.6 247.7" stroke-width="3.2"/><path d="M257.2 261.8L275.6 258.8L290.3 255.1" stroke-width="2.5"/><path d="M271.9 271.6L288.5 268.0L305.0 267.0L312.4 268.0" stroke-width="2.6"/><path d="M180.0 225.5L207.0 226.5" stroke-width="3.5"/><path d="M264.6 226.0L290.0 227.0L330.0 227.5" stroke-width="5.0"/><path d="M272.0 228.0L285.0 232.0L298.0 236.5" stroke-width="4.0"/><path d="M308.7 236.0L319.7 237.0" stroke-width="2.8"/><path d="M316.0 240.4L330.0 240.4" stroke-width="2.5"/><path d="M314.0 245.5L329.0 245.5" stroke-width="2.8"/><path d="M313.0 251.0L319.0 254.0L325.0 256.0" stroke-width="3.5"/><path d="M297.6 252.3L303.0 258.0L308.7 263.4" stroke-width="2.8"/><path d="M316.0 260.0L322.0 264.0L327.0 267.0" stroke-width="3.0"/><path d="M331.0 286.0L325.5 292.0L324.6 301.0L327.0 308.0" stroke-width="3.0"/><path d="M320.0 240.0L333.0 247.0L350.0 247.0L368.0 243.0" stroke-width="3.0"/><path d="M320.0 226.0L331.0 229.0L344.0 226.0" stroke-width="3.5"/><path d="M320.0 281.0L329.0 276.0" stroke-width="2.5"/><path d="M319.5 326.0L321.5 331.0L324.5 337.0" stroke-width="2.8"/><path d="M489.0 533.0L494.0 529.5L500.0 528.5L502.0 531.5L497.0 534.5L489.0 533.0" stroke-width="3.0"/><path d="M415.5 706.0L412.5 716.0L411.5 725.0L411.0 742.0L414.0 752.0" stroke-width="7.5"/><path d="M414.0 752.0L419.0 760.0L427.0 765.5L437.0 767.5" stroke-width="8.0"/><path d="M437.0 767.5L449.0 765.5" stroke-width="2.6"/><path d="M484.5 672.0L489.0 667.0L494.0 659.0" stroke-width="3.6"/><path d="M479.3 803.0L466.0 805.3L452.8 809.7L441.8 816.3L433.0 821.8L424.0 828.5" stroke-width="6.5"/><path d="M444.0 823.0L450.0 826.0L455.0 828.5" stroke-width="3.5"/><path d="M456.0 799.5L463.0 798.5L470.5 797.6" stroke-width="2.6"/><path d="M477.0 794.0L483.7 793.0" stroke-width="2.2"/><path d="M420.0 829.0L408.0 831.5" stroke-width="3.0"/><path d="M320.0 227.5L327.4 229.4L336.5 230.3L343.9 227.5" stroke-width="4.0"/><path d="M320.0 244.4L331.0 245.0" stroke-width="2.5"/><path d="M332.9 245.9L349.4 247.7L366.0 244.0L375.1 237.6L382.5 233.0" stroke-width="3.6"/><path d="M354.0 228.5L362.0 229.5L368.0 226.0" stroke-width="3.0"/><path d="M393.5 230.3L402.7 227.5L415.6 226.6L423.0 229.4" stroke-width="4.0"/><path d="M423.0 235.8L437.6 237.6L448.7 240.4L457.9 236.7" stroke-width="3.4"/><path d="M430.0 242.5L448.0 245.5" stroke-width="3.0"/><path d="M436.0 228.0L445.0 232.0L452.0 229.0" stroke-width="3.5"/><path d="M446.8 263.4L451.0 270.0L456.0 275.3L461.0 281.0L467.0 286.3" stroke-width="3.8"/><path d="M369.0 237.0L374.0 241.0L380.0 238.0" stroke-width="4.0"/><path d="M377.0 250.0L383.0 255.0" stroke-width="4.0"/><path d="M451.5 448.6L455.7 453.0L457.4 460.0L458.5 466.0L457.8 469.5L456.0 474.3" stroke-width="2.3"/><path d="M572.5 357.5L577.0 356.5L580.0 358.5" stroke-width="1.8"/><path d="M394.5 410.3L399.4 410.9L397.6 415.8L398.8 420.7" stroke-width="2.4"/><path d="M400.6 409.7L402.5 413.4" stroke-width="2.2"/><path d="M402.5 415.2L404.9 421.3L410.4 425.0L416.6 429.9L422.7 431.8" stroke-width="2.3"/><path d="M408.0 421.5L411.5 422.5" stroke-width="2.0"/><path d="M413.5 434.2L416.6 435.4" stroke-width="2.4"/><path d="M405.5 353.5L403.0 360.5L405.5 365.0" stroke-width="4.2"/><path d="M401.0 372.6L407.3 370.8" stroke-width="3.2"/><path d="M418.0 346.0L427.0 344.5" stroke-width="3.0"/><path d="M486.0 226.0L486.5 232.0L487.0 238.0" stroke-width="7.5"/><path d="M487.0 238.0L491.0 246.0L497.0 254.5" stroke-width="5.0"/><path d="M497.0 254.5L503.0 260.0L511.0 263.5" stroke-width="3.6"/><path d="M519.6 265.8L525.2 252.8L533.5 243.0L541.0 240.0" stroke-width="3.4"/><path d="M588.0 246.0L594.0 248.5L602.0 248.0" stroke-width="2.8"/><path d="M464.5 319.7L466.9 316.2L468.3 312.3L471.2 307.1L474.3 303.6L477.9 302.3L476.8 305.8L474.0 309.2L476.1 311.0L479.6 311.4L483.1 311.9L484.9 314.9L486.7 316.2L487.7 320.1L486.7 323.6L483.9 322.8L482.8 319.7L479.6 322.8L476.8 321.9L476.1 319.7L470.8 319.7L464.5 319.7" stroke-width="3.6"/><path d="M445.1 328.0L446.1 329.7L441.6 332.8L440.1 336.3L442.6 337.6L446.8 334.1L449.7 332.8L454.9 331.0L458.5 329.7L462.0 327.1L462.7 325.8L460.6 322.3L456.7 327.5" stroke-width="3.2"/><path d="M439.4 308.4L447.9 307.9L454.9 307.9L462.0 307.9L466.2 304.0L472.6 302.7L476.1 300.5" stroke-width="3.0"/><path d="M351.1 245.3L357.3 247.5" stroke-width="2.5"/><path d="M375.6 229.6L380.5 231.9" stroke-width="2.4"/><path d="M373.9 231.5L378.8 230.2" stroke-width="2.3"/><path d="M347.1 229.3L350.9 228.2" stroke-width="2.7"/><path d="M362.8 232.5L369.0 230.7" stroke-width="2.3"/><path d="M310.4 229.0L316.9 227.6" stroke-width="1.9"/><path d="M380.6 248.2L384.7 250.5" stroke-width="2.2"/><path d="M355.6 233.5L362.3 234.5" stroke-width="2.8"/><path d="M373.3 235.6L377.7 233.9" stroke-width="1.8"/><path d="M305.3 235.6L310.8 233.1" stroke-width="2.4"/><path d="M327.7 235.8L334.0 235.7" stroke-width="2.0"/><path d="M339.5 244.5L342.7 246.9" stroke-width="1.6"/><path d="M361.5 247.6L364.6 249.0" stroke-width="2.0"/><path d="M347.4 229.2L350.6 227.6" stroke-width="2.7"/><path d="M316.1 245.6L322.8 247.8" stroke-width="2.0"/><path d="M329.1 240.5L335.2 238.6" stroke-width="2.5"/><path d="M365.4 247.9L368.5 250.1" stroke-width="1.7"/><path d="M327.9 242.4L334.6 241.6" stroke-width="2.7"/><path d="M344.7 235.9L349.0 234.3" stroke-width="1.7"/><path d="M312.2 244.2L319.2 242.5" stroke-width="1.7"/><path d="M380.9 240.7L385.5 239.4" stroke-width="2.3"/><path d="M367.8 239.0L372.4 236.8" stroke-width="2.7"/><path d="M302.7 239.9L309.0 238.0" stroke-width="2.5"/><path d="M377.9 242.9L384.0 240.9" stroke-width="2.1"/><path d="M312.2 247.6L316.4 247.3" stroke-width="2.8"/><path d="M369.9 250.5L374.7 250.4" stroke-width="2.5"/><path d="M436.1 238.6L440.7 237.3" stroke-width="2.1"/><path d="M457.5 260.7L463.0 261.2" stroke-width="2.0"/><path d="M419.7 238.0L425.9 240.3" stroke-width="2.0"/><path d="M449.0 254.6L454.8 255.9" stroke-width="2.5"/><path d="M431.3 252.2L435.4 252.7" stroke-width="2.5"/><path d="M445.0 238.7L451.8 239.9" stroke-width="2.3"/><path d="M435.4 256.0L441.0 257.9" stroke-width="2.0"/><path d="M443.1 253.3L449.4 253.1" stroke-width="2.6"/><path d="M452.5 251.7L459.4 254.5" stroke-width="2.2"/><path d="M438.2 234.5L444.6 237.2" stroke-width="2.2"/><path d="M445.0 252.7L451.0 251.6" stroke-width="2.5"/><path d="M440.4 251.0L445.1 252.1" stroke-width="2.5"/><path d="M442.7 252.8L445.9 251.6" stroke-width="2.1"/><path d="M443.3 236.2L449.0 237.4" stroke-width="1.7"/><path d="M435.8 236.5L439.0 235.1" stroke-width="2.0"/><path d="M423.6 235.4L426.8 235.7" stroke-width="2.1"/><path d="M273.6 248.1L276.6 249.7" stroke-width="1.4"/><path d="M259.6 237.5L263.2 235.9" stroke-width="2.2"/><path d="M257.4 229.2L261.9 227.6" stroke-width="1.9"/><path d="M255.1 247.8L260.9 249.0" stroke-width="1.8"/><path d="M287.3 249.8L290.8 248.4" stroke-width="2.0"/><path d="M270.3 260.5L276.2 261.0" stroke-width="1.8"/><path d="M292.8 228.0L295.2 228.3" stroke-width="2.0"/><path d="M241.6 249.4L247.1 248.9" stroke-width="1.8"/><path d="M247.4 237.9L253.3 237.4" stroke-width="2.4"/><path d="M294.1 248.3L297.2 250.2" stroke-width="1.9"/><path d="M260.3 238.9L266.2 238.8" stroke-width="1.7"/><path d="M264.4 232.1L268.9 231.9" stroke-width="1.7"/><path d="M285.2 256.1L287.2 256.2" stroke-width="1.7"/><path d="M295.6 254.6L298.6 253.7" stroke-width="1.6"/><path d="M591.0 453.5L593.0 457.0" stroke-width="2.4"/><path d="M588.0 460.5L591.0 462.0" stroke-width="2.6"/></g><g fill="#000"><ellipse cx="183.7" cy="258.8" rx="2.0" ry="2.0"/><ellipse cx="203.9" cy="265.2" rx="2.5" ry="1.5" transform="rotate(30 203.9 265.2)"/><ellipse cx="208.0" cy="294.6" rx="3.2" ry="5.0" transform="rotate(-35 208.0 294.6)"/><ellipse cx="238.8" cy="281.7" rx="3.5" ry="1.3" transform="rotate(-20 238.8 281.7)"/><ellipse cx="233.3" cy="288.2" rx="1.5" ry="1.5"/><ellipse cx="258.0" cy="250.5" rx="3.2" ry="2.0"/><ellipse cx="293.0" cy="281.7" rx="4.0" ry="3.0"/><ellipse cx="266.4" cy="285.0" rx="3.5" ry="1.5"/><ellipse cx="299.5" cy="276.2" rx="5.0" ry="2.5" transform="rotate(-15 299.5 276.2)"/><ellipse cx="313.0" cy="276.7" rx="4.0" ry="6.0"/><ellipse cx="306.8" cy="285.9" rx="5.0" ry="1.5"/><ellipse cx="295.0" cy="304.7" rx="4.0" ry="1.7"/><ellipse cx="294.0" cy="319.0" rx="5.0" ry="1.5"/><ellipse cx="311.4" cy="318.0" rx="4.0" ry="1.5"/><ellipse cx="256.3" cy="298.3" rx="2.5" ry="1.2" transform="rotate(45 256.3 298.3)"/><ellipse cx="257.6" cy="310.7" rx="1.3" ry="4.5"/><ellipse cx="262.7" cy="316.7" rx="1.5" ry="1.5"/><ellipse cx="271.0" cy="317.6" rx="1.3" ry="1.3"/><ellipse cx="279.3" cy="323.0" rx="1.5" ry="1.5"/><ellipse cx="341.0" cy="290.0" rx="2.5" ry="3.0"/><ellipse cx="351.0" cy="302.0" rx="3.5" ry="2.5"/><ellipse cx="340.0" cy="315.0" rx="3.0" ry="4.0"/><ellipse cx="361.5" cy="310.0" rx="3.0" ry="3.0"/><ellipse cx="331.0" cy="282.0" rx="3.5" ry="1.2"/><ellipse cx="323.7" cy="254.0" rx="1.5" ry="1.5"/><ellipse cx="329.0" cy="258.0" rx="1.5" ry="1.5"/><ellipse cx="338.4" cy="255.0" rx="1.5" ry="1.5"/><ellipse cx="393.0" cy="256.0" rx="2.5" ry="3.0"/><ellipse cx="394.5" cy="281.0" rx="3.0" ry="3.7"/><ellipse cx="386.0" cy="297.0" rx="3.5" ry="2.2"/><ellipse cx="402.7" cy="294.0" rx="1.5" ry="1.5"/><ellipse cx="412.0" cy="262.0" rx="3.5" ry="1.5"/><ellipse cx="410.0" cy="276.0" rx="2.0" ry="1.2"/><ellipse cx="412.0" cy="281.7" rx="2.0" ry="1.2"/><ellipse cx="416.5" cy="286.0" rx="3.0" ry="1.2"/><ellipse cx="423.0" cy="293.7" rx="3.5" ry="2.0"/><ellipse cx="429.0" cy="291.0" rx="3.0" ry="3.2"/><ellipse cx="431.0" cy="303.0" rx="3.0" ry="2.0"/><ellipse cx="415.6" cy="305.6" rx="3.5" ry="3.0"/><ellipse cx="401.0" cy="308.4" rx="2.0" ry="1.2"/><ellipse cx="410.0" cy="315.0" rx="2.0" ry="1.2"/><ellipse cx="403.6" cy="320.0" rx="2.5" ry="2.2"/><ellipse cx="421.0" cy="315.0" rx="2.0" ry="1.2"/><ellipse cx="431.0" cy="281.0" rx="1.2" ry="2.0"/><ellipse cx="446.0" cy="289.5" rx="6.0" ry="3.2"/><ellipse cx="425.0" cy="307.0" rx="2.5" ry="1.5"/><ellipse cx="438.0" cy="297.0" rx="2.0" ry="1.5"/><ellipse cx="243.4" cy="341.5" rx="1.5" ry="1.5"/><ellipse cx="242.5" cy="348.9" rx="1.5" ry="1.2"/><ellipse cx="250.8" cy="356.3" rx="1.5" ry="1.5"/><ellipse cx="277.0" cy="344.3" rx="2.0" ry="4.0"/><ellipse cx="282.0" cy="332.4" rx="1.5" ry="1.5"/><ellipse cx="287.5" cy="347.0" rx="1.5" ry="1.5"/><ellipse cx="296.7" cy="342.5" rx="1.3" ry="2.0"/><ellipse cx="303.2" cy="341.5" rx="1.2" ry="1.8"/><ellipse cx="283.0" cy="363.6" rx="2.0" ry="2.0"/><ellipse cx="270.6" cy="371.0" rx="1.7" ry="3.5"/><ellipse cx="265.5" cy="380.0" rx="1.3" ry="1.3"/><ellipse cx="295.8" cy="382.0" rx="1.5" ry="1.5"/><ellipse cx="310.5" cy="360.8" rx="1.3" ry="1.3"/><ellipse cx="315.0" cy="347.0" rx="1.5" ry="1.2"/><ellipse cx="317.0" cy="397.6" rx="1.5" ry="1.5"/><ellipse cx="301.3" cy="405.9" rx="1.5" ry="1.3"/><ellipse cx="288.5" cy="394.0" rx="1.2" ry="1.2"/><ellipse cx="286.6" cy="404.0" rx="1.2" ry="1.5"/><ellipse cx="428.3" cy="596.2" rx="2.0" ry="3.2" transform="rotate(-30 428.3 596.2)"/><ellipse cx="436.7" cy="612.0" rx="1.4" ry="2.0"/><ellipse cx="480.3" cy="536.2" rx="1.3" ry="1.3"/><ellipse cx="442.3" cy="537.4" rx="1.2" ry="1.2"/><ellipse cx="452.0" cy="493.3" rx="1.2" ry="1.5"/><ellipse cx="477.8" cy="505.5" rx="1.2" ry="1.2"/><ellipse cx="514.6" cy="608.5" rx="1.2" ry="1.5"/><ellipse cx="511.0" cy="617.0" rx="1.2" ry="1.2"/><ellipse cx="512.5" cy="618.0" rx="4.5" ry="2.6" transform="rotate(-35 512.5 618.0)"/><ellipse cx="502.5" cy="627.0" rx="2.2" ry="1.5"/><ellipse cx="452.8" cy="660.8" rx="1.6" ry="1.6"/><ellipse cx="431.9" cy="725.2" rx="1.5" ry="1.3"/><ellipse cx="420.8" cy="722.5" rx="1.5" ry="1.0"/><ellipse cx="419.7" cy="730.3" rx="1.5" ry="1.2"/><ellipse cx="447.0" cy="709.5" rx="2.6" ry="2.2"/><ellipse cx="323.7" cy="238.0" rx="2.5" ry="1.8"/><ellipse cx="329.0" cy="258.0" rx="1.5" ry="1.5"/><ellipse cx="423.0" cy="243.0" rx="4.0" ry="3.0"/><ellipse cx="435.8" cy="250.0" rx="5.5" ry="2.5"/><ellipse cx="430.0" cy="280.0" rx="1.0" ry="2.5"/><ellipse cx="584.5" cy="361.5" rx="1.8" ry="1.0"/><ellipse cx="364.0" cy="368.0" rx="1.2" ry="3.0"/><ellipse cx="381.0" cy="377.0" rx="2.0" ry="1.2"/><ellipse cx="367.8" cy="381.0" rx="1.2" ry="1.2"/><ellipse cx="373.3" cy="389.0" rx="1.1" ry="2.5"/><ellipse cx="343.9" cy="388.2" rx="1.3" ry="1.5"/><ellipse cx="332.9" cy="379.0" rx="1.4" ry="1.4"/><ellipse cx="354.0" cy="394.7" rx="1.2" ry="1.2"/><ellipse cx="392.6" cy="364.3" rx="1.3" ry="1.1"/><ellipse cx="397.2" cy="367.1" rx="1.6" ry="1.1"/><ellipse cx="414.7" cy="331.3" rx="1.5" ry="3.5"/><ellipse cx="391.7" cy="317.0" rx="1.3" ry="3.0"/><ellipse cx="400.0" cy="308.3" rx="1.5" ry="1.3"/><ellipse cx="399.0" cy="318.4" rx="1.5" ry="1.2"/><ellipse cx="404.6" cy="320.2" rx="2.0" ry="1.2"/><ellipse cx="410.0" cy="313.8" rx="1.5" ry="1.5"/><ellipse cx="417.4" cy="315.6" rx="2.0" ry="1.3"/><ellipse cx="415.6" cy="306.4" rx="1.4" ry="2.5"/><ellipse cx="344.0" cy="325.0" rx="1.3" ry="1.3"/><ellipse cx="347.5" cy="333.0" rx="1.3" ry="1.5"/><ellipse cx="353.0" cy="337.0" rx="1.2" ry="1.2"/><ellipse cx="324.0" cy="334.0" rx="1.2" ry="2.5"/><ellipse cx="476.0" cy="669.7" rx="2.5" ry="1.5" transform="rotate(-20 476.0 669.7)"/><ellipse cx="592.5" cy="241.5" rx="4.5" ry="3.5"/><ellipse cx="585.6" cy="452.3" rx="2.0" ry="1.5"/></g></g>
</g>
<rect x="179.7" y="223" width="429.9" height="609.5" fill="none" stroke="#000" stroke-width="2.9"/>
<path d="M174 831.9H179M174 788.3H179M174 744.8H179M174 701.2H179M174 657.6H179M174 614.1H179M174 570.5H179M174 527.0H179M174 483.4H179M174 439.9H179M174 396.4H179M174 352.8H179M174 309.2H179M174 265.7H179M180.0 833V838M250.5 833V838M321.0 833V838M391.5 833V838M462.0 833V838M532.5 833V838M603.0 833V838" stroke="#000" stroke-width="2.4" fill="none"/>
<g class="ax">
<text x="146.0" y="837.5" font-size="16.2" textLength="25" lengthAdjust="spacingAndGlyphs">70S</text>
<text x="146.0" y="793.9" font-size="16.2" textLength="25" lengthAdjust="spacingAndGlyphs">60S</text>
<text x="146.0" y="750.4" font-size="16.2" textLength="25" lengthAdjust="spacingAndGlyphs">50S</text>
<text x="146.0" y="706.8" font-size="16.2" textLength="25" lengthAdjust="spacingAndGlyphs">40S</text>
<text x="146.0" y="663.2" font-size="16.2" textLength="25" lengthAdjust="spacingAndGlyphs">30S</text>
<text x="146.0" y="619.7" font-size="16.2" textLength="25" lengthAdjust="spacingAndGlyphs">20S</text>
<text x="148.0" y="576.1" font-size="16.2" textLength="23" lengthAdjust="spacingAndGlyphs">10S</text>
<text x="154.0" y="532.6" font-size="16.2" textLength="17" lengthAdjust="spacingAndGlyphs">EQ</text>
<text x="148.0" y="489.1" font-size="16.2" textLength="23" lengthAdjust="spacingAndGlyphs">10N</text>
<text x="146.0" y="445.5" font-size="16.2" textLength="25" lengthAdjust="spacingAndGlyphs">20N</text>
<text x="146.0" y="402.0" font-size="16.2" textLength="25" lengthAdjust="spacingAndGlyphs">30N</text>
<text x="146.0" y="358.4" font-size="16.2" textLength="25" lengthAdjust="spacingAndGlyphs">40N</text>
<text x="146.0" y="314.9" font-size="16.2" textLength="25" lengthAdjust="spacingAndGlyphs">50N</text>
<text x="146.0" y="271.3" font-size="16.2" textLength="25" lengthAdjust="spacingAndGlyphs">60N</text>
<text x="164.0" y="851.7" font-size="16.4" textLength="32" lengthAdjust="spacingAndGlyphs">140W</text>
<text x="234.5" y="851.7" font-size="16.4" textLength="32" lengthAdjust="spacingAndGlyphs">120W</text>
<text x="305.0" y="851.7" font-size="16.4" textLength="32" lengthAdjust="spacingAndGlyphs">100W</text>
<text x="379.0" y="851.7" font-size="16.4" textLength="25" lengthAdjust="spacingAndGlyphs">80W</text>
<text x="449.5" y="851.7" font-size="16.4" textLength="25" lengthAdjust="spacingAndGlyphs">60W</text>
<text x="520.0" y="851.7" font-size="16.4" textLength="25" lengthAdjust="spacingAndGlyphs">40W</text>
<text x="590.5" y="851.7" font-size="16.4" textLength="25" lengthAdjust="spacingAndGlyphs">20W</text>
<rect x="150" y="888" width="35" height="15.5" fill="#1464d2"/>
<rect x="185" y="888" width="35" height="15.5" fill="#2882f0"/>
<rect x="220" y="888" width="35" height="15.5" fill="#50a5f5"/>
<rect x="255" y="888" width="35" height="15.5" fill="#b4f0fa"/>
<rect x="290" y="888" width="35" height="15.5" fill="#fffaaa"/>
<rect x="325" y="888" width="35" height="15.5" fill="#ffe878"/>
<rect x="360" y="888" width="35" height="15.5" fill="#ffc03c"/>
<rect x="395" y="888" width="35" height="15.5" fill="#ffa000"/>
<rect x="430" y="888" width="35" height="15.5" fill="#ff6000"/>
<rect x="465" y="888" width="35" height="15.5" fill="#ff3200"/>
<rect x="500" y="888" width="35" height="15.5" fill="#e11400"/>
<rect x="535" y="888" width="35" height="15.5" fill="#c00000"/>
<rect x="570" y="888" width="35" height="15.5" fill="#a50000"/>
<rect x="605" y="888" width="35" height="15.5" fill="#a02020"/>
<text x="177.6" y="916.8" font-size="13" textLength="16.6" lengthAdjust="spacingAndGlyphs">90</text>
<text x="212.6" y="916.8" font-size="13" textLength="16.6" lengthAdjust="spacingAndGlyphs">95</text>
<text x="244.2" y="916.8" font-size="13" textLength="23.3" lengthAdjust="spacingAndGlyphs">100</text>
<text x="279.2" y="916.8" font-size="13" textLength="23.3" lengthAdjust="spacingAndGlyphs">105</text>
<text x="314.2" y="916.8" font-size="13" textLength="23.3" lengthAdjust="spacingAndGlyphs">110</text>
<text x="349.2" y="916.8" font-size="13" textLength="23.3" lengthAdjust="spacingAndGlyphs">115</text>
<text x="384.2" y="916.8" font-size="13" textLength="23.3" lengthAdjust="spacingAndGlyphs">120</text>
<text x="419.2" y="916.8" font-size="13" textLength="23.3" lengthAdjust="spacingAndGlyphs">130</text>
<text x="454.2" y="916.8" font-size="13" textLength="23.3" lengthAdjust="spacingAndGlyphs">140</text>
<text x="489.2" y="916.8" font-size="13" textLength="23.3" lengthAdjust="spacingAndGlyphs">150</text>
<text x="524.2" y="916.8" font-size="13" textLength="23.3" lengthAdjust="spacingAndGlyphs">160</text>
<text x="559.2" y="916.8" font-size="13" textLength="23.3" lengthAdjust="spacingAndGlyphs">170</text>
<text x="594.2" y="916.8" font-size="13" textLength="23.3" lengthAdjust="spacingAndGlyphs">180</text>
</g>
</svg></body></html>
